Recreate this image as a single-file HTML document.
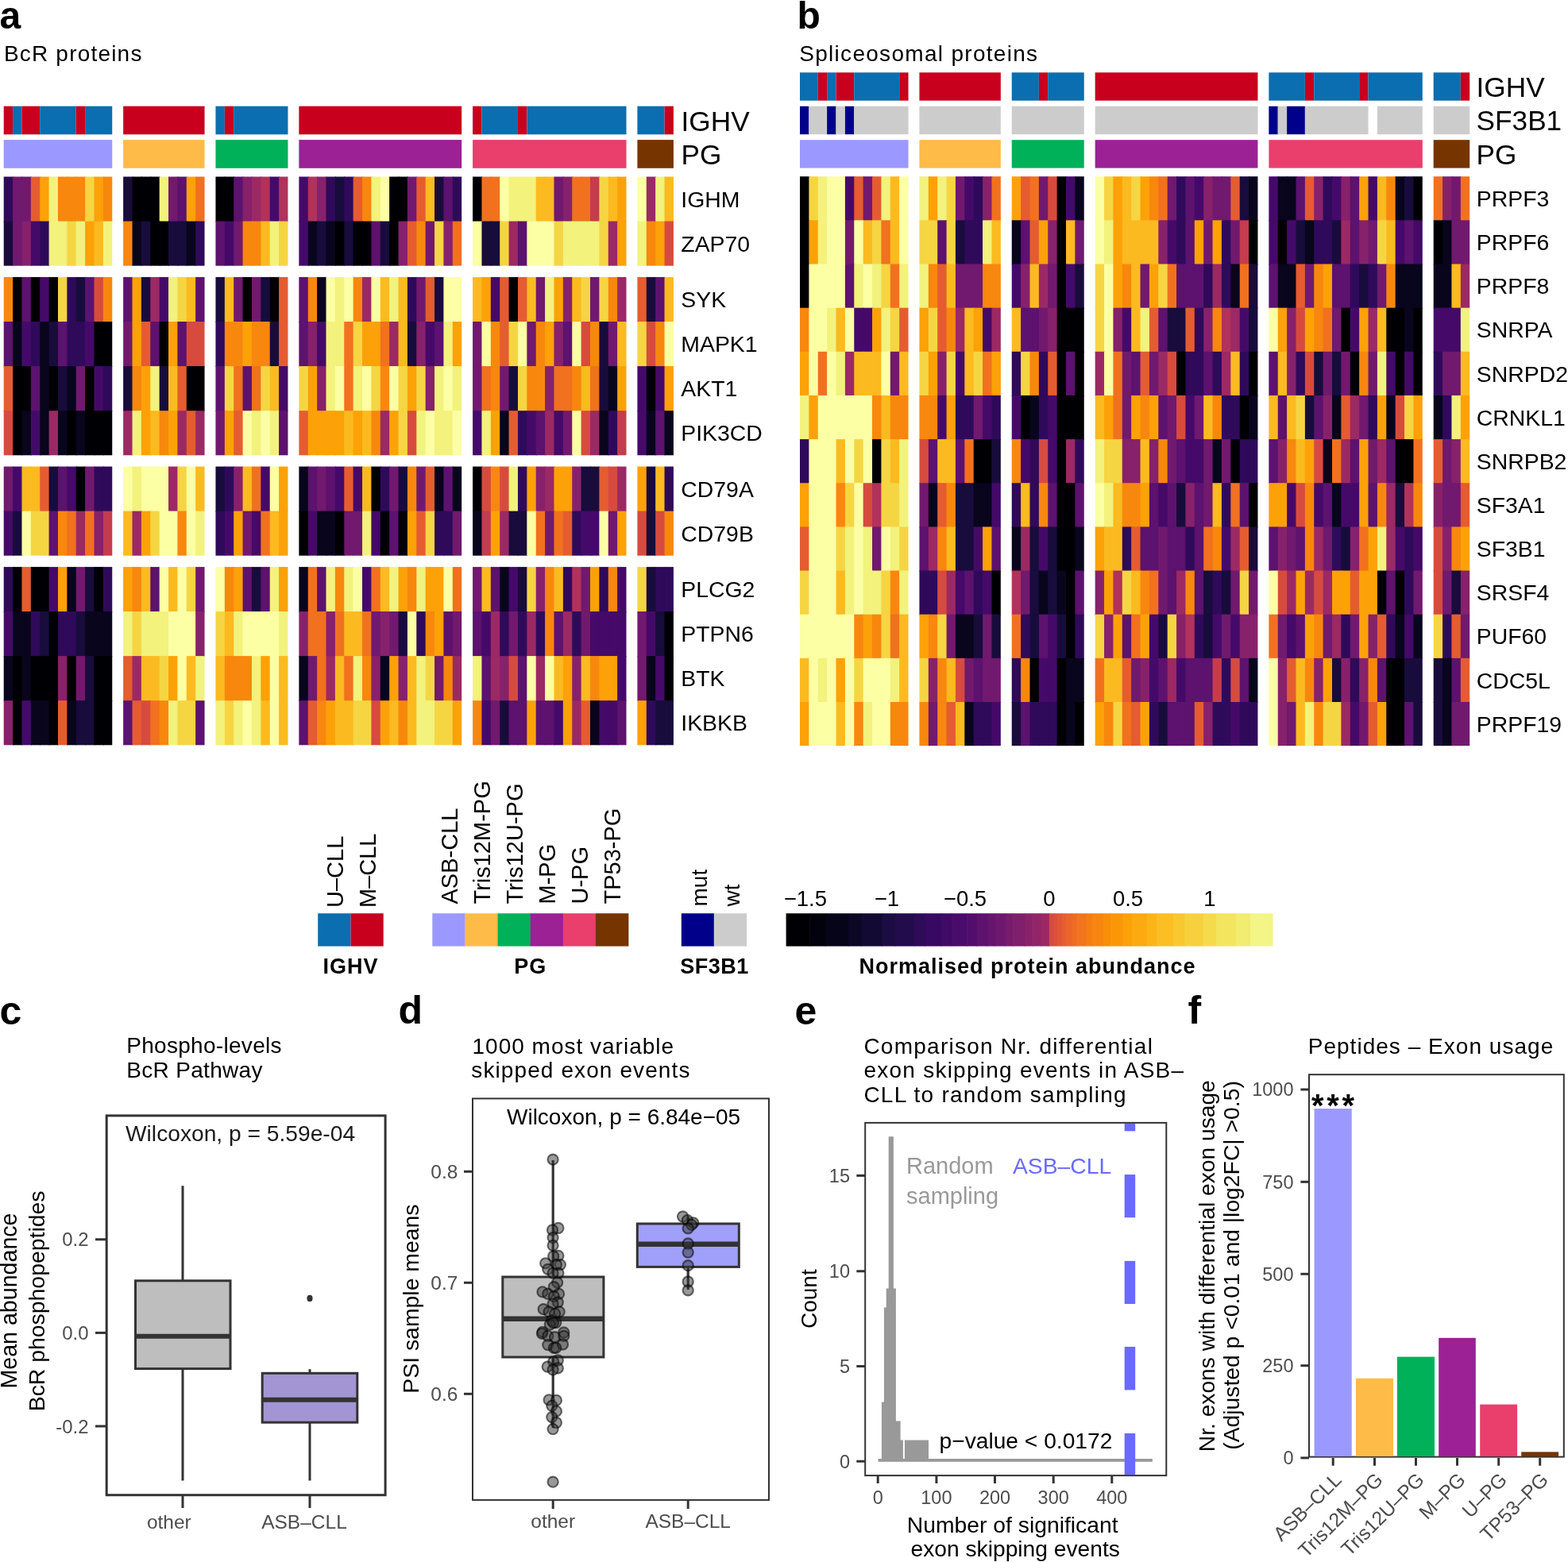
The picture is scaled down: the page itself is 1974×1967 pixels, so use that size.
<!DOCTYPE html>
<html><head><meta charset="utf-8"><title>Figure</title>
<style>
html,body{margin:0;padding:0;background:#fff;}
svg{display:block;}
text{font-family:'Liberation Sans', Arial, Helvetica, sans-serif;}
</style></head>
<body>
<svg width="1974" height="1967" viewBox="0 0 1974 1967">
<rect x="0" y="0" width="1974" height="1967" fill="#fff"/>
<text x="-0.5" y="36.2" font-size="48" font-weight="bold">a</text>
<text x="4.9" y="76.6" font-size="28" letter-spacing="1.2">BcR proteins</text>
<rect x="4.71" y="133.70" width="11.38" height="35.60" fill="#c8001e"/>
<rect x="16.09" y="133.70" width="11.38" height="35.60" fill="#0a6eb0"/>
<rect x="27.47" y="133.70" width="22.76" height="35.60" fill="#c8001e"/>
<rect x="50.22" y="133.70" width="45.51" height="35.60" fill="#0a6eb0"/>
<rect x="95.73" y="133.70" width="11.38" height="35.60" fill="#c8001e"/>
<rect x="107.11" y="133.70" width="34.13" height="35.60" fill="#0a6eb0"/>
<rect x="155.15" y="133.70" width="102.40" height="35.60" fill="#c8001e"/>
<rect x="271.45" y="133.70" width="11.38" height="35.60" fill="#0a6eb0"/>
<rect x="282.83" y="133.70" width="11.38" height="35.60" fill="#c8001e"/>
<rect x="294.20" y="133.70" width="68.27" height="35.60" fill="#0a6eb0"/>
<rect x="376.37" y="133.70" width="204.80" height="35.60" fill="#c8001e"/>
<rect x="595.08" y="133.70" width="11.38" height="35.60" fill="#c8001e"/>
<rect x="606.45" y="133.70" width="45.51" height="35.60" fill="#0a6eb0"/>
<rect x="651.97" y="133.70" width="11.38" height="35.60" fill="#c8001e"/>
<rect x="663.34" y="133.70" width="125.16" height="35.60" fill="#0a6eb0"/>
<rect x="802.40" y="133.70" width="34.13" height="35.60" fill="#0a6eb0"/>
<rect x="836.54" y="133.70" width="11.38" height="35.60" fill="#c8001e"/>
<rect x="4.71" y="176.10" width="136.54" height="35.70" fill="#9b98ff"/>
<rect x="155.15" y="176.10" width="102.40" height="35.70" fill="#ffbb48"/>
<rect x="271.45" y="176.10" width="91.02" height="35.70" fill="#00b159"/>
<rect x="376.37" y="176.10" width="204.80" height="35.70" fill="#9b2194"/>
<rect x="595.08" y="176.10" width="193.43" height="35.70" fill="#ea3e6d"/>
<rect x="802.40" y="176.10" width="45.51" height="35.70" fill="#753400"/>
<rect x="4.71" y="222.50" width="12.38" height="57.10" fill="#2f0a5b"/>
<rect x="16.09" y="222.50" width="12.38" height="57.10" fill="#71196e"/>
<rect x="27.47" y="222.50" width="12.38" height="57.10" fill="#71196e"/>
<rect x="38.84" y="222.50" width="12.38" height="57.10" fill="#e55c30"/>
<rect x="50.22" y="222.50" width="12.38" height="57.10" fill="#fca108"/>
<rect x="61.60" y="222.50" width="12.38" height="57.10" fill="#f2f27d"/>
<rect x="72.98" y="222.50" width="12.38" height="57.10" fill="#f8870e"/>
<rect x="84.36" y="222.50" width="12.38" height="57.10" fill="#f8870e"/>
<rect x="95.73" y="222.50" width="12.38" height="57.10" fill="#f8870e"/>
<rect x="107.11" y="222.50" width="12.38" height="57.10" fill="#f6d543"/>
<rect x="118.49" y="222.50" width="12.38" height="57.10" fill="#fca108"/>
<rect x="129.87" y="222.50" width="11.38" height="57.10" fill="#f8870e"/>
<rect x="4.71" y="278.60" width="12.38" height="56.10" fill="#180c3c"/>
<rect x="16.09" y="278.60" width="12.38" height="56.10" fill="#71196e"/>
<rect x="27.47" y="278.60" width="12.38" height="56.10" fill="#87216b"/>
<rect x="38.84" y="278.60" width="12.38" height="56.10" fill="#450a69"/>
<rect x="50.22" y="278.60" width="12.38" height="56.10" fill="#2f0a5b"/>
<rect x="61.60" y="278.60" width="12.38" height="56.10" fill="#f2f27d"/>
<rect x="72.98" y="278.60" width="12.38" height="56.10" fill="#f2f27d"/>
<rect x="84.36" y="278.60" width="12.38" height="56.10" fill="#f6d543"/>
<rect x="95.73" y="278.60" width="12.38" height="56.10" fill="#f2f27d"/>
<rect x="107.11" y="278.60" width="12.38" height="56.10" fill="#fca108"/>
<rect x="118.49" y="278.60" width="12.38" height="56.10" fill="#fbba1f"/>
<rect x="129.87" y="278.60" width="11.38" height="56.10" fill="#f2f27d"/>
<rect x="4.71" y="348.90" width="12.38" height="57.10" fill="#f8870e"/>
<rect x="16.09" y="348.90" width="12.38" height="57.10" fill="#000004"/>
<rect x="27.47" y="348.90" width="12.38" height="57.10" fill="#5c126e"/>
<rect x="38.84" y="348.90" width="12.38" height="57.10" fill="#000004"/>
<rect x="50.22" y="348.90" width="12.38" height="57.10" fill="#450a69"/>
<rect x="61.60" y="348.90" width="12.38" height="57.10" fill="#000004"/>
<rect x="72.98" y="348.90" width="12.38" height="57.10" fill="#f6d543"/>
<rect x="84.36" y="348.90" width="12.38" height="57.10" fill="#2f0a5b"/>
<rect x="95.73" y="348.90" width="12.38" height="57.10" fill="#180c3c"/>
<rect x="107.11" y="348.90" width="12.38" height="57.10" fill="#5c126e"/>
<rect x="118.49" y="348.90" width="12.38" height="57.10" fill="#d74b3f"/>
<rect x="129.87" y="348.90" width="11.38" height="57.10" fill="#f8870e"/>
<rect x="4.71" y="405.00" width="12.38" height="57.10" fill="#5c126e"/>
<rect x="16.09" y="405.00" width="12.38" height="57.10" fill="#08051d"/>
<rect x="27.47" y="405.00" width="12.38" height="57.10" fill="#450a69"/>
<rect x="38.84" y="405.00" width="12.38" height="57.10" fill="#2f0a5b"/>
<rect x="50.22" y="405.00" width="12.38" height="57.10" fill="#08051d"/>
<rect x="61.60" y="405.00" width="12.38" height="57.10" fill="#180c3c"/>
<rect x="72.98" y="405.00" width="12.38" height="57.10" fill="#5c126e"/>
<rect x="84.36" y="405.00" width="12.38" height="57.10" fill="#2f0a5b"/>
<rect x="95.73" y="405.00" width="12.38" height="57.10" fill="#2f0a5b"/>
<rect x="107.11" y="405.00" width="12.38" height="57.10" fill="#450a69"/>
<rect x="118.49" y="405.00" width="12.38" height="57.10" fill="#000004"/>
<rect x="129.87" y="405.00" width="11.38" height="57.10" fill="#000004"/>
<rect x="4.71" y="461.10" width="12.38" height="57.10" fill="#e55c30"/>
<rect x="16.09" y="461.10" width="12.38" height="57.10" fill="#000004"/>
<rect x="27.47" y="461.10" width="12.38" height="57.10" fill="#000004"/>
<rect x="38.84" y="461.10" width="12.38" height="57.10" fill="#5c126e"/>
<rect x="50.22" y="461.10" width="12.38" height="57.10" fill="#08051d"/>
<rect x="61.60" y="461.10" width="12.38" height="57.10" fill="#000004"/>
<rect x="72.98" y="461.10" width="12.38" height="57.10" fill="#180c3c"/>
<rect x="84.36" y="461.10" width="12.38" height="57.10" fill="#08051d"/>
<rect x="95.73" y="461.10" width="12.38" height="57.10" fill="#71196e"/>
<rect x="107.11" y="461.10" width="12.38" height="57.10" fill="#000004"/>
<rect x="118.49" y="461.10" width="12.38" height="57.10" fill="#450a69"/>
<rect x="129.87" y="461.10" width="11.38" height="57.10" fill="#2f0a5b"/>
<rect x="4.71" y="517.20" width="12.38" height="56.10" fill="#d74b3f"/>
<rect x="16.09" y="517.20" width="12.38" height="56.10" fill="#000004"/>
<rect x="27.47" y="517.20" width="12.38" height="56.10" fill="#08051d"/>
<rect x="38.84" y="517.20" width="12.38" height="56.10" fill="#450a69"/>
<rect x="50.22" y="517.20" width="12.38" height="56.10" fill="#08051d"/>
<rect x="61.60" y="517.20" width="12.38" height="56.10" fill="#9b2964"/>
<rect x="72.98" y="517.20" width="12.38" height="56.10" fill="#08051d"/>
<rect x="84.36" y="517.20" width="12.38" height="56.10" fill="#000004"/>
<rect x="95.73" y="517.20" width="12.38" height="56.10" fill="#08051d"/>
<rect x="107.11" y="517.20" width="12.38" height="56.10" fill="#000004"/>
<rect x="118.49" y="517.20" width="12.38" height="56.10" fill="#000004"/>
<rect x="129.87" y="517.20" width="11.38" height="56.10" fill="#000004"/>
<rect x="4.71" y="587.50" width="12.38" height="57.10" fill="#71196e"/>
<rect x="16.09" y="587.50" width="12.38" height="57.10" fill="#450a69"/>
<rect x="27.47" y="587.50" width="12.38" height="57.10" fill="#fbba1f"/>
<rect x="38.84" y="587.50" width="12.38" height="57.10" fill="#fbba1f"/>
<rect x="50.22" y="587.50" width="12.38" height="57.10" fill="#e55c30"/>
<rect x="61.60" y="587.50" width="12.38" height="57.10" fill="#180c3c"/>
<rect x="72.98" y="587.50" width="12.38" height="57.10" fill="#5c126e"/>
<rect x="84.36" y="587.50" width="12.38" height="57.10" fill="#450a69"/>
<rect x="95.73" y="587.50" width="12.38" height="57.10" fill="#000004"/>
<rect x="107.11" y="587.50" width="12.38" height="57.10" fill="#71196e"/>
<rect x="118.49" y="587.50" width="12.38" height="57.10" fill="#2f0a5b"/>
<rect x="129.87" y="587.50" width="11.38" height="57.10" fill="#2f0a5b"/>
<rect x="4.71" y="643.60" width="12.38" height="56.10" fill="#450a69"/>
<rect x="16.09" y="643.60" width="12.38" height="56.10" fill="#180c3c"/>
<rect x="27.47" y="643.60" width="12.38" height="56.10" fill="#fcffa4"/>
<rect x="38.84" y="643.60" width="12.38" height="56.10" fill="#f6d543"/>
<rect x="50.22" y="643.60" width="12.38" height="56.10" fill="#f6d543"/>
<rect x="61.60" y="643.60" width="12.38" height="56.10" fill="#5c126e"/>
<rect x="72.98" y="643.60" width="12.38" height="56.10" fill="#f8870e"/>
<rect x="84.36" y="643.60" width="12.38" height="56.10" fill="#f1711f"/>
<rect x="95.73" y="643.60" width="12.38" height="56.10" fill="#9b2964"/>
<rect x="107.11" y="643.60" width="12.38" height="56.10" fill="#f1711f"/>
<rect x="118.49" y="643.60" width="12.38" height="56.10" fill="#87216b"/>
<rect x="129.87" y="643.60" width="11.38" height="56.10" fill="#c43c4e"/>
<rect x="4.71" y="713.90" width="12.38" height="57.10" fill="#2f0a5b"/>
<rect x="16.09" y="713.90" width="12.38" height="57.10" fill="#000004"/>
<rect x="27.47" y="713.90" width="12.38" height="57.10" fill="#e55c30"/>
<rect x="38.84" y="713.90" width="12.38" height="57.10" fill="#000004"/>
<rect x="50.22" y="713.90" width="12.38" height="57.10" fill="#000004"/>
<rect x="61.60" y="713.90" width="12.38" height="57.10" fill="#450a69"/>
<rect x="72.98" y="713.90" width="12.38" height="57.10" fill="#fca108"/>
<rect x="84.36" y="713.90" width="12.38" height="57.10" fill="#08051d"/>
<rect x="95.73" y="713.90" width="12.38" height="57.10" fill="#71196e"/>
<rect x="107.11" y="713.90" width="12.38" height="57.10" fill="#180c3c"/>
<rect x="118.49" y="713.90" width="12.38" height="57.10" fill="#000004"/>
<rect x="129.87" y="713.90" width="11.38" height="57.10" fill="#2f0a5b"/>
<rect x="4.71" y="770.00" width="12.38" height="57.10" fill="#450a69"/>
<rect x="16.09" y="770.00" width="12.38" height="57.10" fill="#08051d"/>
<rect x="27.47" y="770.00" width="12.38" height="57.10" fill="#08051d"/>
<rect x="38.84" y="770.00" width="12.38" height="57.10" fill="#2f0a5b"/>
<rect x="50.22" y="770.00" width="12.38" height="57.10" fill="#180c3c"/>
<rect x="61.60" y="770.00" width="12.38" height="57.10" fill="#000004"/>
<rect x="72.98" y="770.00" width="12.38" height="57.10" fill="#2f0a5b"/>
<rect x="84.36" y="770.00" width="12.38" height="57.10" fill="#2f0a5b"/>
<rect x="95.73" y="770.00" width="12.38" height="57.10" fill="#180c3c"/>
<rect x="107.11" y="770.00" width="12.38" height="57.10" fill="#08051d"/>
<rect x="118.49" y="770.00" width="12.38" height="57.10" fill="#08051d"/>
<rect x="129.87" y="770.00" width="11.38" height="57.10" fill="#08051d"/>
<rect x="4.71" y="826.10" width="12.38" height="57.10" fill="#08051d"/>
<rect x="16.09" y="826.10" width="12.38" height="57.10" fill="#000004"/>
<rect x="27.47" y="826.10" width="12.38" height="57.10" fill="#08051d"/>
<rect x="38.84" y="826.10" width="12.38" height="57.10" fill="#000004"/>
<rect x="50.22" y="826.10" width="12.38" height="57.10" fill="#000004"/>
<rect x="61.60" y="826.10" width="12.38" height="57.10" fill="#000004"/>
<rect x="72.98" y="826.10" width="12.38" height="57.10" fill="#87216b"/>
<rect x="84.36" y="826.10" width="12.38" height="57.10" fill="#000004"/>
<rect x="95.73" y="826.10" width="12.38" height="57.10" fill="#71196e"/>
<rect x="107.11" y="826.10" width="12.38" height="57.10" fill="#180c3c"/>
<rect x="118.49" y="826.10" width="12.38" height="57.10" fill="#000004"/>
<rect x="129.87" y="826.10" width="11.38" height="57.10" fill="#000004"/>
<rect x="4.71" y="882.20" width="12.38" height="56.10" fill="#87216b"/>
<rect x="16.09" y="882.20" width="12.38" height="56.10" fill="#000004"/>
<rect x="27.47" y="882.20" width="12.38" height="56.10" fill="#450a69"/>
<rect x="38.84" y="882.20" width="12.38" height="56.10" fill="#08051d"/>
<rect x="50.22" y="882.20" width="12.38" height="56.10" fill="#08051d"/>
<rect x="61.60" y="882.20" width="12.38" height="56.10" fill="#000004"/>
<rect x="72.98" y="882.20" width="12.38" height="56.10" fill="#e55c30"/>
<rect x="84.36" y="882.20" width="12.38" height="56.10" fill="#08051d"/>
<rect x="95.73" y="882.20" width="12.38" height="56.10" fill="#180c3c"/>
<rect x="107.11" y="882.20" width="12.38" height="56.10" fill="#180c3c"/>
<rect x="118.49" y="882.20" width="12.38" height="56.10" fill="#000004"/>
<rect x="129.87" y="882.20" width="11.38" height="56.10" fill="#000004"/>
<rect x="155.15" y="222.50" width="12.38" height="57.10" fill="#180c3c"/>
<rect x="166.52" y="222.50" width="12.38" height="57.10" fill="#000004"/>
<rect x="177.90" y="222.50" width="12.38" height="57.10" fill="#000004"/>
<rect x="189.28" y="222.50" width="12.38" height="57.10" fill="#000004"/>
<rect x="200.66" y="222.50" width="12.38" height="57.10" fill="#f2f27d"/>
<rect x="212.04" y="222.50" width="12.38" height="57.10" fill="#71196e"/>
<rect x="223.41" y="222.50" width="12.38" height="57.10" fill="#5c126e"/>
<rect x="234.79" y="222.50" width="12.38" height="57.10" fill="#fca108"/>
<rect x="246.17" y="222.50" width="11.38" height="57.10" fill="#f1711f"/>
<rect x="155.15" y="278.60" width="12.38" height="56.10" fill="#f8870e"/>
<rect x="166.52" y="278.60" width="12.38" height="56.10" fill="#08051d"/>
<rect x="177.90" y="278.60" width="12.38" height="56.10" fill="#180c3c"/>
<rect x="189.28" y="278.60" width="12.38" height="56.10" fill="#000004"/>
<rect x="200.66" y="278.60" width="12.38" height="56.10" fill="#000004"/>
<rect x="212.04" y="278.60" width="12.38" height="56.10" fill="#180c3c"/>
<rect x="223.41" y="278.60" width="12.38" height="56.10" fill="#180c3c"/>
<rect x="234.79" y="278.60" width="12.38" height="56.10" fill="#08051d"/>
<rect x="246.17" y="278.60" width="11.38" height="56.10" fill="#2f0a5b"/>
<rect x="155.15" y="348.90" width="12.38" height="57.10" fill="#5c126e"/>
<rect x="166.52" y="348.90" width="12.38" height="57.10" fill="#fca108"/>
<rect x="177.90" y="348.90" width="12.38" height="57.10" fill="#180c3c"/>
<rect x="189.28" y="348.90" width="12.38" height="57.10" fill="#9b2964"/>
<rect x="200.66" y="348.90" width="12.38" height="57.10" fill="#450a69"/>
<rect x="212.04" y="348.90" width="12.38" height="57.10" fill="#f2f27d"/>
<rect x="223.41" y="348.90" width="12.38" height="57.10" fill="#f6d543"/>
<rect x="234.79" y="348.90" width="12.38" height="57.10" fill="#fbba1f"/>
<rect x="246.17" y="348.90" width="11.38" height="57.10" fill="#5c126e"/>
<rect x="155.15" y="405.00" width="12.38" height="57.10" fill="#71196e"/>
<rect x="166.52" y="405.00" width="12.38" height="57.10" fill="#fca108"/>
<rect x="177.90" y="405.00" width="12.38" height="57.10" fill="#e55c30"/>
<rect x="189.28" y="405.00" width="12.38" height="57.10" fill="#5c126e"/>
<rect x="200.66" y="405.00" width="12.38" height="57.10" fill="#000004"/>
<rect x="212.04" y="405.00" width="12.38" height="57.10" fill="#fca108"/>
<rect x="223.41" y="405.00" width="12.38" height="57.10" fill="#5c126e"/>
<rect x="234.79" y="405.00" width="12.38" height="57.10" fill="#d74b3f"/>
<rect x="246.17" y="405.00" width="11.38" height="57.10" fill="#d74b3f"/>
<rect x="155.15" y="461.10" width="12.38" height="57.10" fill="#180c3c"/>
<rect x="166.52" y="461.10" width="12.38" height="57.10" fill="#f8870e"/>
<rect x="177.90" y="461.10" width="12.38" height="57.10" fill="#fca108"/>
<rect x="189.28" y="461.10" width="12.38" height="57.10" fill="#f2f27d"/>
<rect x="200.66" y="461.10" width="12.38" height="57.10" fill="#180c3c"/>
<rect x="212.04" y="461.10" width="12.38" height="57.10" fill="#fbba1f"/>
<rect x="223.41" y="461.10" width="12.38" height="57.10" fill="#e55c30"/>
<rect x="234.79" y="461.10" width="12.38" height="57.10" fill="#000004"/>
<rect x="246.17" y="461.10" width="11.38" height="57.10" fill="#000004"/>
<rect x="155.15" y="517.20" width="12.38" height="56.10" fill="#9b2964"/>
<rect x="166.52" y="517.20" width="12.38" height="56.10" fill="#f2f27d"/>
<rect x="177.90" y="517.20" width="12.38" height="56.10" fill="#fca108"/>
<rect x="189.28" y="517.20" width="12.38" height="56.10" fill="#fbba1f"/>
<rect x="200.66" y="517.20" width="12.38" height="56.10" fill="#f8870e"/>
<rect x="212.04" y="517.20" width="12.38" height="56.10" fill="#fca108"/>
<rect x="223.41" y="517.20" width="12.38" height="56.10" fill="#9b2964"/>
<rect x="234.79" y="517.20" width="12.38" height="56.10" fill="#e55c30"/>
<rect x="246.17" y="517.20" width="11.38" height="56.10" fill="#9b2964"/>
<rect x="155.15" y="587.50" width="12.38" height="57.10" fill="#fcffa4"/>
<rect x="166.52" y="587.50" width="12.38" height="57.10" fill="#f2f27d"/>
<rect x="177.90" y="587.50" width="12.38" height="57.10" fill="#fcffa4"/>
<rect x="189.28" y="587.50" width="12.38" height="57.10" fill="#fcffa4"/>
<rect x="200.66" y="587.50" width="12.38" height="57.10" fill="#fcffa4"/>
<rect x="212.04" y="587.50" width="12.38" height="57.10" fill="#9b2964"/>
<rect x="223.41" y="587.50" width="12.38" height="57.10" fill="#f6d543"/>
<rect x="234.79" y="587.50" width="12.38" height="57.10" fill="#fcffa4"/>
<rect x="246.17" y="587.50" width="11.38" height="57.10" fill="#fbba1f"/>
<rect x="155.15" y="643.60" width="12.38" height="56.10" fill="#fbba1f"/>
<rect x="166.52" y="643.60" width="12.38" height="56.10" fill="#9b2964"/>
<rect x="177.90" y="643.60" width="12.38" height="56.10" fill="#fca108"/>
<rect x="189.28" y="643.60" width="12.38" height="56.10" fill="#f6d543"/>
<rect x="200.66" y="643.60" width="12.38" height="56.10" fill="#fcffa4"/>
<rect x="212.04" y="643.60" width="12.38" height="56.10" fill="#fcffa4"/>
<rect x="223.41" y="643.60" width="12.38" height="56.10" fill="#f8870e"/>
<rect x="234.79" y="643.60" width="12.38" height="56.10" fill="#fcffa4"/>
<rect x="246.17" y="643.60" width="11.38" height="56.10" fill="#f2f27d"/>
<rect x="155.15" y="713.90" width="12.38" height="57.10" fill="#fca108"/>
<rect x="166.52" y="713.90" width="12.38" height="57.10" fill="#f8870e"/>
<rect x="177.90" y="713.90" width="12.38" height="57.10" fill="#fbba1f"/>
<rect x="189.28" y="713.90" width="12.38" height="57.10" fill="#5c126e"/>
<rect x="200.66" y="713.90" width="12.38" height="57.10" fill="#fcffa4"/>
<rect x="212.04" y="713.90" width="12.38" height="57.10" fill="#fbba1f"/>
<rect x="223.41" y="713.90" width="12.38" height="57.10" fill="#fcffa4"/>
<rect x="234.79" y="713.90" width="12.38" height="57.10" fill="#f6d543"/>
<rect x="246.17" y="713.90" width="11.38" height="57.10" fill="#71196e"/>
<rect x="155.15" y="770.00" width="12.38" height="57.10" fill="#f2f27d"/>
<rect x="166.52" y="770.00" width="12.38" height="57.10" fill="#f6d543"/>
<rect x="177.90" y="770.00" width="12.38" height="57.10" fill="#f2f27d"/>
<rect x="189.28" y="770.00" width="12.38" height="57.10" fill="#f2f27d"/>
<rect x="200.66" y="770.00" width="12.38" height="57.10" fill="#f2f27d"/>
<rect x="212.04" y="770.00" width="12.38" height="57.10" fill="#fcffa4"/>
<rect x="223.41" y="770.00" width="12.38" height="57.10" fill="#fcffa4"/>
<rect x="234.79" y="770.00" width="12.38" height="57.10" fill="#fcffa4"/>
<rect x="246.17" y="770.00" width="11.38" height="57.10" fill="#87216b"/>
<rect x="155.15" y="826.10" width="12.38" height="57.10" fill="#e55c30"/>
<rect x="166.52" y="826.10" width="12.38" height="57.10" fill="#9b2964"/>
<rect x="177.90" y="826.10" width="12.38" height="57.10" fill="#fbba1f"/>
<rect x="189.28" y="826.10" width="12.38" height="57.10" fill="#fbba1f"/>
<rect x="200.66" y="826.10" width="12.38" height="57.10" fill="#f6d543"/>
<rect x="212.04" y="826.10" width="12.38" height="57.10" fill="#fca108"/>
<rect x="223.41" y="826.10" width="12.38" height="57.10" fill="#fcffa4"/>
<rect x="234.79" y="826.10" width="12.38" height="57.10" fill="#fbba1f"/>
<rect x="246.17" y="826.10" width="11.38" height="57.10" fill="#f2f27d"/>
<rect x="155.15" y="882.20" width="12.38" height="56.10" fill="#5c126e"/>
<rect x="166.52" y="882.20" width="12.38" height="56.10" fill="#e55c30"/>
<rect x="177.90" y="882.20" width="12.38" height="56.10" fill="#d74b3f"/>
<rect x="189.28" y="882.20" width="12.38" height="56.10" fill="#f1711f"/>
<rect x="200.66" y="882.20" width="12.38" height="56.10" fill="#f8870e"/>
<rect x="212.04" y="882.20" width="12.38" height="56.10" fill="#f2f27d"/>
<rect x="223.41" y="882.20" width="12.38" height="56.10" fill="#f6d543"/>
<rect x="234.79" y="882.20" width="12.38" height="56.10" fill="#f6d543"/>
<rect x="246.17" y="882.20" width="11.38" height="56.10" fill="#5c126e"/>
<rect x="271.45" y="222.50" width="12.38" height="57.10" fill="#000004"/>
<rect x="282.83" y="222.50" width="12.38" height="57.10" fill="#000004"/>
<rect x="294.20" y="222.50" width="12.38" height="57.10" fill="#5c126e"/>
<rect x="305.58" y="222.50" width="12.38" height="57.10" fill="#87216b"/>
<rect x="316.96" y="222.50" width="12.38" height="57.10" fill="#9b2964"/>
<rect x="328.34" y="222.50" width="12.38" height="57.10" fill="#b1325a"/>
<rect x="339.72" y="222.50" width="12.38" height="57.10" fill="#450a69"/>
<rect x="351.09" y="222.50" width="11.38" height="57.10" fill="#b1325a"/>
<rect x="271.45" y="278.60" width="12.38" height="56.10" fill="#5c126e"/>
<rect x="282.83" y="278.60" width="12.38" height="56.10" fill="#450a69"/>
<rect x="294.20" y="278.60" width="12.38" height="56.10" fill="#71196e"/>
<rect x="305.58" y="278.60" width="12.38" height="56.10" fill="#f8870e"/>
<rect x="316.96" y="278.60" width="12.38" height="56.10" fill="#f8870e"/>
<rect x="328.34" y="278.60" width="12.38" height="56.10" fill="#fbba1f"/>
<rect x="339.72" y="278.60" width="12.38" height="56.10" fill="#f2f27d"/>
<rect x="351.09" y="278.60" width="11.38" height="56.10" fill="#f6d543"/>
<rect x="271.45" y="348.90" width="12.38" height="57.10" fill="#180c3c"/>
<rect x="282.83" y="348.90" width="12.38" height="57.10" fill="#fbba1f"/>
<rect x="294.20" y="348.90" width="12.38" height="57.10" fill="#71196e"/>
<rect x="305.58" y="348.90" width="12.38" height="57.10" fill="#000004"/>
<rect x="316.96" y="348.90" width="12.38" height="57.10" fill="#71196e"/>
<rect x="328.34" y="348.90" width="12.38" height="57.10" fill="#180c3c"/>
<rect x="339.72" y="348.90" width="12.38" height="57.10" fill="#000004"/>
<rect x="351.09" y="348.90" width="11.38" height="57.10" fill="#e55c30"/>
<rect x="271.45" y="405.00" width="12.38" height="57.10" fill="#2f0a5b"/>
<rect x="282.83" y="405.00" width="12.38" height="57.10" fill="#f8870e"/>
<rect x="294.20" y="405.00" width="12.38" height="57.10" fill="#f8870e"/>
<rect x="305.58" y="405.00" width="12.38" height="57.10" fill="#fca108"/>
<rect x="316.96" y="405.00" width="12.38" height="57.10" fill="#f8870e"/>
<rect x="328.34" y="405.00" width="12.38" height="57.10" fill="#f8870e"/>
<rect x="339.72" y="405.00" width="12.38" height="57.10" fill="#180c3c"/>
<rect x="351.09" y="405.00" width="11.38" height="57.10" fill="#e55c30"/>
<rect x="271.45" y="461.10" width="12.38" height="57.10" fill="#5c126e"/>
<rect x="282.83" y="461.10" width="12.38" height="57.10" fill="#f6d543"/>
<rect x="294.20" y="461.10" width="12.38" height="57.10" fill="#f1711f"/>
<rect x="305.58" y="461.10" width="12.38" height="57.10" fill="#5c126e"/>
<rect x="316.96" y="461.10" width="12.38" height="57.10" fill="#f1711f"/>
<rect x="328.34" y="461.10" width="12.38" height="57.10" fill="#f6d543"/>
<rect x="339.72" y="461.10" width="12.38" height="57.10" fill="#fbba1f"/>
<rect x="351.09" y="461.10" width="11.38" height="57.10" fill="#450a69"/>
<rect x="271.45" y="517.20" width="12.38" height="56.10" fill="#71196e"/>
<rect x="282.83" y="517.20" width="12.38" height="56.10" fill="#fca108"/>
<rect x="294.20" y="517.20" width="12.38" height="56.10" fill="#e55c30"/>
<rect x="305.58" y="517.20" width="12.38" height="56.10" fill="#fcffa4"/>
<rect x="316.96" y="517.20" width="12.38" height="56.10" fill="#f2f27d"/>
<rect x="328.34" y="517.20" width="12.38" height="56.10" fill="#fcffa4"/>
<rect x="339.72" y="517.20" width="12.38" height="56.10" fill="#f2f27d"/>
<rect x="351.09" y="517.20" width="11.38" height="56.10" fill="#5c126e"/>
<rect x="271.45" y="587.50" width="12.38" height="57.10" fill="#180c3c"/>
<rect x="282.83" y="587.50" width="12.38" height="57.10" fill="#2f0a5b"/>
<rect x="294.20" y="587.50" width="12.38" height="57.10" fill="#87216b"/>
<rect x="305.58" y="587.50" width="12.38" height="57.10" fill="#fbba1f"/>
<rect x="316.96" y="587.50" width="12.38" height="57.10" fill="#f1711f"/>
<rect x="328.34" y="587.50" width="12.38" height="57.10" fill="#450a69"/>
<rect x="339.72" y="587.50" width="12.38" height="57.10" fill="#fcffa4"/>
<rect x="351.09" y="587.50" width="11.38" height="57.10" fill="#fca108"/>
<rect x="271.45" y="643.60" width="12.38" height="56.10" fill="#2f0a5b"/>
<rect x="282.83" y="643.60" width="12.38" height="56.10" fill="#450a69"/>
<rect x="294.20" y="643.60" width="12.38" height="56.10" fill="#fca108"/>
<rect x="305.58" y="643.60" width="12.38" height="56.10" fill="#71196e"/>
<rect x="316.96" y="643.60" width="12.38" height="56.10" fill="#450a69"/>
<rect x="328.34" y="643.60" width="12.38" height="56.10" fill="#f1711f"/>
<rect x="339.72" y="643.60" width="12.38" height="56.10" fill="#fbba1f"/>
<rect x="351.09" y="643.60" width="11.38" height="56.10" fill="#fca108"/>
<rect x="271.45" y="713.90" width="12.38" height="57.10" fill="#fcffa4"/>
<rect x="282.83" y="713.90" width="12.38" height="57.10" fill="#f8870e"/>
<rect x="294.20" y="713.90" width="12.38" height="57.10" fill="#fca108"/>
<rect x="305.58" y="713.90" width="12.38" height="57.10" fill="#5c126e"/>
<rect x="316.96" y="713.90" width="12.38" height="57.10" fill="#180c3c"/>
<rect x="328.34" y="713.90" width="12.38" height="57.10" fill="#5c126e"/>
<rect x="339.72" y="713.90" width="12.38" height="57.10" fill="#f2f27d"/>
<rect x="351.09" y="713.90" width="11.38" height="57.10" fill="#fca108"/>
<rect x="271.45" y="770.00" width="12.38" height="57.10" fill="#f6d543"/>
<rect x="282.83" y="770.00" width="12.38" height="57.10" fill="#fbba1f"/>
<rect x="294.20" y="770.00" width="12.38" height="57.10" fill="#f2f27d"/>
<rect x="305.58" y="770.00" width="12.38" height="57.10" fill="#fcffa4"/>
<rect x="316.96" y="770.00" width="12.38" height="57.10" fill="#fcffa4"/>
<rect x="328.34" y="770.00" width="12.38" height="57.10" fill="#fcffa4"/>
<rect x="339.72" y="770.00" width="12.38" height="57.10" fill="#fcffa4"/>
<rect x="351.09" y="770.00" width="11.38" height="57.10" fill="#f2f27d"/>
<rect x="271.45" y="826.10" width="12.38" height="57.10" fill="#fbba1f"/>
<rect x="282.83" y="826.10" width="12.38" height="57.10" fill="#f8870e"/>
<rect x="294.20" y="826.10" width="12.38" height="57.10" fill="#f8870e"/>
<rect x="305.58" y="826.10" width="12.38" height="57.10" fill="#f8870e"/>
<rect x="316.96" y="826.10" width="12.38" height="57.10" fill="#f2f27d"/>
<rect x="328.34" y="826.10" width="12.38" height="57.10" fill="#fca108"/>
<rect x="339.72" y="826.10" width="12.38" height="57.10" fill="#fcffa4"/>
<rect x="351.09" y="826.10" width="11.38" height="57.10" fill="#fbba1f"/>
<rect x="271.45" y="882.20" width="12.38" height="56.10" fill="#f2f27d"/>
<rect x="282.83" y="882.20" width="12.38" height="56.10" fill="#f6d543"/>
<rect x="294.20" y="882.20" width="12.38" height="56.10" fill="#f2f27d"/>
<rect x="305.58" y="882.20" width="12.38" height="56.10" fill="#fcffa4"/>
<rect x="316.96" y="882.20" width="12.38" height="56.10" fill="#f2f27d"/>
<rect x="328.34" y="882.20" width="12.38" height="56.10" fill="#fbba1f"/>
<rect x="339.72" y="882.20" width="12.38" height="56.10" fill="#fcffa4"/>
<rect x="351.09" y="882.20" width="11.38" height="56.10" fill="#fbba1f"/>
<rect x="376.37" y="222.50" width="12.38" height="57.10" fill="#450a69"/>
<rect x="387.75" y="222.50" width="12.38" height="57.10" fill="#b1325a"/>
<rect x="399.13" y="222.50" width="12.38" height="57.10" fill="#87216b"/>
<rect x="410.51" y="222.50" width="12.38" height="57.10" fill="#2f0a5b"/>
<rect x="421.88" y="222.50" width="12.38" height="57.10" fill="#180c3c"/>
<rect x="433.26" y="222.50" width="12.38" height="57.10" fill="#2f0a5b"/>
<rect x="444.64" y="222.50" width="12.38" height="57.10" fill="#e55c30"/>
<rect x="456.02" y="222.50" width="12.38" height="57.10" fill="#f8870e"/>
<rect x="467.40" y="222.50" width="12.38" height="57.10" fill="#f2f27d"/>
<rect x="478.77" y="222.50" width="12.38" height="57.10" fill="#fcffa4"/>
<rect x="490.15" y="222.50" width="12.38" height="57.10" fill="#000004"/>
<rect x="501.53" y="222.50" width="12.38" height="57.10" fill="#000004"/>
<rect x="512.91" y="222.50" width="12.38" height="57.10" fill="#71196e"/>
<rect x="524.29" y="222.50" width="12.38" height="57.10" fill="#e55c30"/>
<rect x="535.66" y="222.50" width="12.38" height="57.10" fill="#fbba1f"/>
<rect x="547.04" y="222.50" width="12.38" height="57.10" fill="#180c3c"/>
<rect x="558.42" y="222.50" width="12.38" height="57.10" fill="#5c126e"/>
<rect x="569.80" y="222.50" width="11.38" height="57.10" fill="#2f0a5b"/>
<rect x="376.37" y="278.60" width="12.38" height="56.10" fill="#450a69"/>
<rect x="387.75" y="278.60" width="12.38" height="56.10" fill="#08051d"/>
<rect x="399.13" y="278.60" width="12.38" height="56.10" fill="#180c3c"/>
<rect x="410.51" y="278.60" width="12.38" height="56.10" fill="#08051d"/>
<rect x="421.88" y="278.60" width="12.38" height="56.10" fill="#000004"/>
<rect x="433.26" y="278.60" width="12.38" height="56.10" fill="#180c3c"/>
<rect x="444.64" y="278.60" width="12.38" height="56.10" fill="#000004"/>
<rect x="456.02" y="278.60" width="12.38" height="56.10" fill="#000004"/>
<rect x="467.40" y="278.60" width="12.38" height="56.10" fill="#5c126e"/>
<rect x="478.77" y="278.60" width="12.38" height="56.10" fill="#180c3c"/>
<rect x="490.15" y="278.60" width="12.38" height="56.10" fill="#000004"/>
<rect x="501.53" y="278.60" width="12.38" height="56.10" fill="#87216b"/>
<rect x="512.91" y="278.60" width="12.38" height="56.10" fill="#e55c30"/>
<rect x="524.29" y="278.60" width="12.38" height="56.10" fill="#f8870e"/>
<rect x="535.66" y="278.60" width="12.38" height="56.10" fill="#71196e"/>
<rect x="547.04" y="278.60" width="12.38" height="56.10" fill="#f6d543"/>
<rect x="558.42" y="278.60" width="12.38" height="56.10" fill="#87216b"/>
<rect x="569.80" y="278.60" width="11.38" height="56.10" fill="#f1711f"/>
<rect x="376.37" y="348.90" width="12.38" height="57.10" fill="#5c126e"/>
<rect x="387.75" y="348.90" width="12.38" height="57.10" fill="#f8870e"/>
<rect x="399.13" y="348.90" width="12.38" height="57.10" fill="#08051d"/>
<rect x="410.51" y="348.90" width="12.38" height="57.10" fill="#fcffa4"/>
<rect x="421.88" y="348.90" width="12.38" height="57.10" fill="#f2f27d"/>
<rect x="433.26" y="348.90" width="12.38" height="57.10" fill="#fcffa4"/>
<rect x="444.64" y="348.90" width="12.38" height="57.10" fill="#f8870e"/>
<rect x="456.02" y="348.90" width="12.38" height="57.10" fill="#9b2964"/>
<rect x="467.40" y="348.90" width="12.38" height="57.10" fill="#fcffa4"/>
<rect x="478.77" y="348.90" width="12.38" height="57.10" fill="#fbba1f"/>
<rect x="490.15" y="348.90" width="12.38" height="57.10" fill="#f2f27d"/>
<rect x="501.53" y="348.90" width="12.38" height="57.10" fill="#fbba1f"/>
<rect x="512.91" y="348.90" width="12.38" height="57.10" fill="#2f0a5b"/>
<rect x="524.29" y="348.90" width="12.38" height="57.10" fill="#71196e"/>
<rect x="535.66" y="348.90" width="12.38" height="57.10" fill="#e55c30"/>
<rect x="547.04" y="348.90" width="12.38" height="57.10" fill="#180c3c"/>
<rect x="558.42" y="348.90" width="12.38" height="57.10" fill="#fcffa4"/>
<rect x="569.80" y="348.90" width="11.38" height="57.10" fill="#fcffa4"/>
<rect x="376.37" y="405.00" width="12.38" height="57.10" fill="#5c126e"/>
<rect x="387.75" y="405.00" width="12.38" height="57.10" fill="#87216b"/>
<rect x="399.13" y="405.00" width="12.38" height="57.10" fill="#450a69"/>
<rect x="410.51" y="405.00" width="12.38" height="57.10" fill="#f2f27d"/>
<rect x="421.88" y="405.00" width="12.38" height="57.10" fill="#f2f27d"/>
<rect x="433.26" y="405.00" width="12.38" height="57.10" fill="#f1711f"/>
<rect x="444.64" y="405.00" width="12.38" height="57.10" fill="#f6d543"/>
<rect x="456.02" y="405.00" width="12.38" height="57.10" fill="#fca108"/>
<rect x="467.40" y="405.00" width="12.38" height="57.10" fill="#fca108"/>
<rect x="478.77" y="405.00" width="12.38" height="57.10" fill="#f1711f"/>
<rect x="490.15" y="405.00" width="12.38" height="57.10" fill="#9b2964"/>
<rect x="501.53" y="405.00" width="12.38" height="57.10" fill="#fbba1f"/>
<rect x="512.91" y="405.00" width="12.38" height="57.10" fill="#180c3c"/>
<rect x="524.29" y="405.00" width="12.38" height="57.10" fill="#87216b"/>
<rect x="535.66" y="405.00" width="12.38" height="57.10" fill="#450a69"/>
<rect x="547.04" y="405.00" width="12.38" height="57.10" fill="#5c126e"/>
<rect x="558.42" y="405.00" width="12.38" height="57.10" fill="#f2f27d"/>
<rect x="569.80" y="405.00" width="11.38" height="57.10" fill="#fca108"/>
<rect x="376.37" y="461.10" width="12.38" height="57.10" fill="#f6d543"/>
<rect x="387.75" y="461.10" width="12.38" height="57.10" fill="#fca108"/>
<rect x="399.13" y="461.10" width="12.38" height="57.10" fill="#87216b"/>
<rect x="410.51" y="461.10" width="12.38" height="57.10" fill="#f2f27d"/>
<rect x="421.88" y="461.10" width="12.38" height="57.10" fill="#fcffa4"/>
<rect x="433.26" y="461.10" width="12.38" height="57.10" fill="#f1711f"/>
<rect x="444.64" y="461.10" width="12.38" height="57.10" fill="#f2f27d"/>
<rect x="456.02" y="461.10" width="12.38" height="57.10" fill="#fcffa4"/>
<rect x="467.40" y="461.10" width="12.38" height="57.10" fill="#f6d543"/>
<rect x="478.77" y="461.10" width="12.38" height="57.10" fill="#f8870e"/>
<rect x="490.15" y="461.10" width="12.38" height="57.10" fill="#fcffa4"/>
<rect x="501.53" y="461.10" width="12.38" height="57.10" fill="#f6d543"/>
<rect x="512.91" y="461.10" width="12.38" height="57.10" fill="#fca108"/>
<rect x="524.29" y="461.10" width="12.38" height="57.10" fill="#f6d543"/>
<rect x="535.66" y="461.10" width="12.38" height="57.10" fill="#87216b"/>
<rect x="547.04" y="461.10" width="12.38" height="57.10" fill="#f2f27d"/>
<rect x="558.42" y="461.10" width="12.38" height="57.10" fill="#fcffa4"/>
<rect x="569.80" y="461.10" width="11.38" height="57.10" fill="#f2f27d"/>
<rect x="376.37" y="517.20" width="12.38" height="56.10" fill="#e55c30"/>
<rect x="387.75" y="517.20" width="12.38" height="56.10" fill="#fca108"/>
<rect x="399.13" y="517.20" width="12.38" height="56.10" fill="#fca108"/>
<rect x="410.51" y="517.20" width="12.38" height="56.10" fill="#fca108"/>
<rect x="421.88" y="517.20" width="12.38" height="56.10" fill="#fca108"/>
<rect x="433.26" y="517.20" width="12.38" height="56.10" fill="#fbba1f"/>
<rect x="444.64" y="517.20" width="12.38" height="56.10" fill="#fca108"/>
<rect x="456.02" y="517.20" width="12.38" height="56.10" fill="#fbba1f"/>
<rect x="467.40" y="517.20" width="12.38" height="56.10" fill="#f8870e"/>
<rect x="478.77" y="517.20" width="12.38" height="56.10" fill="#9b2964"/>
<rect x="490.15" y="517.20" width="12.38" height="56.10" fill="#fca108"/>
<rect x="501.53" y="517.20" width="12.38" height="56.10" fill="#f6d543"/>
<rect x="512.91" y="517.20" width="12.38" height="56.10" fill="#d74b3f"/>
<rect x="524.29" y="517.20" width="12.38" height="56.10" fill="#f2f27d"/>
<rect x="535.66" y="517.20" width="12.38" height="56.10" fill="#fcffa4"/>
<rect x="547.04" y="517.20" width="12.38" height="56.10" fill="#f2f27d"/>
<rect x="558.42" y="517.20" width="12.38" height="56.10" fill="#f2f27d"/>
<rect x="569.80" y="517.20" width="11.38" height="56.10" fill="#fcffa4"/>
<rect x="376.37" y="587.50" width="12.38" height="57.10" fill="#08051d"/>
<rect x="387.75" y="587.50" width="12.38" height="57.10" fill="#5c126e"/>
<rect x="399.13" y="587.50" width="12.38" height="57.10" fill="#71196e"/>
<rect x="410.51" y="587.50" width="12.38" height="57.10" fill="#5c126e"/>
<rect x="421.88" y="587.50" width="12.38" height="57.10" fill="#450a69"/>
<rect x="433.26" y="587.50" width="12.38" height="57.10" fill="#e55c30"/>
<rect x="444.64" y="587.50" width="12.38" height="57.10" fill="#450a69"/>
<rect x="456.02" y="587.50" width="12.38" height="57.10" fill="#fbba1f"/>
<rect x="467.40" y="587.50" width="12.38" height="57.10" fill="#000004"/>
<rect x="478.77" y="587.50" width="12.38" height="57.10" fill="#2f0a5b"/>
<rect x="490.15" y="587.50" width="12.38" height="57.10" fill="#71196e"/>
<rect x="501.53" y="587.50" width="12.38" height="57.10" fill="#180c3c"/>
<rect x="512.91" y="587.50" width="12.38" height="57.10" fill="#f8870e"/>
<rect x="524.29" y="587.50" width="12.38" height="57.10" fill="#71196e"/>
<rect x="535.66" y="587.50" width="12.38" height="57.10" fill="#e55c30"/>
<rect x="547.04" y="587.50" width="12.38" height="57.10" fill="#08051d"/>
<rect x="558.42" y="587.50" width="12.38" height="57.10" fill="#5c126e"/>
<rect x="569.80" y="587.50" width="11.38" height="57.10" fill="#08051d"/>
<rect x="376.37" y="643.60" width="12.38" height="56.10" fill="#000004"/>
<rect x="387.75" y="643.60" width="12.38" height="56.10" fill="#450a69"/>
<rect x="399.13" y="643.60" width="12.38" height="56.10" fill="#08051d"/>
<rect x="410.51" y="643.60" width="12.38" height="56.10" fill="#08051d"/>
<rect x="421.88" y="643.60" width="12.38" height="56.10" fill="#000004"/>
<rect x="433.26" y="643.60" width="12.38" height="56.10" fill="#71196e"/>
<rect x="444.64" y="643.60" width="12.38" height="56.10" fill="#71196e"/>
<rect x="456.02" y="643.60" width="12.38" height="56.10" fill="#f2f27d"/>
<rect x="467.40" y="643.60" width="12.38" height="56.10" fill="#450a69"/>
<rect x="478.77" y="643.60" width="12.38" height="56.10" fill="#000004"/>
<rect x="490.15" y="643.60" width="12.38" height="56.10" fill="#5c126e"/>
<rect x="501.53" y="643.60" width="12.38" height="56.10" fill="#000004"/>
<rect x="512.91" y="643.60" width="12.38" height="56.10" fill="#fca108"/>
<rect x="524.29" y="643.60" width="12.38" height="56.10" fill="#e55c30"/>
<rect x="535.66" y="643.60" width="12.38" height="56.10" fill="#f6d543"/>
<rect x="547.04" y="643.60" width="12.38" height="56.10" fill="#2f0a5b"/>
<rect x="558.42" y="643.60" width="12.38" height="56.10" fill="#2f0a5b"/>
<rect x="569.80" y="643.60" width="11.38" height="56.10" fill="#71196e"/>
<rect x="376.37" y="713.90" width="12.38" height="57.10" fill="#08051d"/>
<rect x="387.75" y="713.90" width="12.38" height="57.10" fill="#f1711f"/>
<rect x="399.13" y="713.90" width="12.38" height="57.10" fill="#5c126e"/>
<rect x="410.51" y="713.90" width="12.38" height="57.10" fill="#f2f27d"/>
<rect x="421.88" y="713.90" width="12.38" height="57.10" fill="#f8870e"/>
<rect x="433.26" y="713.90" width="12.38" height="57.10" fill="#f2f27d"/>
<rect x="444.64" y="713.90" width="12.38" height="57.10" fill="#fcffa4"/>
<rect x="456.02" y="713.90" width="12.38" height="57.10" fill="#450a69"/>
<rect x="467.40" y="713.90" width="12.38" height="57.10" fill="#f1711f"/>
<rect x="478.77" y="713.90" width="12.38" height="57.10" fill="#fbba1f"/>
<rect x="490.15" y="713.90" width="12.38" height="57.10" fill="#f2f27d"/>
<rect x="501.53" y="713.90" width="12.38" height="57.10" fill="#fca108"/>
<rect x="512.91" y="713.90" width="12.38" height="57.10" fill="#f8870e"/>
<rect x="524.29" y="713.90" width="12.38" height="57.10" fill="#f2f27d"/>
<rect x="535.66" y="713.90" width="12.38" height="57.10" fill="#fca108"/>
<rect x="547.04" y="713.90" width="12.38" height="57.10" fill="#fca108"/>
<rect x="558.42" y="713.90" width="12.38" height="57.10" fill="#fcffa4"/>
<rect x="569.80" y="713.90" width="11.38" height="57.10" fill="#f1711f"/>
<rect x="376.37" y="770.00" width="12.38" height="57.10" fill="#87216b"/>
<rect x="387.75" y="770.00" width="12.38" height="57.10" fill="#f1711f"/>
<rect x="399.13" y="770.00" width="12.38" height="57.10" fill="#f1711f"/>
<rect x="410.51" y="770.00" width="12.38" height="57.10" fill="#87216b"/>
<rect x="421.88" y="770.00" width="12.38" height="57.10" fill="#f1711f"/>
<rect x="433.26" y="770.00" width="12.38" height="57.10" fill="#fbba1f"/>
<rect x="444.64" y="770.00" width="12.38" height="57.10" fill="#fbba1f"/>
<rect x="456.02" y="770.00" width="12.38" height="57.10" fill="#f1711f"/>
<rect x="467.40" y="770.00" width="12.38" height="57.10" fill="#71196e"/>
<rect x="478.77" y="770.00" width="12.38" height="57.10" fill="#87216b"/>
<rect x="490.15" y="770.00" width="12.38" height="57.10" fill="#71196e"/>
<rect x="501.53" y="770.00" width="12.38" height="57.10" fill="#180c3c"/>
<rect x="512.91" y="770.00" width="12.38" height="57.10" fill="#fcffa4"/>
<rect x="524.29" y="770.00" width="12.38" height="57.10" fill="#2f0a5b"/>
<rect x="535.66" y="770.00" width="12.38" height="57.10" fill="#f8870e"/>
<rect x="547.04" y="770.00" width="12.38" height="57.10" fill="#fca108"/>
<rect x="558.42" y="770.00" width="12.38" height="57.10" fill="#5c126e"/>
<rect x="569.80" y="770.00" width="11.38" height="57.10" fill="#71196e"/>
<rect x="376.37" y="826.10" width="12.38" height="57.10" fill="#08051d"/>
<rect x="387.75" y="826.10" width="12.38" height="57.10" fill="#71196e"/>
<rect x="399.13" y="826.10" width="12.38" height="57.10" fill="#f1711f"/>
<rect x="410.51" y="826.10" width="12.38" height="57.10" fill="#9b2964"/>
<rect x="421.88" y="826.10" width="12.38" height="57.10" fill="#fbba1f"/>
<rect x="433.26" y="826.10" width="12.38" height="57.10" fill="#f1711f"/>
<rect x="444.64" y="826.10" width="12.38" height="57.10" fill="#f2f27d"/>
<rect x="456.02" y="826.10" width="12.38" height="57.10" fill="#f8870e"/>
<rect x="467.40" y="826.10" width="12.38" height="57.10" fill="#87216b"/>
<rect x="478.77" y="826.10" width="12.38" height="57.10" fill="#08051d"/>
<rect x="490.15" y="826.10" width="12.38" height="57.10" fill="#fca108"/>
<rect x="501.53" y="826.10" width="12.38" height="57.10" fill="#87216b"/>
<rect x="512.91" y="826.10" width="12.38" height="57.10" fill="#fbba1f"/>
<rect x="524.29" y="826.10" width="12.38" height="57.10" fill="#f2f27d"/>
<rect x="535.66" y="826.10" width="12.38" height="57.10" fill="#f6d543"/>
<rect x="547.04" y="826.10" width="12.38" height="57.10" fill="#71196e"/>
<rect x="558.42" y="826.10" width="12.38" height="57.10" fill="#f8870e"/>
<rect x="569.80" y="826.10" width="11.38" height="57.10" fill="#9b2964"/>
<rect x="376.37" y="882.20" width="12.38" height="56.10" fill="#5c126e"/>
<rect x="387.75" y="882.20" width="12.38" height="56.10" fill="#e55c30"/>
<rect x="399.13" y="882.20" width="12.38" height="56.10" fill="#f8870e"/>
<rect x="410.51" y="882.20" width="12.38" height="56.10" fill="#fca108"/>
<rect x="421.88" y="882.20" width="12.38" height="56.10" fill="#fbba1f"/>
<rect x="433.26" y="882.20" width="12.38" height="56.10" fill="#fbba1f"/>
<rect x="444.64" y="882.20" width="12.38" height="56.10" fill="#f6d543"/>
<rect x="456.02" y="882.20" width="12.38" height="56.10" fill="#f6d543"/>
<rect x="467.40" y="882.20" width="12.38" height="56.10" fill="#d74b3f"/>
<rect x="478.77" y="882.20" width="12.38" height="56.10" fill="#fca108"/>
<rect x="490.15" y="882.20" width="12.38" height="56.10" fill="#fbba1f"/>
<rect x="501.53" y="882.20" width="12.38" height="56.10" fill="#f8870e"/>
<rect x="512.91" y="882.20" width="12.38" height="56.10" fill="#fbba1f"/>
<rect x="524.29" y="882.20" width="12.38" height="56.10" fill="#f2f27d"/>
<rect x="535.66" y="882.20" width="12.38" height="56.10" fill="#f2f27d"/>
<rect x="547.04" y="882.20" width="12.38" height="56.10" fill="#f6d543"/>
<rect x="558.42" y="882.20" width="12.38" height="56.10" fill="#f6d543"/>
<rect x="569.80" y="882.20" width="11.38" height="56.10" fill="#fca108"/>
<rect x="595.08" y="222.50" width="12.38" height="57.10" fill="#000004"/>
<rect x="606.45" y="222.50" width="12.38" height="57.10" fill="#f1711f"/>
<rect x="617.83" y="222.50" width="12.38" height="57.10" fill="#f1711f"/>
<rect x="629.21" y="222.50" width="12.38" height="57.10" fill="#fcffa4"/>
<rect x="640.59" y="222.50" width="12.38" height="57.10" fill="#f2f27d"/>
<rect x="651.97" y="222.50" width="12.38" height="57.10" fill="#f2f27d"/>
<rect x="663.34" y="222.50" width="12.38" height="57.10" fill="#f2f27d"/>
<rect x="674.72" y="222.50" width="12.38" height="57.10" fill="#fbba1f"/>
<rect x="686.10" y="222.50" width="12.38" height="57.10" fill="#fbba1f"/>
<rect x="697.48" y="222.50" width="12.38" height="57.10" fill="#71196e"/>
<rect x="708.86" y="222.50" width="12.38" height="57.10" fill="#87216b"/>
<rect x="720.23" y="222.50" width="12.38" height="57.10" fill="#f1711f"/>
<rect x="731.61" y="222.50" width="12.38" height="57.10" fill="#f1711f"/>
<rect x="742.99" y="222.50" width="12.38" height="57.10" fill="#c43c4e"/>
<rect x="754.37" y="222.50" width="12.38" height="57.10" fill="#f6d543"/>
<rect x="765.75" y="222.50" width="12.38" height="57.10" fill="#fbba1f"/>
<rect x="777.12" y="222.50" width="11.38" height="57.10" fill="#fca108"/>
<rect x="595.08" y="278.60" width="12.38" height="56.10" fill="#fcffa4"/>
<rect x="606.45" y="278.60" width="12.38" height="56.10" fill="#180c3c"/>
<rect x="617.83" y="278.60" width="12.38" height="56.10" fill="#180c3c"/>
<rect x="629.21" y="278.60" width="12.38" height="56.10" fill="#f6d543"/>
<rect x="640.59" y="278.60" width="12.38" height="56.10" fill="#9b2964"/>
<rect x="651.97" y="278.60" width="12.38" height="56.10" fill="#5c126e"/>
<rect x="663.34" y="278.60" width="12.38" height="56.10" fill="#fcffa4"/>
<rect x="674.72" y="278.60" width="12.38" height="56.10" fill="#fcffa4"/>
<rect x="686.10" y="278.60" width="12.38" height="56.10" fill="#fcffa4"/>
<rect x="697.48" y="278.60" width="12.38" height="56.10" fill="#f6d543"/>
<rect x="708.86" y="278.60" width="12.38" height="56.10" fill="#f2f27d"/>
<rect x="720.23" y="278.60" width="12.38" height="56.10" fill="#f2f27d"/>
<rect x="731.61" y="278.60" width="12.38" height="56.10" fill="#f2f27d"/>
<rect x="742.99" y="278.60" width="12.38" height="56.10" fill="#f2f27d"/>
<rect x="754.37" y="278.60" width="12.38" height="56.10" fill="#f6d543"/>
<rect x="765.75" y="278.60" width="12.38" height="56.10" fill="#9b2964"/>
<rect x="777.12" y="278.60" width="11.38" height="56.10" fill="#fca108"/>
<rect x="595.08" y="348.90" width="12.38" height="57.10" fill="#fbba1f"/>
<rect x="606.45" y="348.90" width="12.38" height="57.10" fill="#fca108"/>
<rect x="617.83" y="348.90" width="12.38" height="57.10" fill="#450a69"/>
<rect x="629.21" y="348.90" width="12.38" height="57.10" fill="#e55c30"/>
<rect x="640.59" y="348.90" width="12.38" height="57.10" fill="#000004"/>
<rect x="651.97" y="348.90" width="12.38" height="57.10" fill="#e55c30"/>
<rect x="663.34" y="348.90" width="12.38" height="57.10" fill="#fbba1f"/>
<rect x="674.72" y="348.90" width="12.38" height="57.10" fill="#71196e"/>
<rect x="686.10" y="348.90" width="12.38" height="57.10" fill="#f2f27d"/>
<rect x="697.48" y="348.90" width="12.38" height="57.10" fill="#fca108"/>
<rect x="708.86" y="348.90" width="12.38" height="57.10" fill="#87216b"/>
<rect x="720.23" y="348.90" width="12.38" height="57.10" fill="#fbba1f"/>
<rect x="731.61" y="348.90" width="12.38" height="57.10" fill="#f6d543"/>
<rect x="742.99" y="348.90" width="12.38" height="57.10" fill="#71196e"/>
<rect x="754.37" y="348.90" width="12.38" height="57.10" fill="#f6d543"/>
<rect x="765.75" y="348.90" width="12.38" height="57.10" fill="#f8870e"/>
<rect x="777.12" y="348.90" width="11.38" height="57.10" fill="#9b2964"/>
<rect x="595.08" y="405.00" width="12.38" height="57.10" fill="#71196e"/>
<rect x="606.45" y="405.00" width="12.38" height="57.10" fill="#fcffa4"/>
<rect x="617.83" y="405.00" width="12.38" height="57.10" fill="#f8870e"/>
<rect x="629.21" y="405.00" width="12.38" height="57.10" fill="#e55c30"/>
<rect x="640.59" y="405.00" width="12.38" height="57.10" fill="#f6d543"/>
<rect x="651.97" y="405.00" width="12.38" height="57.10" fill="#fcffa4"/>
<rect x="663.34" y="405.00" width="12.38" height="57.10" fill="#71196e"/>
<rect x="674.72" y="405.00" width="12.38" height="57.10" fill="#f8870e"/>
<rect x="686.10" y="405.00" width="12.38" height="57.10" fill="#fca108"/>
<rect x="697.48" y="405.00" width="12.38" height="57.10" fill="#87216b"/>
<rect x="708.86" y="405.00" width="12.38" height="57.10" fill="#5c126e"/>
<rect x="720.23" y="405.00" width="12.38" height="57.10" fill="#fcffa4"/>
<rect x="731.61" y="405.00" width="12.38" height="57.10" fill="#d74b3f"/>
<rect x="742.99" y="405.00" width="12.38" height="57.10" fill="#f8870e"/>
<rect x="754.37" y="405.00" width="12.38" height="57.10" fill="#180c3c"/>
<rect x="765.75" y="405.00" width="12.38" height="57.10" fill="#71196e"/>
<rect x="777.12" y="405.00" width="11.38" height="57.10" fill="#fbba1f"/>
<rect x="595.08" y="461.10" width="12.38" height="57.10" fill="#71196e"/>
<rect x="606.45" y="461.10" width="12.38" height="57.10" fill="#f1711f"/>
<rect x="617.83" y="461.10" width="12.38" height="57.10" fill="#f8870e"/>
<rect x="629.21" y="461.10" width="12.38" height="57.10" fill="#71196e"/>
<rect x="640.59" y="461.10" width="12.38" height="57.10" fill="#180c3c"/>
<rect x="651.97" y="461.10" width="12.38" height="57.10" fill="#f6d543"/>
<rect x="663.34" y="461.10" width="12.38" height="57.10" fill="#f8870e"/>
<rect x="674.72" y="461.10" width="12.38" height="57.10" fill="#f8870e"/>
<rect x="686.10" y="461.10" width="12.38" height="57.10" fill="#87216b"/>
<rect x="697.48" y="461.10" width="12.38" height="57.10" fill="#f1711f"/>
<rect x="708.86" y="461.10" width="12.38" height="57.10" fill="#f1711f"/>
<rect x="720.23" y="461.10" width="12.38" height="57.10" fill="#f8870e"/>
<rect x="731.61" y="461.10" width="12.38" height="57.10" fill="#fbba1f"/>
<rect x="742.99" y="461.10" width="12.38" height="57.10" fill="#f1711f"/>
<rect x="754.37" y="461.10" width="12.38" height="57.10" fill="#180c3c"/>
<rect x="765.75" y="461.10" width="12.38" height="57.10" fill="#08051d"/>
<rect x="777.12" y="461.10" width="11.38" height="57.10" fill="#fca108"/>
<rect x="595.08" y="517.20" width="12.38" height="56.10" fill="#450a69"/>
<rect x="606.45" y="517.20" width="12.38" height="56.10" fill="#f2f27d"/>
<rect x="617.83" y="517.20" width="12.38" height="56.10" fill="#fca108"/>
<rect x="629.21" y="517.20" width="12.38" height="56.10" fill="#08051d"/>
<rect x="640.59" y="517.20" width="12.38" height="56.10" fill="#e55c30"/>
<rect x="651.97" y="517.20" width="12.38" height="56.10" fill="#2f0a5b"/>
<rect x="663.34" y="517.20" width="12.38" height="56.10" fill="#450a69"/>
<rect x="674.72" y="517.20" width="12.38" height="56.10" fill="#5c126e"/>
<rect x="686.10" y="517.20" width="12.38" height="56.10" fill="#9b2964"/>
<rect x="697.48" y="517.20" width="12.38" height="56.10" fill="#450a69"/>
<rect x="708.86" y="517.20" width="12.38" height="56.10" fill="#71196e"/>
<rect x="720.23" y="517.20" width="12.38" height="56.10" fill="#fcffa4"/>
<rect x="731.61" y="517.20" width="12.38" height="56.10" fill="#d74b3f"/>
<rect x="742.99" y="517.20" width="12.38" height="56.10" fill="#9b2964"/>
<rect x="754.37" y="517.20" width="12.38" height="56.10" fill="#08051d"/>
<rect x="765.75" y="517.20" width="12.38" height="56.10" fill="#2f0a5b"/>
<rect x="777.12" y="517.20" width="11.38" height="56.10" fill="#c43c4e"/>
<rect x="595.08" y="587.50" width="12.38" height="57.10" fill="#000004"/>
<rect x="606.45" y="587.50" width="12.38" height="57.10" fill="#d74b3f"/>
<rect x="617.83" y="587.50" width="12.38" height="57.10" fill="#f8870e"/>
<rect x="629.21" y="587.50" width="12.38" height="57.10" fill="#d74b3f"/>
<rect x="640.59" y="587.50" width="12.38" height="57.10" fill="#f2f27d"/>
<rect x="651.97" y="587.50" width="12.38" height="57.10" fill="#2f0a5b"/>
<rect x="663.34" y="587.50" width="12.38" height="57.10" fill="#fca108"/>
<rect x="674.72" y="587.50" width="12.38" height="57.10" fill="#87216b"/>
<rect x="686.10" y="587.50" width="12.38" height="57.10" fill="#9b2964"/>
<rect x="697.48" y="587.50" width="12.38" height="57.10" fill="#fca108"/>
<rect x="708.86" y="587.50" width="12.38" height="57.10" fill="#fca108"/>
<rect x="720.23" y="587.50" width="12.38" height="57.10" fill="#87216b"/>
<rect x="731.61" y="587.50" width="12.38" height="57.10" fill="#180c3c"/>
<rect x="742.99" y="587.50" width="12.38" height="57.10" fill="#180c3c"/>
<rect x="754.37" y="587.50" width="12.38" height="57.10" fill="#e55c30"/>
<rect x="765.75" y="587.50" width="12.38" height="57.10" fill="#d74b3f"/>
<rect x="777.12" y="587.50" width="11.38" height="57.10" fill="#9b2964"/>
<rect x="595.08" y="643.60" width="12.38" height="56.10" fill="#08051d"/>
<rect x="606.45" y="643.60" width="12.38" height="56.10" fill="#c43c4e"/>
<rect x="617.83" y="643.60" width="12.38" height="56.10" fill="#fca108"/>
<rect x="629.21" y="643.60" width="12.38" height="56.10" fill="#9b2964"/>
<rect x="640.59" y="643.60" width="12.38" height="56.10" fill="#180c3c"/>
<rect x="651.97" y="643.60" width="12.38" height="56.10" fill="#180c3c"/>
<rect x="663.34" y="643.60" width="12.38" height="56.10" fill="#fcffa4"/>
<rect x="674.72" y="643.60" width="12.38" height="56.10" fill="#f1711f"/>
<rect x="686.10" y="643.60" width="12.38" height="56.10" fill="#71196e"/>
<rect x="697.48" y="643.60" width="12.38" height="56.10" fill="#f1711f"/>
<rect x="708.86" y="643.60" width="12.38" height="56.10" fill="#e55c30"/>
<rect x="720.23" y="643.60" width="12.38" height="56.10" fill="#2f0a5b"/>
<rect x="731.61" y="643.60" width="12.38" height="56.10" fill="#450a69"/>
<rect x="742.99" y="643.60" width="12.38" height="56.10" fill="#450a69"/>
<rect x="754.37" y="643.60" width="12.38" height="56.10" fill="#fcffa4"/>
<rect x="765.75" y="643.60" width="12.38" height="56.10" fill="#71196e"/>
<rect x="777.12" y="643.60" width="11.38" height="56.10" fill="#fca108"/>
<rect x="595.08" y="713.90" width="12.38" height="57.10" fill="#71196e"/>
<rect x="606.45" y="713.90" width="12.38" height="57.10" fill="#fbba1f"/>
<rect x="617.83" y="713.90" width="12.38" height="57.10" fill="#5c126e"/>
<rect x="629.21" y="713.90" width="12.38" height="57.10" fill="#08051d"/>
<rect x="640.59" y="713.90" width="12.38" height="57.10" fill="#450a69"/>
<rect x="651.97" y="713.90" width="12.38" height="57.10" fill="#180c3c"/>
<rect x="663.34" y="713.90" width="12.38" height="57.10" fill="#f6d543"/>
<rect x="674.72" y="713.90" width="12.38" height="57.10" fill="#87216b"/>
<rect x="686.10" y="713.90" width="12.38" height="57.10" fill="#f8870e"/>
<rect x="697.48" y="713.90" width="12.38" height="57.10" fill="#fbba1f"/>
<rect x="708.86" y="713.90" width="12.38" height="57.10" fill="#2f0a5b"/>
<rect x="720.23" y="713.90" width="12.38" height="57.10" fill="#b1325a"/>
<rect x="731.61" y="713.90" width="12.38" height="57.10" fill="#71196e"/>
<rect x="742.99" y="713.90" width="12.38" height="57.10" fill="#fca108"/>
<rect x="754.37" y="713.90" width="12.38" height="57.10" fill="#2f0a5b"/>
<rect x="765.75" y="713.90" width="12.38" height="57.10" fill="#f8870e"/>
<rect x="777.12" y="713.90" width="11.38" height="57.10" fill="#450a69"/>
<rect x="595.08" y="770.00" width="12.38" height="57.10" fill="#5c126e"/>
<rect x="606.45" y="770.00" width="12.38" height="57.10" fill="#450a69"/>
<rect x="617.83" y="770.00" width="12.38" height="57.10" fill="#9b2964"/>
<rect x="629.21" y="770.00" width="12.38" height="57.10" fill="#2f0a5b"/>
<rect x="640.59" y="770.00" width="12.38" height="57.10" fill="#71196e"/>
<rect x="651.97" y="770.00" width="12.38" height="57.10" fill="#2f0a5b"/>
<rect x="663.34" y="770.00" width="12.38" height="57.10" fill="#9b2964"/>
<rect x="674.72" y="770.00" width="12.38" height="57.10" fill="#2f0a5b"/>
<rect x="686.10" y="770.00" width="12.38" height="57.10" fill="#f8870e"/>
<rect x="697.48" y="770.00" width="12.38" height="57.10" fill="#5c126e"/>
<rect x="708.86" y="770.00" width="12.38" height="57.10" fill="#9b2964"/>
<rect x="720.23" y="770.00" width="12.38" height="57.10" fill="#2f0a5b"/>
<rect x="731.61" y="770.00" width="12.38" height="57.10" fill="#71196e"/>
<rect x="742.99" y="770.00" width="12.38" height="57.10" fill="#450a69"/>
<rect x="754.37" y="770.00" width="12.38" height="57.10" fill="#450a69"/>
<rect x="765.75" y="770.00" width="12.38" height="57.10" fill="#450a69"/>
<rect x="777.12" y="770.00" width="11.38" height="57.10" fill="#450a69"/>
<rect x="595.08" y="826.10" width="12.38" height="57.10" fill="#f2f27d"/>
<rect x="606.45" y="826.10" width="12.38" height="57.10" fill="#5c126e"/>
<rect x="617.83" y="826.10" width="12.38" height="57.10" fill="#9b2964"/>
<rect x="629.21" y="826.10" width="12.38" height="57.10" fill="#87216b"/>
<rect x="640.59" y="826.10" width="12.38" height="57.10" fill="#d74b3f"/>
<rect x="651.97" y="826.10" width="12.38" height="57.10" fill="#5c126e"/>
<rect x="663.34" y="826.10" width="12.38" height="57.10" fill="#fcffa4"/>
<rect x="674.72" y="826.10" width="12.38" height="57.10" fill="#9b2964"/>
<rect x="686.10" y="826.10" width="12.38" height="57.10" fill="#fcffa4"/>
<rect x="697.48" y="826.10" width="12.38" height="57.10" fill="#fbba1f"/>
<rect x="708.86" y="826.10" width="12.38" height="57.10" fill="#fca108"/>
<rect x="720.23" y="826.10" width="12.38" height="57.10" fill="#87216b"/>
<rect x="731.61" y="826.10" width="12.38" height="57.10" fill="#fbba1f"/>
<rect x="742.99" y="826.10" width="12.38" height="57.10" fill="#f8870e"/>
<rect x="754.37" y="826.10" width="12.38" height="57.10" fill="#fca108"/>
<rect x="765.75" y="826.10" width="12.38" height="57.10" fill="#fca108"/>
<rect x="777.12" y="826.10" width="11.38" height="57.10" fill="#450a69"/>
<rect x="595.08" y="882.20" width="12.38" height="56.10" fill="#f8870e"/>
<rect x="606.45" y="882.20" width="12.38" height="56.10" fill="#450a69"/>
<rect x="617.83" y="882.20" width="12.38" height="56.10" fill="#71196e"/>
<rect x="629.21" y="882.20" width="12.38" height="56.10" fill="#180c3c"/>
<rect x="640.59" y="882.20" width="12.38" height="56.10" fill="#5c126e"/>
<rect x="651.97" y="882.20" width="12.38" height="56.10" fill="#5c126e"/>
<rect x="663.34" y="882.20" width="12.38" height="56.10" fill="#fca108"/>
<rect x="674.72" y="882.20" width="12.38" height="56.10" fill="#5c126e"/>
<rect x="686.10" y="882.20" width="12.38" height="56.10" fill="#5c126e"/>
<rect x="697.48" y="882.20" width="12.38" height="56.10" fill="#450a69"/>
<rect x="708.86" y="882.20" width="12.38" height="56.10" fill="#fca108"/>
<rect x="720.23" y="882.20" width="12.38" height="56.10" fill="#9b2964"/>
<rect x="731.61" y="882.20" width="12.38" height="56.10" fill="#e55c30"/>
<rect x="742.99" y="882.20" width="12.38" height="56.10" fill="#08051d"/>
<rect x="754.37" y="882.20" width="12.38" height="56.10" fill="#450a69"/>
<rect x="765.75" y="882.20" width="12.38" height="56.10" fill="#450a69"/>
<rect x="777.12" y="882.20" width="11.38" height="56.10" fill="#5c126e"/>
<rect x="802.40" y="222.50" width="12.38" height="57.10" fill="#fcffa4"/>
<rect x="813.78" y="222.50" width="12.38" height="57.10" fill="#9b2964"/>
<rect x="825.16" y="222.50" width="12.38" height="57.10" fill="#f2f27d"/>
<rect x="836.54" y="222.50" width="11.38" height="57.10" fill="#fbba1f"/>
<rect x="802.40" y="278.60" width="12.38" height="56.10" fill="#f2f27d"/>
<rect x="813.78" y="278.60" width="12.38" height="56.10" fill="#f8870e"/>
<rect x="825.16" y="278.60" width="12.38" height="56.10" fill="#fca108"/>
<rect x="836.54" y="278.60" width="11.38" height="56.10" fill="#d74b3f"/>
<rect x="802.40" y="348.90" width="12.38" height="57.10" fill="#e55c30"/>
<rect x="813.78" y="348.90" width="12.38" height="57.10" fill="#180c3c"/>
<rect x="825.16" y="348.90" width="12.38" height="57.10" fill="#5c126e"/>
<rect x="836.54" y="348.90" width="11.38" height="57.10" fill="#fbba1f"/>
<rect x="802.40" y="405.00" width="12.38" height="57.10" fill="#f6d543"/>
<rect x="813.78" y="405.00" width="12.38" height="57.10" fill="#d74b3f"/>
<rect x="825.16" y="405.00" width="12.38" height="57.10" fill="#f8870e"/>
<rect x="836.54" y="405.00" width="11.38" height="57.10" fill="#fcffa4"/>
<rect x="802.40" y="461.10" width="12.38" height="57.10" fill="#450a69"/>
<rect x="813.78" y="461.10" width="12.38" height="57.10" fill="#000004"/>
<rect x="825.16" y="461.10" width="12.38" height="57.10" fill="#450a69"/>
<rect x="836.54" y="461.10" width="11.38" height="57.10" fill="#fca108"/>
<rect x="802.40" y="517.20" width="12.38" height="56.10" fill="#450a69"/>
<rect x="813.78" y="517.20" width="12.38" height="56.10" fill="#08051d"/>
<rect x="825.16" y="517.20" width="12.38" height="56.10" fill="#5c126e"/>
<rect x="836.54" y="517.20" width="11.38" height="56.10" fill="#08051d"/>
<rect x="802.40" y="587.50" width="12.38" height="57.10" fill="#fca108"/>
<rect x="813.78" y="587.50" width="12.38" height="57.10" fill="#180c3c"/>
<rect x="825.16" y="587.50" width="12.38" height="57.10" fill="#fbba1f"/>
<rect x="836.54" y="587.50" width="11.38" height="57.10" fill="#2f0a5b"/>
<rect x="802.40" y="643.60" width="12.38" height="56.10" fill="#d74b3f"/>
<rect x="813.78" y="643.60" width="12.38" height="56.10" fill="#180c3c"/>
<rect x="825.16" y="643.60" width="12.38" height="56.10" fill="#d74b3f"/>
<rect x="836.54" y="643.60" width="11.38" height="56.10" fill="#f8870e"/>
<rect x="802.40" y="713.90" width="12.38" height="57.10" fill="#f6d543"/>
<rect x="813.78" y="713.90" width="12.38" height="57.10" fill="#180c3c"/>
<rect x="825.16" y="713.90" width="12.38" height="57.10" fill="#2f0a5b"/>
<rect x="836.54" y="713.90" width="11.38" height="57.10" fill="#2f0a5b"/>
<rect x="802.40" y="770.00" width="12.38" height="57.10" fill="#71196e"/>
<rect x="813.78" y="770.00" width="12.38" height="57.10" fill="#450a69"/>
<rect x="825.16" y="770.00" width="12.38" height="57.10" fill="#180c3c"/>
<rect x="836.54" y="770.00" width="11.38" height="57.10" fill="#000004"/>
<rect x="802.40" y="826.10" width="12.38" height="57.10" fill="#71196e"/>
<rect x="813.78" y="826.10" width="12.38" height="57.10" fill="#08051d"/>
<rect x="825.16" y="826.10" width="12.38" height="57.10" fill="#450a69"/>
<rect x="836.54" y="826.10" width="11.38" height="57.10" fill="#000004"/>
<rect x="802.40" y="882.20" width="12.38" height="56.10" fill="#fca108"/>
<rect x="813.78" y="882.20" width="12.38" height="56.10" fill="#2f0a5b"/>
<rect x="825.16" y="882.20" width="12.38" height="56.10" fill="#180c3c"/>
<rect x="836.54" y="882.20" width="11.38" height="56.10" fill="#180c3c"/>
<text x="857.6" y="165.2" font-size="35.2">IGHV</text>
<text x="857.6" y="207.3" font-size="35.2">PG</text>
<text x="857.3" y="260.7" font-size="28.4">IGHM</text>
<text x="857.3" y="316.8" font-size="28.4">ZAP70</text>
<text x="857.3" y="387.1" font-size="28.4">SYK</text>
<text x="857.3" y="443.2" font-size="28.4">MAPK1</text>
<text x="857.3" y="499.3" font-size="28.4">AKT1</text>
<text x="857.3" y="555.4" font-size="28.4">PIK3CD</text>
<text x="857.3" y="625.7" font-size="28.4">CD79A</text>
<text x="857.3" y="681.8" font-size="28.4">CD79B</text>
<text x="857.3" y="752.1" font-size="28.4">PLCG2</text>
<text x="857.3" y="808.2" font-size="28.4">PTPN6</text>
<text x="857.3" y="864.3" font-size="28.4">BTK</text>
<text x="857.3" y="920.4" font-size="28.4">IKBKB</text>
<text x="1003.5" y="36.2" font-size="48" font-weight="bold">b</text>
<text x="1006.2" y="77.3" font-size="28" letter-spacing="1.3">Spliceosomal proteins</text>
<rect x="1007.00" y="91.30" width="22.76" height="35.40" fill="#0a6eb0"/>
<rect x="1029.76" y="91.30" width="11.38" height="35.40" fill="#c8001e"/>
<rect x="1041.13" y="91.30" width="11.38" height="35.40" fill="#0a6eb0"/>
<rect x="1052.51" y="91.30" width="22.76" height="35.40" fill="#c8001e"/>
<rect x="1075.27" y="91.30" width="56.89" height="35.40" fill="#0a6eb0"/>
<rect x="1132.16" y="91.30" width="11.38" height="35.40" fill="#c8001e"/>
<rect x="1157.44" y="91.30" width="102.40" height="35.40" fill="#c8001e"/>
<rect x="1273.74" y="91.30" width="34.13" height="35.40" fill="#0a6eb0"/>
<rect x="1307.87" y="91.30" width="11.38" height="35.40" fill="#c8001e"/>
<rect x="1319.25" y="91.30" width="45.51" height="35.40" fill="#0a6eb0"/>
<rect x="1378.66" y="91.30" width="204.80" height="35.40" fill="#c8001e"/>
<rect x="1597.37" y="91.30" width="45.51" height="35.40" fill="#0a6eb0"/>
<rect x="1642.88" y="91.30" width="11.38" height="35.40" fill="#c8001e"/>
<rect x="1654.26" y="91.30" width="56.89" height="35.40" fill="#0a6eb0"/>
<rect x="1711.15" y="91.30" width="11.38" height="35.40" fill="#c8001e"/>
<rect x="1722.52" y="91.30" width="68.27" height="35.40" fill="#0a6eb0"/>
<rect x="1804.69" y="91.30" width="34.13" height="35.40" fill="#0a6eb0"/>
<rect x="1838.83" y="91.30" width="11.38" height="35.40" fill="#c8001e"/>
<rect x="1007.00" y="133.80" width="11.38" height="35.40" fill="#00008b"/>
<rect x="1018.38" y="133.80" width="22.76" height="35.40" fill="#cccccc"/>
<rect x="1041.13" y="133.80" width="11.38" height="35.40" fill="#00008b"/>
<rect x="1052.51" y="133.80" width="11.38" height="35.40" fill="#cccccc"/>
<rect x="1063.89" y="133.80" width="11.38" height="35.40" fill="#00008b"/>
<rect x="1075.27" y="133.80" width="68.27" height="35.40" fill="#cccccc"/>
<rect x="1157.44" y="133.80" width="102.40" height="35.40" fill="#cccccc"/>
<rect x="1273.74" y="133.80" width="91.02" height="35.40" fill="#cccccc"/>
<rect x="1378.66" y="133.80" width="204.80" height="35.40" fill="#cccccc"/>
<rect x="1597.37" y="133.80" width="11.38" height="35.40" fill="#00008b"/>
<rect x="1608.74" y="133.80" width="11.38" height="35.40" fill="#cccccc"/>
<rect x="1620.12" y="133.80" width="22.76" height="35.40" fill="#00008b"/>
<rect x="1642.88" y="133.80" width="79.65" height="35.40" fill="#cccccc"/>
<rect x="1733.90" y="133.80" width="56.89" height="35.40" fill="#cccccc"/>
<rect x="1804.69" y="133.80" width="45.51" height="35.40" fill="#cccccc"/>
<rect x="1007.00" y="176.20" width="136.54" height="35.40" fill="#9b98ff"/>
<rect x="1157.44" y="176.20" width="102.40" height="35.40" fill="#ffbb48"/>
<rect x="1273.74" y="176.20" width="91.02" height="35.40" fill="#00b159"/>
<rect x="1378.66" y="176.20" width="204.80" height="35.40" fill="#9b2194"/>
<rect x="1597.37" y="176.20" width="193.43" height="35.40" fill="#ea3e6d"/>
<rect x="1804.69" y="176.20" width="45.51" height="35.40" fill="#753400"/>
<rect x="1007.00" y="222.20" width="12.38" height="56.15" fill="#000004"/>
<rect x="1018.38" y="222.20" width="12.38" height="56.15" fill="#f6d543"/>
<rect x="1029.76" y="222.20" width="12.38" height="56.15" fill="#f2f27d"/>
<rect x="1041.13" y="222.20" width="12.38" height="56.15" fill="#fcffa4"/>
<rect x="1052.51" y="222.20" width="12.38" height="56.15" fill="#fcffa4"/>
<rect x="1063.89" y="222.20" width="12.38" height="56.15" fill="#450a69"/>
<rect x="1075.27" y="222.20" width="12.38" height="56.15" fill="#e55c30"/>
<rect x="1086.65" y="222.20" width="12.38" height="56.15" fill="#71196e"/>
<rect x="1098.02" y="222.20" width="12.38" height="56.15" fill="#e55c30"/>
<rect x="1109.40" y="222.20" width="12.38" height="56.15" fill="#f2f27d"/>
<rect x="1120.78" y="222.20" width="12.38" height="56.15" fill="#fbba1f"/>
<rect x="1132.16" y="222.20" width="11.38" height="56.15" fill="#fcffa4"/>
<rect x="1007.00" y="277.35" width="12.38" height="56.15" fill="#000004"/>
<rect x="1018.38" y="277.35" width="12.38" height="56.15" fill="#fca108"/>
<rect x="1029.76" y="277.35" width="12.38" height="56.15" fill="#f2f27d"/>
<rect x="1041.13" y="277.35" width="12.38" height="56.15" fill="#fcffa4"/>
<rect x="1052.51" y="277.35" width="12.38" height="56.15" fill="#fcffa4"/>
<rect x="1063.89" y="277.35" width="12.38" height="56.15" fill="#71196e"/>
<rect x="1075.27" y="277.35" width="12.38" height="56.15" fill="#fcffa4"/>
<rect x="1086.65" y="277.35" width="12.38" height="56.15" fill="#fbba1f"/>
<rect x="1098.02" y="277.35" width="12.38" height="56.15" fill="#f6d543"/>
<rect x="1109.40" y="277.35" width="12.38" height="56.15" fill="#f1711f"/>
<rect x="1120.78" y="277.35" width="12.38" height="56.15" fill="#fbba1f"/>
<rect x="1132.16" y="277.35" width="11.38" height="56.15" fill="#fcffa4"/>
<rect x="1007.00" y="332.50" width="12.38" height="56.15" fill="#000004"/>
<rect x="1018.38" y="332.50" width="12.38" height="56.15" fill="#fcffa4"/>
<rect x="1029.76" y="332.50" width="12.38" height="56.15" fill="#fcffa4"/>
<rect x="1041.13" y="332.50" width="12.38" height="56.15" fill="#fcffa4"/>
<rect x="1052.51" y="332.50" width="12.38" height="56.15" fill="#fcffa4"/>
<rect x="1063.89" y="332.50" width="12.38" height="56.15" fill="#5c126e"/>
<rect x="1075.27" y="332.50" width="12.38" height="56.15" fill="#f2f27d"/>
<rect x="1086.65" y="332.50" width="12.38" height="56.15" fill="#fcffa4"/>
<rect x="1098.02" y="332.50" width="12.38" height="56.15" fill="#f2f27d"/>
<rect x="1109.40" y="332.50" width="12.38" height="56.15" fill="#f6d543"/>
<rect x="1120.78" y="332.50" width="12.38" height="56.15" fill="#f1711f"/>
<rect x="1132.16" y="332.50" width="11.38" height="56.15" fill="#f2f27d"/>
<rect x="1007.00" y="387.65" width="12.38" height="56.15" fill="#f8870e"/>
<rect x="1018.38" y="387.65" width="12.38" height="56.15" fill="#fcffa4"/>
<rect x="1029.76" y="387.65" width="12.38" height="56.15" fill="#fcffa4"/>
<rect x="1041.13" y="387.65" width="12.38" height="56.15" fill="#f2f27d"/>
<rect x="1052.51" y="387.65" width="12.38" height="56.15" fill="#fbba1f"/>
<rect x="1063.89" y="387.65" width="12.38" height="56.15" fill="#fcffa4"/>
<rect x="1075.27" y="387.65" width="12.38" height="56.15" fill="#450a69"/>
<rect x="1086.65" y="387.65" width="12.38" height="56.15" fill="#450a69"/>
<rect x="1098.02" y="387.65" width="12.38" height="56.15" fill="#fca108"/>
<rect x="1109.40" y="387.65" width="12.38" height="56.15" fill="#f2f27d"/>
<rect x="1120.78" y="387.65" width="12.38" height="56.15" fill="#f6d543"/>
<rect x="1132.16" y="387.65" width="11.38" height="56.15" fill="#e55c30"/>
<rect x="1007.00" y="442.80" width="12.38" height="56.15" fill="#fca108"/>
<rect x="1018.38" y="442.80" width="12.38" height="56.15" fill="#fcffa4"/>
<rect x="1029.76" y="442.80" width="12.38" height="56.15" fill="#f1711f"/>
<rect x="1041.13" y="442.80" width="12.38" height="56.15" fill="#fcffa4"/>
<rect x="1052.51" y="442.80" width="12.38" height="56.15" fill="#f2f27d"/>
<rect x="1063.89" y="442.80" width="12.38" height="56.15" fill="#9b2964"/>
<rect x="1075.27" y="442.80" width="12.38" height="56.15" fill="#fbba1f"/>
<rect x="1086.65" y="442.80" width="12.38" height="56.15" fill="#fbba1f"/>
<rect x="1098.02" y="442.80" width="12.38" height="56.15" fill="#fbba1f"/>
<rect x="1109.40" y="442.80" width="12.38" height="56.15" fill="#fcffa4"/>
<rect x="1120.78" y="442.80" width="12.38" height="56.15" fill="#71196e"/>
<rect x="1132.16" y="442.80" width="11.38" height="56.15" fill="#fbba1f"/>
<rect x="1007.00" y="497.95" width="12.38" height="56.15" fill="#f2f27d"/>
<rect x="1018.38" y="497.95" width="12.38" height="56.15" fill="#fca108"/>
<rect x="1029.76" y="497.95" width="12.38" height="56.15" fill="#fcffa4"/>
<rect x="1041.13" y="497.95" width="12.38" height="56.15" fill="#fcffa4"/>
<rect x="1052.51" y="497.95" width="12.38" height="56.15" fill="#fcffa4"/>
<rect x="1063.89" y="497.95" width="12.38" height="56.15" fill="#fcffa4"/>
<rect x="1075.27" y="497.95" width="12.38" height="56.15" fill="#fcffa4"/>
<rect x="1086.65" y="497.95" width="12.38" height="56.15" fill="#fcffa4"/>
<rect x="1098.02" y="497.95" width="12.38" height="56.15" fill="#f8870e"/>
<rect x="1109.40" y="497.95" width="12.38" height="56.15" fill="#fbba1f"/>
<rect x="1120.78" y="497.95" width="12.38" height="56.15" fill="#f8870e"/>
<rect x="1132.16" y="497.95" width="11.38" height="56.15" fill="#f8870e"/>
<rect x="1007.00" y="553.10" width="12.38" height="56.15" fill="#2f0a5b"/>
<rect x="1018.38" y="553.10" width="12.38" height="56.15" fill="#fcffa4"/>
<rect x="1029.76" y="553.10" width="12.38" height="56.15" fill="#fcffa4"/>
<rect x="1041.13" y="553.10" width="12.38" height="56.15" fill="#fcffa4"/>
<rect x="1052.51" y="553.10" width="12.38" height="56.15" fill="#fbba1f"/>
<rect x="1063.89" y="553.10" width="12.38" height="56.15" fill="#fcffa4"/>
<rect x="1075.27" y="553.10" width="12.38" height="56.15" fill="#f6d543"/>
<rect x="1086.65" y="553.10" width="12.38" height="56.15" fill="#fcffa4"/>
<rect x="1098.02" y="553.10" width="12.38" height="56.15" fill="#000004"/>
<rect x="1109.40" y="553.10" width="12.38" height="56.15" fill="#f6d543"/>
<rect x="1120.78" y="553.10" width="12.38" height="56.15" fill="#fbba1f"/>
<rect x="1132.16" y="553.10" width="11.38" height="56.15" fill="#f2f27d"/>
<rect x="1007.00" y="608.25" width="12.38" height="56.15" fill="#fca108"/>
<rect x="1018.38" y="608.25" width="12.38" height="56.15" fill="#fcffa4"/>
<rect x="1029.76" y="608.25" width="12.38" height="56.15" fill="#fcffa4"/>
<rect x="1041.13" y="608.25" width="12.38" height="56.15" fill="#fcffa4"/>
<rect x="1052.51" y="608.25" width="12.38" height="56.15" fill="#f8870e"/>
<rect x="1063.89" y="608.25" width="12.38" height="56.15" fill="#f6d543"/>
<rect x="1075.27" y="608.25" width="12.38" height="56.15" fill="#fcffa4"/>
<rect x="1086.65" y="608.25" width="12.38" height="56.15" fill="#d74b3f"/>
<rect x="1098.02" y="608.25" width="12.38" height="56.15" fill="#b1325a"/>
<rect x="1109.40" y="608.25" width="12.38" height="56.15" fill="#f6d543"/>
<rect x="1120.78" y="608.25" width="12.38" height="56.15" fill="#f6d543"/>
<rect x="1132.16" y="608.25" width="11.38" height="56.15" fill="#f2f27d"/>
<rect x="1007.00" y="663.40" width="12.38" height="56.15" fill="#e55c30"/>
<rect x="1018.38" y="663.40" width="12.38" height="56.15" fill="#fcffa4"/>
<rect x="1029.76" y="663.40" width="12.38" height="56.15" fill="#fcffa4"/>
<rect x="1041.13" y="663.40" width="12.38" height="56.15" fill="#fcffa4"/>
<rect x="1052.51" y="663.40" width="12.38" height="56.15" fill="#f6d543"/>
<rect x="1063.89" y="663.40" width="12.38" height="56.15" fill="#f2f27d"/>
<rect x="1075.27" y="663.40" width="12.38" height="56.15" fill="#fcffa4"/>
<rect x="1086.65" y="663.40" width="12.38" height="56.15" fill="#f2f27d"/>
<rect x="1098.02" y="663.40" width="12.38" height="56.15" fill="#71196e"/>
<rect x="1109.40" y="663.40" width="12.38" height="56.15" fill="#fcffa4"/>
<rect x="1120.78" y="663.40" width="12.38" height="56.15" fill="#f2f27d"/>
<rect x="1132.16" y="663.40" width="11.38" height="56.15" fill="#f6d543"/>
<rect x="1007.00" y="718.55" width="12.38" height="56.15" fill="#f6d543"/>
<rect x="1018.38" y="718.55" width="12.38" height="56.15" fill="#fcffa4"/>
<rect x="1029.76" y="718.55" width="12.38" height="56.15" fill="#fcffa4"/>
<rect x="1041.13" y="718.55" width="12.38" height="56.15" fill="#fcffa4"/>
<rect x="1052.51" y="718.55" width="12.38" height="56.15" fill="#fbba1f"/>
<rect x="1063.89" y="718.55" width="12.38" height="56.15" fill="#f2f27d"/>
<rect x="1075.27" y="718.55" width="12.38" height="56.15" fill="#fcffa4"/>
<rect x="1086.65" y="718.55" width="12.38" height="56.15" fill="#f2f27d"/>
<rect x="1098.02" y="718.55" width="12.38" height="56.15" fill="#f2f27d"/>
<rect x="1109.40" y="718.55" width="12.38" height="56.15" fill="#f6d543"/>
<rect x="1120.78" y="718.55" width="12.38" height="56.15" fill="#f8870e"/>
<rect x="1132.16" y="718.55" width="11.38" height="56.15" fill="#f2f27d"/>
<rect x="1007.00" y="773.70" width="12.38" height="56.15" fill="#fcffa4"/>
<rect x="1018.38" y="773.70" width="12.38" height="56.15" fill="#fcffa4"/>
<rect x="1029.76" y="773.70" width="12.38" height="56.15" fill="#fcffa4"/>
<rect x="1041.13" y="773.70" width="12.38" height="56.15" fill="#fcffa4"/>
<rect x="1052.51" y="773.70" width="12.38" height="56.15" fill="#fcffa4"/>
<rect x="1063.89" y="773.70" width="12.38" height="56.15" fill="#fcffa4"/>
<rect x="1075.27" y="773.70" width="12.38" height="56.15" fill="#f8870e"/>
<rect x="1086.65" y="773.70" width="12.38" height="56.15" fill="#fca108"/>
<rect x="1098.02" y="773.70" width="12.38" height="56.15" fill="#f8870e"/>
<rect x="1109.40" y="773.70" width="12.38" height="56.15" fill="#f6d543"/>
<rect x="1120.78" y="773.70" width="12.38" height="56.15" fill="#f1711f"/>
<rect x="1132.16" y="773.70" width="11.38" height="56.15" fill="#fbba1f"/>
<rect x="1007.00" y="828.85" width="12.38" height="56.15" fill="#fbba1f"/>
<rect x="1018.38" y="828.85" width="12.38" height="56.15" fill="#fcffa4"/>
<rect x="1029.76" y="828.85" width="12.38" height="56.15" fill="#f2f27d"/>
<rect x="1041.13" y="828.85" width="12.38" height="56.15" fill="#fcffa4"/>
<rect x="1052.51" y="828.85" width="12.38" height="56.15" fill="#fca108"/>
<rect x="1063.89" y="828.85" width="12.38" height="56.15" fill="#fcffa4"/>
<rect x="1075.27" y="828.85" width="12.38" height="56.15" fill="#f6d543"/>
<rect x="1086.65" y="828.85" width="12.38" height="56.15" fill="#fcffa4"/>
<rect x="1098.02" y="828.85" width="12.38" height="56.15" fill="#fcffa4"/>
<rect x="1109.40" y="828.85" width="12.38" height="56.15" fill="#fcffa4"/>
<rect x="1120.78" y="828.85" width="12.38" height="56.15" fill="#f2f27d"/>
<rect x="1132.16" y="828.85" width="11.38" height="56.15" fill="#fbba1f"/>
<rect x="1007.00" y="884.00" width="12.38" height="55.15" fill="#fca108"/>
<rect x="1018.38" y="884.00" width="12.38" height="55.15" fill="#fcffa4"/>
<rect x="1029.76" y="884.00" width="12.38" height="55.15" fill="#fcffa4"/>
<rect x="1041.13" y="884.00" width="12.38" height="55.15" fill="#fcffa4"/>
<rect x="1052.51" y="884.00" width="12.38" height="55.15" fill="#fbba1f"/>
<rect x="1063.89" y="884.00" width="12.38" height="55.15" fill="#fcffa4"/>
<rect x="1075.27" y="884.00" width="12.38" height="55.15" fill="#f8870e"/>
<rect x="1086.65" y="884.00" width="12.38" height="55.15" fill="#f2f27d"/>
<rect x="1098.02" y="884.00" width="12.38" height="55.15" fill="#fcffa4"/>
<rect x="1109.40" y="884.00" width="12.38" height="55.15" fill="#fcffa4"/>
<rect x="1120.78" y="884.00" width="12.38" height="55.15" fill="#f8870e"/>
<rect x="1132.16" y="884.00" width="11.38" height="55.15" fill="#f8870e"/>
<rect x="1157.44" y="222.20" width="12.38" height="56.15" fill="#f2f27d"/>
<rect x="1168.81" y="222.20" width="12.38" height="56.15" fill="#fca108"/>
<rect x="1180.19" y="222.20" width="12.38" height="56.15" fill="#f2f27d"/>
<rect x="1191.57" y="222.20" width="12.38" height="56.15" fill="#f6d543"/>
<rect x="1202.95" y="222.20" width="12.38" height="56.15" fill="#71196e"/>
<rect x="1214.33" y="222.20" width="12.38" height="56.15" fill="#450a69"/>
<rect x="1225.70" y="222.20" width="12.38" height="56.15" fill="#2f0a5b"/>
<rect x="1237.08" y="222.20" width="12.38" height="56.15" fill="#87216b"/>
<rect x="1248.46" y="222.20" width="11.38" height="56.15" fill="#f1711f"/>
<rect x="1157.44" y="277.35" width="12.38" height="56.15" fill="#f6d543"/>
<rect x="1168.81" y="277.35" width="12.38" height="56.15" fill="#f6d543"/>
<rect x="1180.19" y="277.35" width="12.38" height="56.15" fill="#5c126e"/>
<rect x="1191.57" y="277.35" width="12.38" height="56.15" fill="#f6d543"/>
<rect x="1202.95" y="277.35" width="12.38" height="56.15" fill="#180c3c"/>
<rect x="1214.33" y="277.35" width="12.38" height="56.15" fill="#2f0a5b"/>
<rect x="1225.70" y="277.35" width="12.38" height="56.15" fill="#2f0a5b"/>
<rect x="1237.08" y="277.35" width="12.38" height="56.15" fill="#f2f27d"/>
<rect x="1248.46" y="277.35" width="11.38" height="56.15" fill="#fbba1f"/>
<rect x="1157.44" y="332.50" width="12.38" height="56.15" fill="#f2f27d"/>
<rect x="1168.81" y="332.50" width="12.38" height="56.15" fill="#f8870e"/>
<rect x="1180.19" y="332.50" width="12.38" height="56.15" fill="#e55c30"/>
<rect x="1191.57" y="332.50" width="12.38" height="56.15" fill="#fbba1f"/>
<rect x="1202.95" y="332.50" width="12.38" height="56.15" fill="#71196e"/>
<rect x="1214.33" y="332.50" width="12.38" height="56.15" fill="#71196e"/>
<rect x="1225.70" y="332.50" width="12.38" height="56.15" fill="#71196e"/>
<rect x="1237.08" y="332.50" width="12.38" height="56.15" fill="#f8870e"/>
<rect x="1248.46" y="332.50" width="11.38" height="56.15" fill="#f8870e"/>
<rect x="1157.44" y="387.65" width="12.38" height="56.15" fill="#fca108"/>
<rect x="1168.81" y="387.65" width="12.38" height="56.15" fill="#f6d543"/>
<rect x="1180.19" y="387.65" width="12.38" height="56.15" fill="#e55c30"/>
<rect x="1191.57" y="387.65" width="12.38" height="56.15" fill="#f8870e"/>
<rect x="1202.95" y="387.65" width="12.38" height="56.15" fill="#9b2964"/>
<rect x="1214.33" y="387.65" width="12.38" height="56.15" fill="#fbba1f"/>
<rect x="1225.70" y="387.65" width="12.38" height="56.15" fill="#fca108"/>
<rect x="1237.08" y="387.65" width="12.38" height="56.15" fill="#450a69"/>
<rect x="1248.46" y="387.65" width="11.38" height="56.15" fill="#9b2964"/>
<rect x="1157.44" y="442.80" width="12.38" height="56.15" fill="#f6d543"/>
<rect x="1168.81" y="442.80" width="12.38" height="56.15" fill="#fca108"/>
<rect x="1180.19" y="442.80" width="12.38" height="56.15" fill="#87216b"/>
<rect x="1191.57" y="442.80" width="12.38" height="56.15" fill="#f6d543"/>
<rect x="1202.95" y="442.80" width="12.38" height="56.15" fill="#450a69"/>
<rect x="1214.33" y="442.80" width="12.38" height="56.15" fill="#fbba1f"/>
<rect x="1225.70" y="442.80" width="12.38" height="56.15" fill="#f6d543"/>
<rect x="1237.08" y="442.80" width="12.38" height="56.15" fill="#f1711f"/>
<rect x="1248.46" y="442.80" width="11.38" height="56.15" fill="#fca108"/>
<rect x="1157.44" y="497.95" width="12.38" height="56.15" fill="#f8870e"/>
<rect x="1168.81" y="497.95" width="12.38" height="56.15" fill="#f8870e"/>
<rect x="1180.19" y="497.95" width="12.38" height="56.15" fill="#450a69"/>
<rect x="1191.57" y="497.95" width="12.38" height="56.15" fill="#fca108"/>
<rect x="1202.95" y="497.95" width="12.38" height="56.15" fill="#2f0a5b"/>
<rect x="1214.33" y="497.95" width="12.38" height="56.15" fill="#2f0a5b"/>
<rect x="1225.70" y="497.95" width="12.38" height="56.15" fill="#71196e"/>
<rect x="1237.08" y="497.95" width="12.38" height="56.15" fill="#450a69"/>
<rect x="1248.46" y="497.95" width="11.38" height="56.15" fill="#2f0a5b"/>
<rect x="1157.44" y="553.10" width="12.38" height="56.15" fill="#d74b3f"/>
<rect x="1168.81" y="553.10" width="12.38" height="56.15" fill="#5c126e"/>
<rect x="1180.19" y="553.10" width="12.38" height="56.15" fill="#fbba1f"/>
<rect x="1191.57" y="553.10" width="12.38" height="56.15" fill="#fbba1f"/>
<rect x="1202.95" y="553.10" width="12.38" height="56.15" fill="#5c126e"/>
<rect x="1214.33" y="553.10" width="12.38" height="56.15" fill="#f1711f"/>
<rect x="1225.70" y="553.10" width="12.38" height="56.15" fill="#000004"/>
<rect x="1237.08" y="553.10" width="12.38" height="56.15" fill="#000004"/>
<rect x="1248.46" y="553.10" width="11.38" height="56.15" fill="#180c3c"/>
<rect x="1157.44" y="608.25" width="12.38" height="56.15" fill="#71196e"/>
<rect x="1168.81" y="608.25" width="12.38" height="56.15" fill="#08051d"/>
<rect x="1180.19" y="608.25" width="12.38" height="56.15" fill="#e55c30"/>
<rect x="1191.57" y="608.25" width="12.38" height="56.15" fill="#f8870e"/>
<rect x="1202.95" y="608.25" width="12.38" height="56.15" fill="#180c3c"/>
<rect x="1214.33" y="608.25" width="12.38" height="56.15" fill="#180c3c"/>
<rect x="1225.70" y="608.25" width="12.38" height="56.15" fill="#08051d"/>
<rect x="1237.08" y="608.25" width="12.38" height="56.15" fill="#08051d"/>
<rect x="1248.46" y="608.25" width="11.38" height="56.15" fill="#450a69"/>
<rect x="1157.44" y="663.40" width="12.38" height="56.15" fill="#5c126e"/>
<rect x="1168.81" y="663.40" width="12.38" height="56.15" fill="#9b2964"/>
<rect x="1180.19" y="663.40" width="12.38" height="56.15" fill="#f8870e"/>
<rect x="1191.57" y="663.40" width="12.38" height="56.15" fill="#fbba1f"/>
<rect x="1202.95" y="663.40" width="12.38" height="56.15" fill="#180c3c"/>
<rect x="1214.33" y="663.40" width="12.38" height="56.15" fill="#180c3c"/>
<rect x="1225.70" y="663.40" width="12.38" height="56.15" fill="#450a69"/>
<rect x="1237.08" y="663.40" width="12.38" height="56.15" fill="#fca108"/>
<rect x="1248.46" y="663.40" width="11.38" height="56.15" fill="#5c126e"/>
<rect x="1157.44" y="718.55" width="12.38" height="56.15" fill="#2f0a5b"/>
<rect x="1168.81" y="718.55" width="12.38" height="56.15" fill="#2f0a5b"/>
<rect x="1180.19" y="718.55" width="12.38" height="56.15" fill="#d74b3f"/>
<rect x="1191.57" y="718.55" width="12.38" height="56.15" fill="#9b2964"/>
<rect x="1202.95" y="718.55" width="12.38" height="56.15" fill="#450a69"/>
<rect x="1214.33" y="718.55" width="12.38" height="56.15" fill="#5c126e"/>
<rect x="1225.70" y="718.55" width="12.38" height="56.15" fill="#2f0a5b"/>
<rect x="1237.08" y="718.55" width="12.38" height="56.15" fill="#450a69"/>
<rect x="1248.46" y="718.55" width="11.38" height="56.15" fill="#000004"/>
<rect x="1157.44" y="773.70" width="12.38" height="56.15" fill="#fca108"/>
<rect x="1168.81" y="773.70" width="12.38" height="56.15" fill="#f8870e"/>
<rect x="1180.19" y="773.70" width="12.38" height="56.15" fill="#f6d543"/>
<rect x="1191.57" y="773.70" width="12.38" height="56.15" fill="#71196e"/>
<rect x="1202.95" y="773.70" width="12.38" height="56.15" fill="#08051d"/>
<rect x="1214.33" y="773.70" width="12.38" height="56.15" fill="#08051d"/>
<rect x="1225.70" y="773.70" width="12.38" height="56.15" fill="#180c3c"/>
<rect x="1237.08" y="773.70" width="12.38" height="56.15" fill="#71196e"/>
<rect x="1248.46" y="773.70" width="11.38" height="56.15" fill="#180c3c"/>
<rect x="1157.44" y="828.85" width="12.38" height="56.15" fill="#f6d543"/>
<rect x="1168.81" y="828.85" width="12.38" height="56.15" fill="#87216b"/>
<rect x="1180.19" y="828.85" width="12.38" height="56.15" fill="#f8870e"/>
<rect x="1191.57" y="828.85" width="12.38" height="56.15" fill="#fbba1f"/>
<rect x="1202.95" y="828.85" width="12.38" height="56.15" fill="#d74b3f"/>
<rect x="1214.33" y="828.85" width="12.38" height="56.15" fill="#71196e"/>
<rect x="1225.70" y="828.85" width="12.38" height="56.15" fill="#5c126e"/>
<rect x="1237.08" y="828.85" width="12.38" height="56.15" fill="#71196e"/>
<rect x="1248.46" y="828.85" width="11.38" height="56.15" fill="#71196e"/>
<rect x="1157.44" y="884.00" width="12.38" height="55.15" fill="#f8870e"/>
<rect x="1168.81" y="884.00" width="12.38" height="55.15" fill="#71196e"/>
<rect x="1180.19" y="884.00" width="12.38" height="55.15" fill="#f8870e"/>
<rect x="1191.57" y="884.00" width="12.38" height="55.15" fill="#e55c30"/>
<rect x="1202.95" y="884.00" width="12.38" height="55.15" fill="#fbba1f"/>
<rect x="1214.33" y="884.00" width="12.38" height="55.15" fill="#08051d"/>
<rect x="1225.70" y="884.00" width="12.38" height="55.15" fill="#2f0a5b"/>
<rect x="1237.08" y="884.00" width="12.38" height="55.15" fill="#2f0a5b"/>
<rect x="1248.46" y="884.00" width="11.38" height="55.15" fill="#450a69"/>
<rect x="1273.74" y="222.20" width="12.38" height="56.15" fill="#fca108"/>
<rect x="1285.12" y="222.20" width="12.38" height="56.15" fill="#e55c30"/>
<rect x="1296.49" y="222.20" width="12.38" height="56.15" fill="#f1711f"/>
<rect x="1307.87" y="222.20" width="12.38" height="56.15" fill="#71196e"/>
<rect x="1319.25" y="222.20" width="12.38" height="56.15" fill="#d74b3f"/>
<rect x="1330.63" y="222.20" width="12.38" height="56.15" fill="#000004"/>
<rect x="1342.01" y="222.20" width="12.38" height="56.15" fill="#450a69"/>
<rect x="1353.38" y="222.20" width="11.38" height="56.15" fill="#08051d"/>
<rect x="1273.74" y="277.35" width="12.38" height="56.15" fill="#08051d"/>
<rect x="1285.12" y="277.35" width="12.38" height="56.15" fill="#5c126e"/>
<rect x="1296.49" y="277.35" width="12.38" height="56.15" fill="#e55c30"/>
<rect x="1307.87" y="277.35" width="12.38" height="56.15" fill="#fca108"/>
<rect x="1319.25" y="277.35" width="12.38" height="56.15" fill="#87216b"/>
<rect x="1330.63" y="277.35" width="12.38" height="56.15" fill="#000004"/>
<rect x="1342.01" y="277.35" width="12.38" height="56.15" fill="#fbba1f"/>
<rect x="1353.38" y="277.35" width="11.38" height="56.15" fill="#71196e"/>
<rect x="1273.74" y="332.50" width="12.38" height="56.15" fill="#450a69"/>
<rect x="1285.12" y="332.50" width="12.38" height="56.15" fill="#87216b"/>
<rect x="1296.49" y="332.50" width="12.38" height="56.15" fill="#fbba1f"/>
<rect x="1307.87" y="332.50" width="12.38" height="56.15" fill="#9b2964"/>
<rect x="1319.25" y="332.50" width="12.38" height="56.15" fill="#71196e"/>
<rect x="1330.63" y="332.50" width="12.38" height="56.15" fill="#000004"/>
<rect x="1342.01" y="332.50" width="12.38" height="56.15" fill="#450a69"/>
<rect x="1353.38" y="332.50" width="11.38" height="56.15" fill="#180c3c"/>
<rect x="1273.74" y="387.65" width="12.38" height="56.15" fill="#fbba1f"/>
<rect x="1285.12" y="387.65" width="12.38" height="56.15" fill="#5c126e"/>
<rect x="1296.49" y="387.65" width="12.38" height="56.15" fill="#5c126e"/>
<rect x="1307.87" y="387.65" width="12.38" height="56.15" fill="#71196e"/>
<rect x="1319.25" y="387.65" width="12.38" height="56.15" fill="#87216b"/>
<rect x="1330.63" y="387.65" width="12.38" height="56.15" fill="#000004"/>
<rect x="1342.01" y="387.65" width="12.38" height="56.15" fill="#000004"/>
<rect x="1353.38" y="387.65" width="11.38" height="56.15" fill="#000004"/>
<rect x="1273.74" y="442.80" width="12.38" height="56.15" fill="#2f0a5b"/>
<rect x="1285.12" y="442.80" width="12.38" height="56.15" fill="#f6d543"/>
<rect x="1296.49" y="442.80" width="12.38" height="56.15" fill="#f8870e"/>
<rect x="1307.87" y="442.80" width="12.38" height="56.15" fill="#2f0a5b"/>
<rect x="1319.25" y="442.80" width="12.38" height="56.15" fill="#e55c30"/>
<rect x="1330.63" y="442.80" width="12.38" height="56.15" fill="#000004"/>
<rect x="1342.01" y="442.80" width="12.38" height="56.15" fill="#5c126e"/>
<rect x="1353.38" y="442.80" width="11.38" height="56.15" fill="#000004"/>
<rect x="1273.74" y="497.95" width="12.38" height="56.15" fill="#450a69"/>
<rect x="1285.12" y="497.95" width="12.38" height="56.15" fill="#000004"/>
<rect x="1296.49" y="497.95" width="12.38" height="56.15" fill="#08051d"/>
<rect x="1307.87" y="497.95" width="12.38" height="56.15" fill="#2f0a5b"/>
<rect x="1319.25" y="497.95" width="12.38" height="56.15" fill="#450a69"/>
<rect x="1330.63" y="497.95" width="12.38" height="56.15" fill="#000004"/>
<rect x="1342.01" y="497.95" width="12.38" height="56.15" fill="#000004"/>
<rect x="1353.38" y="497.95" width="11.38" height="56.15" fill="#000004"/>
<rect x="1273.74" y="553.10" width="12.38" height="56.15" fill="#f8870e"/>
<rect x="1285.12" y="553.10" width="12.38" height="56.15" fill="#450a69"/>
<rect x="1296.49" y="553.10" width="12.38" height="56.15" fill="#2f0a5b"/>
<rect x="1307.87" y="553.10" width="12.38" height="56.15" fill="#d74b3f"/>
<rect x="1319.25" y="553.10" width="12.38" height="56.15" fill="#450a69"/>
<rect x="1330.63" y="553.10" width="12.38" height="56.15" fill="#000004"/>
<rect x="1342.01" y="553.10" width="12.38" height="56.15" fill="#9b2964"/>
<rect x="1353.38" y="553.10" width="11.38" height="56.15" fill="#2f0a5b"/>
<rect x="1273.74" y="608.25" width="12.38" height="56.15" fill="#2f0a5b"/>
<rect x="1285.12" y="608.25" width="12.38" height="56.15" fill="#fbba1f"/>
<rect x="1296.49" y="608.25" width="12.38" height="56.15" fill="#2f0a5b"/>
<rect x="1307.87" y="608.25" width="12.38" height="56.15" fill="#f8870e"/>
<rect x="1319.25" y="608.25" width="12.38" height="56.15" fill="#5c126e"/>
<rect x="1330.63" y="608.25" width="12.38" height="56.15" fill="#000004"/>
<rect x="1342.01" y="608.25" width="12.38" height="56.15" fill="#000004"/>
<rect x="1353.38" y="608.25" width="11.38" height="56.15" fill="#5c126e"/>
<rect x="1273.74" y="663.40" width="12.38" height="56.15" fill="#08051d"/>
<rect x="1285.12" y="663.40" width="12.38" height="56.15" fill="#9b2964"/>
<rect x="1296.49" y="663.40" width="12.38" height="56.15" fill="#180c3c"/>
<rect x="1307.87" y="663.40" width="12.38" height="56.15" fill="#450a69"/>
<rect x="1319.25" y="663.40" width="12.38" height="56.15" fill="#180c3c"/>
<rect x="1330.63" y="663.40" width="12.38" height="56.15" fill="#000004"/>
<rect x="1342.01" y="663.40" width="12.38" height="56.15" fill="#000004"/>
<rect x="1353.38" y="663.40" width="11.38" height="56.15" fill="#08051d"/>
<rect x="1273.74" y="718.55" width="12.38" height="56.15" fill="#b1325a"/>
<rect x="1285.12" y="718.55" width="12.38" height="56.15" fill="#71196e"/>
<rect x="1296.49" y="718.55" width="12.38" height="56.15" fill="#180c3c"/>
<rect x="1307.87" y="718.55" width="12.38" height="56.15" fill="#08051d"/>
<rect x="1319.25" y="718.55" width="12.38" height="56.15" fill="#180c3c"/>
<rect x="1330.63" y="718.55" width="12.38" height="56.15" fill="#08051d"/>
<rect x="1342.01" y="718.55" width="12.38" height="56.15" fill="#000004"/>
<rect x="1353.38" y="718.55" width="11.38" height="56.15" fill="#5c126e"/>
<rect x="1273.74" y="773.70" width="12.38" height="56.15" fill="#f1711f"/>
<rect x="1285.12" y="773.70" width="12.38" height="56.15" fill="#2f0a5b"/>
<rect x="1296.49" y="773.70" width="12.38" height="56.15" fill="#180c3c"/>
<rect x="1307.87" y="773.70" width="12.38" height="56.15" fill="#5c126e"/>
<rect x="1319.25" y="773.70" width="12.38" height="56.15" fill="#450a69"/>
<rect x="1330.63" y="773.70" width="12.38" height="56.15" fill="#180c3c"/>
<rect x="1342.01" y="773.70" width="12.38" height="56.15" fill="#000004"/>
<rect x="1353.38" y="773.70" width="11.38" height="56.15" fill="#2f0a5b"/>
<rect x="1273.74" y="828.85" width="12.38" height="56.15" fill="#2f0a5b"/>
<rect x="1285.12" y="828.85" width="12.38" height="56.15" fill="#f8870e"/>
<rect x="1296.49" y="828.85" width="12.38" height="56.15" fill="#000004"/>
<rect x="1307.87" y="828.85" width="12.38" height="56.15" fill="#450a69"/>
<rect x="1319.25" y="828.85" width="12.38" height="56.15" fill="#450a69"/>
<rect x="1330.63" y="828.85" width="12.38" height="56.15" fill="#000004"/>
<rect x="1342.01" y="828.85" width="12.38" height="56.15" fill="#08051d"/>
<rect x="1353.38" y="828.85" width="11.38" height="56.15" fill="#08051d"/>
<rect x="1273.74" y="884.00" width="12.38" height="55.15" fill="#180c3c"/>
<rect x="1285.12" y="884.00" width="12.38" height="55.15" fill="#5c126e"/>
<rect x="1296.49" y="884.00" width="12.38" height="55.15" fill="#2f0a5b"/>
<rect x="1307.87" y="884.00" width="12.38" height="55.15" fill="#2f0a5b"/>
<rect x="1319.25" y="884.00" width="12.38" height="55.15" fill="#2f0a5b"/>
<rect x="1330.63" y="884.00" width="12.38" height="55.15" fill="#000004"/>
<rect x="1342.01" y="884.00" width="12.38" height="55.15" fill="#08051d"/>
<rect x="1353.38" y="884.00" width="11.38" height="55.15" fill="#000004"/>
<rect x="1378.66" y="222.20" width="12.38" height="56.15" fill="#fcffa4"/>
<rect x="1390.04" y="222.20" width="12.38" height="56.15" fill="#f6d543"/>
<rect x="1401.42" y="222.20" width="12.38" height="56.15" fill="#fca108"/>
<rect x="1412.80" y="222.20" width="12.38" height="56.15" fill="#fbba1f"/>
<rect x="1424.17" y="222.20" width="12.38" height="56.15" fill="#f6d543"/>
<rect x="1435.55" y="222.20" width="12.38" height="56.15" fill="#fca108"/>
<rect x="1446.93" y="222.20" width="12.38" height="56.15" fill="#f8870e"/>
<rect x="1458.31" y="222.20" width="12.38" height="56.15" fill="#f1711f"/>
<rect x="1469.69" y="222.20" width="12.38" height="56.15" fill="#71196e"/>
<rect x="1481.06" y="222.20" width="12.38" height="56.15" fill="#2f0a5b"/>
<rect x="1492.44" y="222.20" width="12.38" height="56.15" fill="#5c126e"/>
<rect x="1503.82" y="222.20" width="12.38" height="56.15" fill="#450a69"/>
<rect x="1515.20" y="222.20" width="12.38" height="56.15" fill="#87216b"/>
<rect x="1526.58" y="222.20" width="12.38" height="56.15" fill="#71196e"/>
<rect x="1537.95" y="222.20" width="12.38" height="56.15" fill="#71196e"/>
<rect x="1549.33" y="222.20" width="12.38" height="56.15" fill="#e55c30"/>
<rect x="1560.71" y="222.20" width="12.38" height="56.15" fill="#180c3c"/>
<rect x="1572.09" y="222.20" width="11.38" height="56.15" fill="#08051d"/>
<rect x="1378.66" y="277.35" width="12.38" height="56.15" fill="#fcffa4"/>
<rect x="1390.04" y="277.35" width="12.38" height="56.15" fill="#f2f27d"/>
<rect x="1401.42" y="277.35" width="12.38" height="56.15" fill="#fca108"/>
<rect x="1412.80" y="277.35" width="12.38" height="56.15" fill="#fbba1f"/>
<rect x="1424.17" y="277.35" width="12.38" height="56.15" fill="#fbba1f"/>
<rect x="1435.55" y="277.35" width="12.38" height="56.15" fill="#fbba1f"/>
<rect x="1446.93" y="277.35" width="12.38" height="56.15" fill="#fbba1f"/>
<rect x="1458.31" y="277.35" width="12.38" height="56.15" fill="#87216b"/>
<rect x="1469.69" y="277.35" width="12.38" height="56.15" fill="#450a69"/>
<rect x="1481.06" y="277.35" width="12.38" height="56.15" fill="#2f0a5b"/>
<rect x="1492.44" y="277.35" width="12.38" height="56.15" fill="#5c126e"/>
<rect x="1503.82" y="277.35" width="12.38" height="56.15" fill="#fca108"/>
<rect x="1515.20" y="277.35" width="12.38" height="56.15" fill="#71196e"/>
<rect x="1526.58" y="277.35" width="12.38" height="56.15" fill="#fca108"/>
<rect x="1537.95" y="277.35" width="12.38" height="56.15" fill="#2f0a5b"/>
<rect x="1549.33" y="277.35" width="12.38" height="56.15" fill="#71196e"/>
<rect x="1560.71" y="277.35" width="12.38" height="56.15" fill="#c43c4e"/>
<rect x="1572.09" y="277.35" width="11.38" height="56.15" fill="#000004"/>
<rect x="1378.66" y="332.50" width="12.38" height="56.15" fill="#f6d543"/>
<rect x="1390.04" y="332.50" width="12.38" height="56.15" fill="#fcffa4"/>
<rect x="1401.42" y="332.50" width="12.38" height="56.15" fill="#fca108"/>
<rect x="1412.80" y="332.50" width="12.38" height="56.15" fill="#f8870e"/>
<rect x="1424.17" y="332.50" width="12.38" height="56.15" fill="#fbba1f"/>
<rect x="1435.55" y="332.50" width="12.38" height="56.15" fill="#71196e"/>
<rect x="1446.93" y="332.50" width="12.38" height="56.15" fill="#fca108"/>
<rect x="1458.31" y="332.50" width="12.38" height="56.15" fill="#f6d543"/>
<rect x="1469.69" y="332.50" width="12.38" height="56.15" fill="#f1711f"/>
<rect x="1481.06" y="332.50" width="12.38" height="56.15" fill="#5c126e"/>
<rect x="1492.44" y="332.50" width="12.38" height="56.15" fill="#5c126e"/>
<rect x="1503.82" y="332.50" width="12.38" height="56.15" fill="#5c126e"/>
<rect x="1515.20" y="332.50" width="12.38" height="56.15" fill="#2f0a5b"/>
<rect x="1526.58" y="332.50" width="12.38" height="56.15" fill="#9b2964"/>
<rect x="1537.95" y="332.50" width="12.38" height="56.15" fill="#2f0a5b"/>
<rect x="1549.33" y="332.50" width="12.38" height="56.15" fill="#08051d"/>
<rect x="1560.71" y="332.50" width="12.38" height="56.15" fill="#f1711f"/>
<rect x="1572.09" y="332.50" width="11.38" height="56.15" fill="#180c3c"/>
<rect x="1378.66" y="387.65" width="12.38" height="56.15" fill="#f6d543"/>
<rect x="1390.04" y="387.65" width="12.38" height="56.15" fill="#fcffa4"/>
<rect x="1401.42" y="387.65" width="12.38" height="56.15" fill="#87216b"/>
<rect x="1412.80" y="387.65" width="12.38" height="56.15" fill="#450a69"/>
<rect x="1424.17" y="387.65" width="12.38" height="56.15" fill="#fbba1f"/>
<rect x="1435.55" y="387.65" width="12.38" height="56.15" fill="#f2f27d"/>
<rect x="1446.93" y="387.65" width="12.38" height="56.15" fill="#e55c30"/>
<rect x="1458.31" y="387.65" width="12.38" height="56.15" fill="#5c126e"/>
<rect x="1469.69" y="387.65" width="12.38" height="56.15" fill="#180c3c"/>
<rect x="1481.06" y="387.65" width="12.38" height="56.15" fill="#180c3c"/>
<rect x="1492.44" y="387.65" width="12.38" height="56.15" fill="#e55c30"/>
<rect x="1503.82" y="387.65" width="12.38" height="56.15" fill="#2f0a5b"/>
<rect x="1515.20" y="387.65" width="12.38" height="56.15" fill="#87216b"/>
<rect x="1526.58" y="387.65" width="12.38" height="56.15" fill="#f8870e"/>
<rect x="1537.95" y="387.65" width="12.38" height="56.15" fill="#b1325a"/>
<rect x="1549.33" y="387.65" width="12.38" height="56.15" fill="#9b2964"/>
<rect x="1560.71" y="387.65" width="12.38" height="56.15" fill="#450a69"/>
<rect x="1572.09" y="387.65" width="11.38" height="56.15" fill="#180c3c"/>
<rect x="1378.66" y="442.80" width="12.38" height="56.15" fill="#9b2964"/>
<rect x="1390.04" y="442.80" width="12.38" height="56.15" fill="#fcffa4"/>
<rect x="1401.42" y="442.80" width="12.38" height="56.15" fill="#f1711f"/>
<rect x="1412.80" y="442.80" width="12.38" height="56.15" fill="#71196e"/>
<rect x="1424.17" y="442.80" width="12.38" height="56.15" fill="#5c126e"/>
<rect x="1435.55" y="442.80" width="12.38" height="56.15" fill="#e55c30"/>
<rect x="1446.93" y="442.80" width="12.38" height="56.15" fill="#71196e"/>
<rect x="1458.31" y="442.80" width="12.38" height="56.15" fill="#9b2964"/>
<rect x="1469.69" y="442.80" width="12.38" height="56.15" fill="#d74b3f"/>
<rect x="1481.06" y="442.80" width="12.38" height="56.15" fill="#000004"/>
<rect x="1492.44" y="442.80" width="12.38" height="56.15" fill="#2f0a5b"/>
<rect x="1503.82" y="442.80" width="12.38" height="56.15" fill="#2f0a5b"/>
<rect x="1515.20" y="442.80" width="12.38" height="56.15" fill="#5c126e"/>
<rect x="1526.58" y="442.80" width="12.38" height="56.15" fill="#2f0a5b"/>
<rect x="1537.95" y="442.80" width="12.38" height="56.15" fill="#9b2964"/>
<rect x="1549.33" y="442.80" width="12.38" height="56.15" fill="#fbba1f"/>
<rect x="1560.71" y="442.80" width="12.38" height="56.15" fill="#2f0a5b"/>
<rect x="1572.09" y="442.80" width="11.38" height="56.15" fill="#000004"/>
<rect x="1378.66" y="497.95" width="12.38" height="56.15" fill="#fbba1f"/>
<rect x="1390.04" y="497.95" width="12.38" height="56.15" fill="#fca108"/>
<rect x="1401.42" y="497.95" width="12.38" height="56.15" fill="#f1711f"/>
<rect x="1412.80" y="497.95" width="12.38" height="56.15" fill="#71196e"/>
<rect x="1424.17" y="497.95" width="12.38" height="56.15" fill="#fca108"/>
<rect x="1435.55" y="497.95" width="12.38" height="56.15" fill="#f8870e"/>
<rect x="1446.93" y="497.95" width="12.38" height="56.15" fill="#fca108"/>
<rect x="1458.31" y="497.95" width="12.38" height="56.15" fill="#5c126e"/>
<rect x="1469.69" y="497.95" width="12.38" height="56.15" fill="#71196e"/>
<rect x="1481.06" y="497.95" width="12.38" height="56.15" fill="#d74b3f"/>
<rect x="1492.44" y="497.95" width="12.38" height="56.15" fill="#450a69"/>
<rect x="1503.82" y="497.95" width="12.38" height="56.15" fill="#71196e"/>
<rect x="1515.20" y="497.95" width="12.38" height="56.15" fill="#fbba1f"/>
<rect x="1526.58" y="497.95" width="12.38" height="56.15" fill="#f8870e"/>
<rect x="1537.95" y="497.95" width="12.38" height="56.15" fill="#2f0a5b"/>
<rect x="1549.33" y="497.95" width="12.38" height="56.15" fill="#2f0a5b"/>
<rect x="1560.71" y="497.95" width="12.38" height="56.15" fill="#000004"/>
<rect x="1572.09" y="497.95" width="11.38" height="56.15" fill="#08051d"/>
<rect x="1378.66" y="553.10" width="12.38" height="56.15" fill="#f2f27d"/>
<rect x="1390.04" y="553.10" width="12.38" height="56.15" fill="#f6d543"/>
<rect x="1401.42" y="553.10" width="12.38" height="56.15" fill="#f6d543"/>
<rect x="1412.80" y="553.10" width="12.38" height="56.15" fill="#87216b"/>
<rect x="1424.17" y="553.10" width="12.38" height="56.15" fill="#87216b"/>
<rect x="1435.55" y="553.10" width="12.38" height="56.15" fill="#fbba1f"/>
<rect x="1446.93" y="553.10" width="12.38" height="56.15" fill="#87216b"/>
<rect x="1458.31" y="553.10" width="12.38" height="56.15" fill="#f8870e"/>
<rect x="1469.69" y="553.10" width="12.38" height="56.15" fill="#71196e"/>
<rect x="1481.06" y="553.10" width="12.38" height="56.15" fill="#5c126e"/>
<rect x="1492.44" y="553.10" width="12.38" height="56.15" fill="#450a69"/>
<rect x="1503.82" y="553.10" width="12.38" height="56.15" fill="#450a69"/>
<rect x="1515.20" y="553.10" width="12.38" height="56.15" fill="#71196e"/>
<rect x="1526.58" y="553.10" width="12.38" height="56.15" fill="#08051d"/>
<rect x="1537.95" y="553.10" width="12.38" height="56.15" fill="#71196e"/>
<rect x="1549.33" y="553.10" width="12.38" height="56.15" fill="#000004"/>
<rect x="1560.71" y="553.10" width="12.38" height="56.15" fill="#2f0a5b"/>
<rect x="1572.09" y="553.10" width="11.38" height="56.15" fill="#2f0a5b"/>
<rect x="1378.66" y="608.25" width="12.38" height="56.15" fill="#fcffa4"/>
<rect x="1390.04" y="608.25" width="12.38" height="56.15" fill="#f2f27d"/>
<rect x="1401.42" y="608.25" width="12.38" height="56.15" fill="#fbba1f"/>
<rect x="1412.80" y="608.25" width="12.38" height="56.15" fill="#f8870e"/>
<rect x="1424.17" y="608.25" width="12.38" height="56.15" fill="#f8870e"/>
<rect x="1435.55" y="608.25" width="12.38" height="56.15" fill="#fca108"/>
<rect x="1446.93" y="608.25" width="12.38" height="56.15" fill="#5c126e"/>
<rect x="1458.31" y="608.25" width="12.38" height="56.15" fill="#450a69"/>
<rect x="1469.69" y="608.25" width="12.38" height="56.15" fill="#5c126e"/>
<rect x="1481.06" y="608.25" width="12.38" height="56.15" fill="#180c3c"/>
<rect x="1492.44" y="608.25" width="12.38" height="56.15" fill="#87216b"/>
<rect x="1503.82" y="608.25" width="12.38" height="56.15" fill="#5c126e"/>
<rect x="1515.20" y="608.25" width="12.38" height="56.15" fill="#71196e"/>
<rect x="1526.58" y="608.25" width="12.38" height="56.15" fill="#fbba1f"/>
<rect x="1537.95" y="608.25" width="12.38" height="56.15" fill="#2f0a5b"/>
<rect x="1549.33" y="608.25" width="12.38" height="56.15" fill="#f1711f"/>
<rect x="1560.71" y="608.25" width="12.38" height="56.15" fill="#5c126e"/>
<rect x="1572.09" y="608.25" width="11.38" height="56.15" fill="#000004"/>
<rect x="1378.66" y="663.40" width="12.38" height="56.15" fill="#fca108"/>
<rect x="1390.04" y="663.40" width="12.38" height="56.15" fill="#fbba1f"/>
<rect x="1401.42" y="663.40" width="12.38" height="56.15" fill="#fbba1f"/>
<rect x="1412.80" y="663.40" width="12.38" height="56.15" fill="#2f0a5b"/>
<rect x="1424.17" y="663.40" width="12.38" height="56.15" fill="#e55c30"/>
<rect x="1435.55" y="663.40" width="12.38" height="56.15" fill="#5c126e"/>
<rect x="1446.93" y="663.40" width="12.38" height="56.15" fill="#5c126e"/>
<rect x="1458.31" y="663.40" width="12.38" height="56.15" fill="#71196e"/>
<rect x="1469.69" y="663.40" width="12.38" height="56.15" fill="#5c126e"/>
<rect x="1481.06" y="663.40" width="12.38" height="56.15" fill="#5c126e"/>
<rect x="1492.44" y="663.40" width="12.38" height="56.15" fill="#2f0a5b"/>
<rect x="1503.82" y="663.40" width="12.38" height="56.15" fill="#5c126e"/>
<rect x="1515.20" y="663.40" width="12.38" height="56.15" fill="#f1711f"/>
<rect x="1526.58" y="663.40" width="12.38" height="56.15" fill="#f8870e"/>
<rect x="1537.95" y="663.40" width="12.38" height="56.15" fill="#450a69"/>
<rect x="1549.33" y="663.40" width="12.38" height="56.15" fill="#9b2964"/>
<rect x="1560.71" y="663.40" width="12.38" height="56.15" fill="#e55c30"/>
<rect x="1572.09" y="663.40" width="11.38" height="56.15" fill="#180c3c"/>
<rect x="1378.66" y="718.55" width="12.38" height="56.15" fill="#87216b"/>
<rect x="1390.04" y="718.55" width="12.38" height="56.15" fill="#fca108"/>
<rect x="1401.42" y="718.55" width="12.38" height="56.15" fill="#b1325a"/>
<rect x="1412.80" y="718.55" width="12.38" height="56.15" fill="#f6d543"/>
<rect x="1424.17" y="718.55" width="12.38" height="56.15" fill="#fbba1f"/>
<rect x="1435.55" y="718.55" width="12.38" height="56.15" fill="#f8870e"/>
<rect x="1446.93" y="718.55" width="12.38" height="56.15" fill="#f1711f"/>
<rect x="1458.31" y="718.55" width="12.38" height="56.15" fill="#71196e"/>
<rect x="1469.69" y="718.55" width="12.38" height="56.15" fill="#5c126e"/>
<rect x="1481.06" y="718.55" width="12.38" height="56.15" fill="#9b2964"/>
<rect x="1492.44" y="718.55" width="12.38" height="56.15" fill="#f8870e"/>
<rect x="1503.82" y="718.55" width="12.38" height="56.15" fill="#5c126e"/>
<rect x="1515.20" y="718.55" width="12.38" height="56.15" fill="#180c3c"/>
<rect x="1526.58" y="718.55" width="12.38" height="56.15" fill="#2f0a5b"/>
<rect x="1537.95" y="718.55" width="12.38" height="56.15" fill="#180c3c"/>
<rect x="1549.33" y="718.55" width="12.38" height="56.15" fill="#71196e"/>
<rect x="1560.71" y="718.55" width="12.38" height="56.15" fill="#f6d543"/>
<rect x="1572.09" y="718.55" width="11.38" height="56.15" fill="#71196e"/>
<rect x="1378.66" y="773.70" width="12.38" height="56.15" fill="#f6d543"/>
<rect x="1390.04" y="773.70" width="12.38" height="56.15" fill="#87216b"/>
<rect x="1401.42" y="773.70" width="12.38" height="56.15" fill="#fca108"/>
<rect x="1412.80" y="773.70" width="12.38" height="56.15" fill="#5c126e"/>
<rect x="1424.17" y="773.70" width="12.38" height="56.15" fill="#f1711f"/>
<rect x="1435.55" y="773.70" width="12.38" height="56.15" fill="#fca108"/>
<rect x="1446.93" y="773.70" width="12.38" height="56.15" fill="#450a69"/>
<rect x="1458.31" y="773.70" width="12.38" height="56.15" fill="#180c3c"/>
<rect x="1469.69" y="773.70" width="12.38" height="56.15" fill="#f6d543"/>
<rect x="1481.06" y="773.70" width="12.38" height="56.15" fill="#87216b"/>
<rect x="1492.44" y="773.70" width="12.38" height="56.15" fill="#b1325a"/>
<rect x="1503.82" y="773.70" width="12.38" height="56.15" fill="#2f0a5b"/>
<rect x="1515.20" y="773.70" width="12.38" height="56.15" fill="#180c3c"/>
<rect x="1526.58" y="773.70" width="12.38" height="56.15" fill="#450a69"/>
<rect x="1537.95" y="773.70" width="12.38" height="56.15" fill="#71196e"/>
<rect x="1549.33" y="773.70" width="12.38" height="56.15" fill="#450a69"/>
<rect x="1560.71" y="773.70" width="12.38" height="56.15" fill="#87216b"/>
<rect x="1572.09" y="773.70" width="11.38" height="56.15" fill="#87216b"/>
<rect x="1378.66" y="828.85" width="12.38" height="56.15" fill="#f1711f"/>
<rect x="1390.04" y="828.85" width="12.38" height="56.15" fill="#fbba1f"/>
<rect x="1401.42" y="828.85" width="12.38" height="56.15" fill="#fbba1f"/>
<rect x="1412.80" y="828.85" width="12.38" height="56.15" fill="#e55c30"/>
<rect x="1424.17" y="828.85" width="12.38" height="56.15" fill="#71196e"/>
<rect x="1435.55" y="828.85" width="12.38" height="56.15" fill="#87216b"/>
<rect x="1446.93" y="828.85" width="12.38" height="56.15" fill="#450a69"/>
<rect x="1458.31" y="828.85" width="12.38" height="56.15" fill="#5c126e"/>
<rect x="1469.69" y="828.85" width="12.38" height="56.15" fill="#9b2964"/>
<rect x="1481.06" y="828.85" width="12.38" height="56.15" fill="#450a69"/>
<rect x="1492.44" y="828.85" width="12.38" height="56.15" fill="#5c126e"/>
<rect x="1503.82" y="828.85" width="12.38" height="56.15" fill="#5c126e"/>
<rect x="1515.20" y="828.85" width="12.38" height="56.15" fill="#5c126e"/>
<rect x="1526.58" y="828.85" width="12.38" height="56.15" fill="#c43c4e"/>
<rect x="1537.95" y="828.85" width="12.38" height="56.15" fill="#2f0a5b"/>
<rect x="1549.33" y="828.85" width="12.38" height="56.15" fill="#d74b3f"/>
<rect x="1560.71" y="828.85" width="12.38" height="56.15" fill="#5c126e"/>
<rect x="1572.09" y="828.85" width="11.38" height="56.15" fill="#08051d"/>
<rect x="1378.66" y="884.00" width="12.38" height="55.15" fill="#fca108"/>
<rect x="1390.04" y="884.00" width="12.38" height="55.15" fill="#f8870e"/>
<rect x="1401.42" y="884.00" width="12.38" height="55.15" fill="#f6d543"/>
<rect x="1412.80" y="884.00" width="12.38" height="55.15" fill="#f1711f"/>
<rect x="1424.17" y="884.00" width="12.38" height="55.15" fill="#e55c30"/>
<rect x="1435.55" y="884.00" width="12.38" height="55.15" fill="#fca108"/>
<rect x="1446.93" y="884.00" width="12.38" height="55.15" fill="#2f0a5b"/>
<rect x="1458.31" y="884.00" width="12.38" height="55.15" fill="#180c3c"/>
<rect x="1469.69" y="884.00" width="12.38" height="55.15" fill="#5c126e"/>
<rect x="1481.06" y="884.00" width="12.38" height="55.15" fill="#5c126e"/>
<rect x="1492.44" y="884.00" width="12.38" height="55.15" fill="#5c126e"/>
<rect x="1503.82" y="884.00" width="12.38" height="55.15" fill="#e55c30"/>
<rect x="1515.20" y="884.00" width="12.38" height="55.15" fill="#87216b"/>
<rect x="1526.58" y="884.00" width="12.38" height="55.15" fill="#2f0a5b"/>
<rect x="1537.95" y="884.00" width="12.38" height="55.15" fill="#2f0a5b"/>
<rect x="1549.33" y="884.00" width="12.38" height="55.15" fill="#450a69"/>
<rect x="1560.71" y="884.00" width="12.38" height="55.15" fill="#2f0a5b"/>
<rect x="1572.09" y="884.00" width="11.38" height="55.15" fill="#2f0a5b"/>
<rect x="1597.37" y="222.20" width="12.38" height="56.15" fill="#450a69"/>
<rect x="1608.74" y="222.20" width="12.38" height="56.15" fill="#08051d"/>
<rect x="1620.12" y="222.20" width="12.38" height="56.15" fill="#08051d"/>
<rect x="1631.50" y="222.20" width="12.38" height="56.15" fill="#5c126e"/>
<rect x="1642.88" y="222.20" width="12.38" height="56.15" fill="#e55c30"/>
<rect x="1654.26" y="222.20" width="12.38" height="56.15" fill="#87216b"/>
<rect x="1665.63" y="222.20" width="12.38" height="56.15" fill="#2f0a5b"/>
<rect x="1677.01" y="222.20" width="12.38" height="56.15" fill="#450a69"/>
<rect x="1688.39" y="222.20" width="12.38" height="56.15" fill="#87216b"/>
<rect x="1699.77" y="222.20" width="12.38" height="56.15" fill="#5c126e"/>
<rect x="1711.15" y="222.20" width="12.38" height="56.15" fill="#fca108"/>
<rect x="1722.52" y="222.20" width="12.38" height="56.15" fill="#450a69"/>
<rect x="1733.90" y="222.20" width="12.38" height="56.15" fill="#fbba1f"/>
<rect x="1745.28" y="222.20" width="12.38" height="56.15" fill="#f8870e"/>
<rect x="1756.66" y="222.20" width="12.38" height="56.15" fill="#08051d"/>
<rect x="1768.04" y="222.20" width="12.38" height="56.15" fill="#180c3c"/>
<rect x="1779.41" y="222.20" width="11.38" height="56.15" fill="#000004"/>
<rect x="1597.37" y="277.35" width="12.38" height="56.15" fill="#450a69"/>
<rect x="1608.74" y="277.35" width="12.38" height="56.15" fill="#000004"/>
<rect x="1620.12" y="277.35" width="12.38" height="56.15" fill="#450a69"/>
<rect x="1631.50" y="277.35" width="12.38" height="56.15" fill="#180c3c"/>
<rect x="1642.88" y="277.35" width="12.38" height="56.15" fill="#08051d"/>
<rect x="1654.26" y="277.35" width="12.38" height="56.15" fill="#2f0a5b"/>
<rect x="1665.63" y="277.35" width="12.38" height="56.15" fill="#2f0a5b"/>
<rect x="1677.01" y="277.35" width="12.38" height="56.15" fill="#180c3c"/>
<rect x="1688.39" y="277.35" width="12.38" height="56.15" fill="#9b2964"/>
<rect x="1699.77" y="277.35" width="12.38" height="56.15" fill="#5c126e"/>
<rect x="1711.15" y="277.35" width="12.38" height="56.15" fill="#87216b"/>
<rect x="1722.52" y="277.35" width="12.38" height="56.15" fill="#71196e"/>
<rect x="1733.90" y="277.35" width="12.38" height="56.15" fill="#f6d543"/>
<rect x="1745.28" y="277.35" width="12.38" height="56.15" fill="#fbba1f"/>
<rect x="1756.66" y="277.35" width="12.38" height="56.15" fill="#450a69"/>
<rect x="1768.04" y="277.35" width="12.38" height="56.15" fill="#5c126e"/>
<rect x="1779.41" y="277.35" width="11.38" height="56.15" fill="#450a69"/>
<rect x="1597.37" y="332.50" width="12.38" height="56.15" fill="#5c126e"/>
<rect x="1608.74" y="332.50" width="12.38" height="56.15" fill="#08051d"/>
<rect x="1620.12" y="332.50" width="12.38" height="56.15" fill="#08051d"/>
<rect x="1631.50" y="332.50" width="12.38" height="56.15" fill="#e55c30"/>
<rect x="1642.88" y="332.50" width="12.38" height="56.15" fill="#71196e"/>
<rect x="1654.26" y="332.50" width="12.38" height="56.15" fill="#f8870e"/>
<rect x="1665.63" y="332.50" width="12.38" height="56.15" fill="#fca108"/>
<rect x="1677.01" y="332.50" width="12.38" height="56.15" fill="#5c126e"/>
<rect x="1688.39" y="332.50" width="12.38" height="56.15" fill="#5c126e"/>
<rect x="1699.77" y="332.50" width="12.38" height="56.15" fill="#2f0a5b"/>
<rect x="1711.15" y="332.50" width="12.38" height="56.15" fill="#180c3c"/>
<rect x="1722.52" y="332.50" width="12.38" height="56.15" fill="#2f0a5b"/>
<rect x="1733.90" y="332.50" width="12.38" height="56.15" fill="#71196e"/>
<rect x="1745.28" y="332.50" width="12.38" height="56.15" fill="#f8870e"/>
<rect x="1756.66" y="332.50" width="12.38" height="56.15" fill="#08051d"/>
<rect x="1768.04" y="332.50" width="12.38" height="56.15" fill="#08051d"/>
<rect x="1779.41" y="332.50" width="11.38" height="56.15" fill="#08051d"/>
<rect x="1597.37" y="387.65" width="12.38" height="56.15" fill="#fcffa4"/>
<rect x="1608.74" y="387.65" width="12.38" height="56.15" fill="#fca108"/>
<rect x="1620.12" y="387.65" width="12.38" height="56.15" fill="#87216b"/>
<rect x="1631.50" y="387.65" width="12.38" height="56.15" fill="#d74b3f"/>
<rect x="1642.88" y="387.65" width="12.38" height="56.15" fill="#fca108"/>
<rect x="1654.26" y="387.65" width="12.38" height="56.15" fill="#f8870e"/>
<rect x="1665.63" y="387.65" width="12.38" height="56.15" fill="#f1711f"/>
<rect x="1677.01" y="387.65" width="12.38" height="56.15" fill="#71196e"/>
<rect x="1688.39" y="387.65" width="12.38" height="56.15" fill="#000004"/>
<rect x="1699.77" y="387.65" width="12.38" height="56.15" fill="#450a69"/>
<rect x="1711.15" y="387.65" width="12.38" height="56.15" fill="#fca108"/>
<rect x="1722.52" y="387.65" width="12.38" height="56.15" fill="#9b2964"/>
<rect x="1733.90" y="387.65" width="12.38" height="56.15" fill="#fbba1f"/>
<rect x="1745.28" y="387.65" width="12.38" height="56.15" fill="#000004"/>
<rect x="1756.66" y="387.65" width="12.38" height="56.15" fill="#000004"/>
<rect x="1768.04" y="387.65" width="12.38" height="56.15" fill="#08051d"/>
<rect x="1779.41" y="387.65" width="11.38" height="56.15" fill="#000004"/>
<rect x="1597.37" y="442.80" width="12.38" height="56.15" fill="#5c126e"/>
<rect x="1608.74" y="442.80" width="12.38" height="56.15" fill="#fbba1f"/>
<rect x="1620.12" y="442.80" width="12.38" height="56.15" fill="#87216b"/>
<rect x="1631.50" y="442.80" width="12.38" height="56.15" fill="#2f0a5b"/>
<rect x="1642.88" y="442.80" width="12.38" height="56.15" fill="#d74b3f"/>
<rect x="1654.26" y="442.80" width="12.38" height="56.15" fill="#180c3c"/>
<rect x="1665.63" y="442.80" width="12.38" height="56.15" fill="#71196e"/>
<rect x="1677.01" y="442.80" width="12.38" height="56.15" fill="#180c3c"/>
<rect x="1688.39" y="442.80" width="12.38" height="56.15" fill="#71196e"/>
<rect x="1699.77" y="442.80" width="12.38" height="56.15" fill="#000004"/>
<rect x="1711.15" y="442.80" width="12.38" height="56.15" fill="#f8870e"/>
<rect x="1722.52" y="442.80" width="12.38" height="56.15" fill="#71196e"/>
<rect x="1733.90" y="442.80" width="12.38" height="56.15" fill="#f2f27d"/>
<rect x="1745.28" y="442.80" width="12.38" height="56.15" fill="#450a69"/>
<rect x="1756.66" y="442.80" width="12.38" height="56.15" fill="#000004"/>
<rect x="1768.04" y="442.80" width="12.38" height="56.15" fill="#450a69"/>
<rect x="1779.41" y="442.80" width="11.38" height="56.15" fill="#000004"/>
<rect x="1597.37" y="497.95" width="12.38" height="56.15" fill="#fbba1f"/>
<rect x="1608.74" y="497.95" width="12.38" height="56.15" fill="#5c126e"/>
<rect x="1620.12" y="497.95" width="12.38" height="56.15" fill="#fbba1f"/>
<rect x="1631.50" y="497.95" width="12.38" height="56.15" fill="#f6d543"/>
<rect x="1642.88" y="497.95" width="12.38" height="56.15" fill="#180c3c"/>
<rect x="1654.26" y="497.95" width="12.38" height="56.15" fill="#5c126e"/>
<rect x="1665.63" y="497.95" width="12.38" height="56.15" fill="#87216b"/>
<rect x="1677.01" y="497.95" width="12.38" height="56.15" fill="#08051d"/>
<rect x="1688.39" y="497.95" width="12.38" height="56.15" fill="#e55c30"/>
<rect x="1699.77" y="497.95" width="12.38" height="56.15" fill="#9b2964"/>
<rect x="1711.15" y="497.95" width="12.38" height="56.15" fill="#71196e"/>
<rect x="1722.52" y="497.95" width="12.38" height="56.15" fill="#2f0a5b"/>
<rect x="1733.90" y="497.95" width="12.38" height="56.15" fill="#fca108"/>
<rect x="1745.28" y="497.95" width="12.38" height="56.15" fill="#08051d"/>
<rect x="1756.66" y="497.95" width="12.38" height="56.15" fill="#d74b3f"/>
<rect x="1768.04" y="497.95" width="12.38" height="56.15" fill="#f6d543"/>
<rect x="1779.41" y="497.95" width="11.38" height="56.15" fill="#fca108"/>
<rect x="1597.37" y="553.10" width="12.38" height="56.15" fill="#5c126e"/>
<rect x="1608.74" y="553.10" width="12.38" height="56.15" fill="#87216b"/>
<rect x="1620.12" y="553.10" width="12.38" height="56.15" fill="#f8870e"/>
<rect x="1631.50" y="553.10" width="12.38" height="56.15" fill="#fbba1f"/>
<rect x="1642.88" y="553.10" width="12.38" height="56.15" fill="#fca108"/>
<rect x="1654.26" y="553.10" width="12.38" height="56.15" fill="#d74b3f"/>
<rect x="1665.63" y="553.10" width="12.38" height="56.15" fill="#08051d"/>
<rect x="1677.01" y="553.10" width="12.38" height="56.15" fill="#f1711f"/>
<rect x="1688.39" y="553.10" width="12.38" height="56.15" fill="#9b2964"/>
<rect x="1699.77" y="553.10" width="12.38" height="56.15" fill="#5c126e"/>
<rect x="1711.15" y="553.10" width="12.38" height="56.15" fill="#fca108"/>
<rect x="1722.52" y="553.10" width="12.38" height="56.15" fill="#71196e"/>
<rect x="1733.90" y="553.10" width="12.38" height="56.15" fill="#9b2964"/>
<rect x="1745.28" y="553.10" width="12.38" height="56.15" fill="#5c126e"/>
<rect x="1756.66" y="553.10" width="12.38" height="56.15" fill="#000004"/>
<rect x="1768.04" y="553.10" width="12.38" height="56.15" fill="#000004"/>
<rect x="1779.41" y="553.10" width="11.38" height="56.15" fill="#f1711f"/>
<rect x="1597.37" y="608.25" width="12.38" height="56.15" fill="#fca108"/>
<rect x="1608.74" y="608.25" width="12.38" height="56.15" fill="#fca108"/>
<rect x="1620.12" y="608.25" width="12.38" height="56.15" fill="#450a69"/>
<rect x="1631.50" y="608.25" width="12.38" height="56.15" fill="#d74b3f"/>
<rect x="1642.88" y="608.25" width="12.38" height="56.15" fill="#f8870e"/>
<rect x="1654.26" y="608.25" width="12.38" height="56.15" fill="#450a69"/>
<rect x="1665.63" y="608.25" width="12.38" height="56.15" fill="#5c126e"/>
<rect x="1677.01" y="608.25" width="12.38" height="56.15" fill="#08051d"/>
<rect x="1688.39" y="608.25" width="12.38" height="56.15" fill="#450a69"/>
<rect x="1699.77" y="608.25" width="12.38" height="56.15" fill="#450a69"/>
<rect x="1711.15" y="608.25" width="12.38" height="56.15" fill="#fca108"/>
<rect x="1722.52" y="608.25" width="12.38" height="56.15" fill="#5c126e"/>
<rect x="1733.90" y="608.25" width="12.38" height="56.15" fill="#f8870e"/>
<rect x="1745.28" y="608.25" width="12.38" height="56.15" fill="#9b2964"/>
<rect x="1756.66" y="608.25" width="12.38" height="56.15" fill="#180c3c"/>
<rect x="1768.04" y="608.25" width="12.38" height="56.15" fill="#b1325a"/>
<rect x="1779.41" y="608.25" width="11.38" height="56.15" fill="#f8870e"/>
<rect x="1597.37" y="663.40" width="12.38" height="56.15" fill="#5c126e"/>
<rect x="1608.74" y="663.40" width="12.38" height="56.15" fill="#87216b"/>
<rect x="1620.12" y="663.40" width="12.38" height="56.15" fill="#71196e"/>
<rect x="1631.50" y="663.40" width="12.38" height="56.15" fill="#5c126e"/>
<rect x="1642.88" y="663.40" width="12.38" height="56.15" fill="#f8870e"/>
<rect x="1654.26" y="663.40" width="12.38" height="56.15" fill="#9b2964"/>
<rect x="1665.63" y="663.40" width="12.38" height="56.15" fill="#71196e"/>
<rect x="1677.01" y="663.40" width="12.38" height="56.15" fill="#2f0a5b"/>
<rect x="1688.39" y="663.40" width="12.38" height="56.15" fill="#180c3c"/>
<rect x="1699.77" y="663.40" width="12.38" height="56.15" fill="#87216b"/>
<rect x="1711.15" y="663.40" width="12.38" height="56.15" fill="#f1711f"/>
<rect x="1722.52" y="663.40" width="12.38" height="56.15" fill="#fca108"/>
<rect x="1733.90" y="663.40" width="12.38" height="56.15" fill="#f2f27d"/>
<rect x="1745.28" y="663.40" width="12.38" height="56.15" fill="#9b2964"/>
<rect x="1756.66" y="663.40" width="12.38" height="56.15" fill="#450a69"/>
<rect x="1768.04" y="663.40" width="12.38" height="56.15" fill="#2f0a5b"/>
<rect x="1779.41" y="663.40" width="11.38" height="56.15" fill="#450a69"/>
<rect x="1597.37" y="718.55" width="12.38" height="56.15" fill="#fcffa4"/>
<rect x="1608.74" y="718.55" width="12.38" height="56.15" fill="#d74b3f"/>
<rect x="1620.12" y="718.55" width="12.38" height="56.15" fill="#9b2964"/>
<rect x="1631.50" y="718.55" width="12.38" height="56.15" fill="#fca108"/>
<rect x="1642.88" y="718.55" width="12.38" height="56.15" fill="#9b2964"/>
<rect x="1654.26" y="718.55" width="12.38" height="56.15" fill="#d74b3f"/>
<rect x="1665.63" y="718.55" width="12.38" height="56.15" fill="#9b2964"/>
<rect x="1677.01" y="718.55" width="12.38" height="56.15" fill="#fca108"/>
<rect x="1688.39" y="718.55" width="12.38" height="56.15" fill="#fca108"/>
<rect x="1699.77" y="718.55" width="12.38" height="56.15" fill="#e55c30"/>
<rect x="1711.15" y="718.55" width="12.38" height="56.15" fill="#fca108"/>
<rect x="1722.52" y="718.55" width="12.38" height="56.15" fill="#fca108"/>
<rect x="1733.90" y="718.55" width="12.38" height="56.15" fill="#000004"/>
<rect x="1745.28" y="718.55" width="12.38" height="56.15" fill="#5c126e"/>
<rect x="1756.66" y="718.55" width="12.38" height="56.15" fill="#000004"/>
<rect x="1768.04" y="718.55" width="12.38" height="56.15" fill="#2f0a5b"/>
<rect x="1779.41" y="718.55" width="11.38" height="56.15" fill="#71196e"/>
<rect x="1597.37" y="773.70" width="12.38" height="56.15" fill="#f1711f"/>
<rect x="1608.74" y="773.70" width="12.38" height="56.15" fill="#71196e"/>
<rect x="1620.12" y="773.70" width="12.38" height="56.15" fill="#450a69"/>
<rect x="1631.50" y="773.70" width="12.38" height="56.15" fill="#5c126e"/>
<rect x="1642.88" y="773.70" width="12.38" height="56.15" fill="#fca108"/>
<rect x="1654.26" y="773.70" width="12.38" height="56.15" fill="#f8870e"/>
<rect x="1665.63" y="773.70" width="12.38" height="56.15" fill="#71196e"/>
<rect x="1677.01" y="773.70" width="12.38" height="56.15" fill="#9b2964"/>
<rect x="1688.39" y="773.70" width="12.38" height="56.15" fill="#2f0a5b"/>
<rect x="1699.77" y="773.70" width="12.38" height="56.15" fill="#71196e"/>
<rect x="1711.15" y="773.70" width="12.38" height="56.15" fill="#fca108"/>
<rect x="1722.52" y="773.70" width="12.38" height="56.15" fill="#87216b"/>
<rect x="1733.90" y="773.70" width="12.38" height="56.15" fill="#e55c30"/>
<rect x="1745.28" y="773.70" width="12.38" height="56.15" fill="#2f0a5b"/>
<rect x="1756.66" y="773.70" width="12.38" height="56.15" fill="#08051d"/>
<rect x="1768.04" y="773.70" width="12.38" height="56.15" fill="#450a69"/>
<rect x="1779.41" y="773.70" width="11.38" height="56.15" fill="#08051d"/>
<rect x="1597.37" y="828.85" width="12.38" height="56.15" fill="#fcffa4"/>
<rect x="1608.74" y="828.85" width="12.38" height="56.15" fill="#87216b"/>
<rect x="1620.12" y="828.85" width="12.38" height="56.15" fill="#e55c30"/>
<rect x="1631.50" y="828.85" width="12.38" height="56.15" fill="#fbba1f"/>
<rect x="1642.88" y="828.85" width="12.38" height="56.15" fill="#f8870e"/>
<rect x="1654.26" y="828.85" width="12.38" height="56.15" fill="#87216b"/>
<rect x="1665.63" y="828.85" width="12.38" height="56.15" fill="#fca108"/>
<rect x="1677.01" y="828.85" width="12.38" height="56.15" fill="#180c3c"/>
<rect x="1688.39" y="828.85" width="12.38" height="56.15" fill="#87216b"/>
<rect x="1699.77" y="828.85" width="12.38" height="56.15" fill="#2f0a5b"/>
<rect x="1711.15" y="828.85" width="12.38" height="56.15" fill="#87216b"/>
<rect x="1722.52" y="828.85" width="12.38" height="56.15" fill="#f8870e"/>
<rect x="1733.90" y="828.85" width="12.38" height="56.15" fill="#5c126e"/>
<rect x="1745.28" y="828.85" width="12.38" height="56.15" fill="#000004"/>
<rect x="1756.66" y="828.85" width="12.38" height="56.15" fill="#000004"/>
<rect x="1768.04" y="828.85" width="12.38" height="56.15" fill="#180c3c"/>
<rect x="1779.41" y="828.85" width="11.38" height="56.15" fill="#180c3c"/>
<rect x="1597.37" y="884.00" width="12.38" height="55.15" fill="#fcffa4"/>
<rect x="1608.74" y="884.00" width="12.38" height="55.15" fill="#87216b"/>
<rect x="1620.12" y="884.00" width="12.38" height="55.15" fill="#71196e"/>
<rect x="1631.50" y="884.00" width="12.38" height="55.15" fill="#fbba1f"/>
<rect x="1642.88" y="884.00" width="12.38" height="55.15" fill="#f2f27d"/>
<rect x="1654.26" y="884.00" width="12.38" height="55.15" fill="#f8870e"/>
<rect x="1665.63" y="884.00" width="12.38" height="55.15" fill="#f6d543"/>
<rect x="1677.01" y="884.00" width="12.38" height="55.15" fill="#f6d543"/>
<rect x="1688.39" y="884.00" width="12.38" height="55.15" fill="#9b2964"/>
<rect x="1699.77" y="884.00" width="12.38" height="55.15" fill="#450a69"/>
<rect x="1711.15" y="884.00" width="12.38" height="55.15" fill="#71196e"/>
<rect x="1722.52" y="884.00" width="12.38" height="55.15" fill="#e55c30"/>
<rect x="1733.90" y="884.00" width="12.38" height="55.15" fill="#fca108"/>
<rect x="1745.28" y="884.00" width="12.38" height="55.15" fill="#000004"/>
<rect x="1756.66" y="884.00" width="12.38" height="55.15" fill="#000004"/>
<rect x="1768.04" y="884.00" width="12.38" height="55.15" fill="#5c126e"/>
<rect x="1779.41" y="884.00" width="11.38" height="55.15" fill="#180c3c"/>
<rect x="1804.69" y="222.20" width="12.38" height="56.15" fill="#f1711f"/>
<rect x="1816.07" y="222.20" width="12.38" height="56.15" fill="#87216b"/>
<rect x="1827.45" y="222.20" width="12.38" height="56.15" fill="#71196e"/>
<rect x="1838.83" y="222.20" width="11.38" height="56.15" fill="#f1711f"/>
<rect x="1804.69" y="277.35" width="12.38" height="56.15" fill="#000004"/>
<rect x="1816.07" y="277.35" width="12.38" height="56.15" fill="#08051d"/>
<rect x="1827.45" y="277.35" width="12.38" height="56.15" fill="#71196e"/>
<rect x="1838.83" y="277.35" width="11.38" height="56.15" fill="#71196e"/>
<rect x="1804.69" y="332.50" width="12.38" height="56.15" fill="#08051d"/>
<rect x="1816.07" y="332.50" width="12.38" height="56.15" fill="#08051d"/>
<rect x="1827.45" y="332.50" width="12.38" height="56.15" fill="#fbba1f"/>
<rect x="1838.83" y="332.50" width="11.38" height="56.15" fill="#9b2964"/>
<rect x="1804.69" y="387.65" width="12.38" height="56.15" fill="#450a69"/>
<rect x="1816.07" y="387.65" width="12.38" height="56.15" fill="#450a69"/>
<rect x="1827.45" y="387.65" width="12.38" height="56.15" fill="#450a69"/>
<rect x="1838.83" y="387.65" width="11.38" height="56.15" fill="#f2f27d"/>
<rect x="1804.69" y="442.80" width="12.38" height="56.15" fill="#2f0a5b"/>
<rect x="1816.07" y="442.80" width="12.38" height="56.15" fill="#71196e"/>
<rect x="1827.45" y="442.80" width="12.38" height="56.15" fill="#71196e"/>
<rect x="1838.83" y="442.80" width="11.38" height="56.15" fill="#fbba1f"/>
<rect x="1804.69" y="497.95" width="12.38" height="56.15" fill="#08051d"/>
<rect x="1816.07" y="497.95" width="12.38" height="56.15" fill="#2f0a5b"/>
<rect x="1827.45" y="497.95" width="12.38" height="56.15" fill="#f2f27d"/>
<rect x="1838.83" y="497.95" width="11.38" height="56.15" fill="#fca108"/>
<rect x="1804.69" y="553.10" width="12.38" height="56.15" fill="#e55c30"/>
<rect x="1816.07" y="553.10" width="12.38" height="56.15" fill="#71196e"/>
<rect x="1827.45" y="553.10" width="12.38" height="56.15" fill="#87216b"/>
<rect x="1838.83" y="553.10" width="11.38" height="56.15" fill="#fbba1f"/>
<rect x="1804.69" y="608.25" width="12.38" height="56.15" fill="#87216b"/>
<rect x="1816.07" y="608.25" width="12.38" height="56.15" fill="#71196e"/>
<rect x="1827.45" y="608.25" width="12.38" height="56.15" fill="#71196e"/>
<rect x="1838.83" y="608.25" width="11.38" height="56.15" fill="#e55c30"/>
<rect x="1804.69" y="663.40" width="12.38" height="56.15" fill="#d74b3f"/>
<rect x="1816.07" y="663.40" width="12.38" height="56.15" fill="#87216b"/>
<rect x="1827.45" y="663.40" width="12.38" height="56.15" fill="#f8870e"/>
<rect x="1838.83" y="663.40" width="11.38" height="56.15" fill="#fca108"/>
<rect x="1804.69" y="718.55" width="12.38" height="56.15" fill="#d74b3f"/>
<rect x="1816.07" y="718.55" width="12.38" height="56.15" fill="#71196e"/>
<rect x="1827.45" y="718.55" width="12.38" height="56.15" fill="#180c3c"/>
<rect x="1838.83" y="718.55" width="11.38" height="56.15" fill="#87216b"/>
<rect x="1804.69" y="773.70" width="12.38" height="56.15" fill="#f6d543"/>
<rect x="1816.07" y="773.70" width="12.38" height="56.15" fill="#2f0a5b"/>
<rect x="1827.45" y="773.70" width="12.38" height="56.15" fill="#e55c30"/>
<rect x="1838.83" y="773.70" width="11.38" height="56.15" fill="#71196e"/>
<rect x="1804.69" y="828.85" width="12.38" height="56.15" fill="#180c3c"/>
<rect x="1816.07" y="828.85" width="12.38" height="56.15" fill="#08051d"/>
<rect x="1827.45" y="828.85" width="12.38" height="56.15" fill="#5c126e"/>
<rect x="1838.83" y="828.85" width="11.38" height="56.15" fill="#e55c30"/>
<rect x="1804.69" y="884.00" width="12.38" height="55.15" fill="#180c3c"/>
<rect x="1816.07" y="884.00" width="12.38" height="55.15" fill="#08051d"/>
<rect x="1827.45" y="884.00" width="12.38" height="55.15" fill="#71196e"/>
<rect x="1838.83" y="884.00" width="11.38" height="55.15" fill="#71196e"/>
<text x="1858.6" y="122.4" font-size="35.2">IGHV</text>
<text x="1858.6" y="164.2" font-size="35.2">SF3B1</text>
<text x="1858.6" y="206.6" font-size="35.2">PG</text>
<text x="1858.8" y="259.9" font-size="28.4">PRPF3</text>
<text x="1858.8" y="315.0" font-size="28.4">PRPF6</text>
<text x="1858.8" y="370.2" font-size="28.4">PRPF8</text>
<text x="1858.8" y="425.3" font-size="28.4">SNRPA</text>
<text x="1858.8" y="480.5" font-size="28.4">SNRPD2</text>
<text x="1858.8" y="535.6" font-size="28.4">CRNKL1</text>
<text x="1858.8" y="590.8" font-size="28.4">SNRPB2</text>
<text x="1858.8" y="645.9" font-size="28.4">SF3A1</text>
<text x="1858.8" y="701.1" font-size="28.4">SF3B1</text>
<text x="1858.8" y="756.2" font-size="28.4">SRSF4</text>
<text x="1858.8" y="811.4" font-size="28.4">PUF60</text>
<text x="1858.8" y="866.5" font-size="28.4">CDC5L</text>
<text x="1858.8" y="921.7" font-size="28.4">PRPF19</text>
<rect x="400.20" y="1150.20" width="41.30" height="41.40" fill="#0a6eb0"/>
<rect x="441.50" y="1150.20" width="41.20" height="41.40" fill="#c8001e"/>
<text transform="translate(431.8,1143.0) rotate(-90)" font-size="29.0" text-anchor="start">U–CLL</text>
<text transform="translate(472.9,1143.0) rotate(-90)" font-size="29.0" text-anchor="start">M–CLL</text>
<text x="441.4" y="1226.2" font-size="27" text-anchor="middle" font-weight="bold" letter-spacing="1.0">IGHV</text>
<rect x="544.30" y="1150.20" width="41.43" height="41.40" fill="#9b98ff"/>
<text transform="translate(575.8,1138.5) rotate(-90)" font-size="29.0" text-anchor="start">ASB-CLL</text>
<rect x="585.43" y="1150.20" width="41.43" height="41.40" fill="#ffbb48"/>
<text transform="translate(616.9,1138.5) rotate(-90)" font-size="29.0" text-anchor="start">Tris12M-PG</text>
<rect x="626.56" y="1150.20" width="41.43" height="41.40" fill="#00b159"/>
<text transform="translate(658.1,1138.5) rotate(-90)" font-size="29.0" text-anchor="start">Tris12U-PG</text>
<rect x="667.69" y="1150.20" width="41.43" height="41.40" fill="#9b2194"/>
<text transform="translate(699.2,1138.5) rotate(-90)" font-size="29.0" text-anchor="start">M-PG</text>
<rect x="708.82" y="1150.20" width="41.43" height="41.40" fill="#ea3e6d"/>
<text transform="translate(740.3,1138.5) rotate(-90)" font-size="29.0" text-anchor="start">U-PG</text>
<rect x="749.95" y="1150.20" width="41.43" height="41.40" fill="#753400"/>
<text transform="translate(781.4,1138.5) rotate(-90)" font-size="29.0" text-anchor="start">TP53-PG</text>
<text x="667.7" y="1226.2" font-size="27" text-anchor="middle" font-weight="bold" letter-spacing="1.0">PG</text>
<rect x="857.80" y="1150.20" width="41.10" height="41.40" fill="#00008b"/>
<rect x="898.90" y="1150.20" width="41.10" height="41.40" fill="#cccccc"/>
<text transform="translate(889.9,1141.5) rotate(-90)" font-size="28.0" text-anchor="start">mut</text>
<text transform="translate(931.0,1141.5) rotate(-90)" font-size="28.0" text-anchor="start">wt</text>
<text x="899.5" y="1226.2" font-size="27" text-anchor="middle" font-weight="bold" letter-spacing="0.5">SF3B1</text>
<rect x="989.60" y="1150.20" width="30.30" height="41.40" fill="#000004"/>
<rect x="1019.30" y="1150.20" width="20.90" height="41.40" fill="#02020c"/>
<rect x="1039.60" y="1150.20" width="28.70" height="41.40" fill="#060419"/>
<rect x="1067.70" y="1150.20" width="17.40" height="41.40" fill="#0b0724"/>
<rect x="1084.50" y="1150.20" width="26.60" height="41.40" fill="#120a32"/>
<rect x="1110.50" y="1150.20" width="17.00" height="41.40" fill="#1b0c41"/>
<rect x="1126.90" y="1150.20" width="24.40" height="41.40" fill="#230c4c"/>
<rect x="1150.70" y="1150.20" width="14.40" height="41.40" fill="#2d0b59"/>
<rect x="1164.50" y="1150.20" width="21.00" height="41.40" fill="#380962"/>
<rect x="1184.90" y="1150.20" width="13.70" height="41.40" fill="#400a67"/>
<rect x="1198.00" y="1150.20" width="19.80" height="41.40" fill="#4a0c6b"/>
<rect x="1217.20" y="1150.20" width="13.00" height="41.40" fill="#520e6d"/>
<rect x="1229.60" y="1150.20" width="14.40" height="41.40" fill="#5c126e"/>
<rect x="1243.40" y="1150.20" width="9.80" height="41.40" fill="#65156e"/>
<rect x="1252.60" y="1150.20" width="13.70" height="41.40" fill="#6d186e"/>
<rect x="1265.70" y="1150.20" width="10.20" height="41.40" fill="#771c6d"/>
<rect x="1275.30" y="1150.20" width="15.70" height="41.40" fill="#801f6c"/>
<rect x="1290.40" y="1150.20" width="10.40" height="41.40" fill="#88226a"/>
<rect x="1300.20" y="1150.20" width="11.00" height="41.40" fill="#922568"/>
<rect x="1310.60" y="1150.20" width="9.50" height="41.40" fill="#9b2964"/>
<rect x="1319.50" y="1150.20" width="2.20" height="41.40" fill="#a32c61"/>
<rect x="1321.10" y="1150.20" width="6.00" height="41.40" fill="#d54a41"/>
<rect x="1326.50" y="1150.20" width="5.10" height="41.40" fill="#db503b"/>
<rect x="1331.00" y="1150.20" width="6.70" height="41.40" fill="#e15635"/>
<rect x="1337.10" y="1150.20" width="5.20" height="41.40" fill="#e65d2f"/>
<rect x="1341.70" y="1150.20" width="8.70" height="41.40" fill="#eb6429"/>
<rect x="1349.80" y="1150.20" width="7.00" height="41.40" fill="#ef6c23"/>
<rect x="1356.20" y="1150.20" width="12.10" height="41.40" fill="#f2741c"/>
<rect x="1367.70" y="1150.20" width="7.80" height="41.40" fill="#f57d15"/>
<rect x="1374.90" y="1150.20" width="14.30" height="41.40" fill="#f8850f"/>
<rect x="1388.60" y="1150.20" width="10.20" height="41.40" fill="#f98e09"/>
<rect x="1398.20" y="1150.20" width="15.90" height="41.40" fill="#fb9706"/>
<rect x="1413.50" y="1150.20" width="11.70" height="41.40" fill="#fca108"/>
<rect x="1424.60" y="1150.20" width="19.60" height="41.40" fill="#fcaa0f"/>
<rect x="1443.60" y="1150.20" width="13.20" height="41.40" fill="#fcb418"/>
<rect x="1456.20" y="1150.20" width="21.30" height="41.40" fill="#fbbe23"/>
<rect x="1476.90" y="1150.20" width="15.10" height="41.40" fill="#f9c72f"/>
<rect x="1491.40" y="1150.20" width="23.90" height="41.40" fill="#f7d13d"/>
<rect x="1514.70" y="1150.20" width="17.00" height="41.40" fill="#f5db4c"/>
<rect x="1531.10" y="1150.20" width="25.80" height="41.40" fill="#f3e55d"/>
<rect x="1556.30" y="1150.20" width="18.40" height="41.40" fill="#f1ed71"/>
<rect x="1574.10" y="1150.20" width="28.40" height="41.40" fill="#f3f586"/>
<text x="1013.9" y="1140.9" font-size="27.5" text-anchor="middle">−1.5</text>
<text x="1116.4" y="1140.9" font-size="27.5" text-anchor="middle">−1</text>
<text x="1215.0" y="1140.9" font-size="27.5" text-anchor="middle">−0.5</text>
<text x="1321.0" y="1140.9" font-size="27.5" text-anchor="middle">0</text>
<text x="1420.0" y="1140.9" font-size="27.5" text-anchor="middle">0.5</text>
<text x="1522.8" y="1140.9" font-size="27.5" text-anchor="middle">1</text>
<text x="1293.5" y="1226.0" font-size="27" text-anchor="middle" font-weight="bold" letter-spacing="1.0">Normalised protein abundance</text>
<text x="-0.5" y="1289.6" font-size="50" font-weight="bold">c</text>
<text x="159.2" y="1326.0" font-size="28" letter-spacing="0.3">Phospho-levels</text>
<text x="159.2" y="1357.1" font-size="28" letter-spacing="0.32">BcR Pathway</text>
<rect x="134.2" y="1404.9" width="350.9" height="477.8" fill="none" stroke="#333333" stroke-width="3"/>
<text x="158.0" y="1436.6" font-size="28.2" fill="#1a1a1a">Wilcoxon, p = 5.59e-04</text>
<line x1="120" y1="1560.8" x2="134" y2="1560.8" stroke="#333333" stroke-width="3"/>
<text x="111.6" y="1569.4" font-size="24" text-anchor="end" fill="#4d4d4d">0.2</text>
<line x1="120" y1="1678.4" x2="134" y2="1678.4" stroke="#333333" stroke-width="3"/>
<text x="111.6" y="1687.0" font-size="24" text-anchor="end" fill="#4d4d4d">0.0</text>
<line x1="120" y1="1796.0" x2="134" y2="1796.0" stroke="#333333" stroke-width="3"/>
<text x="111.6" y="1804.6" font-size="24" text-anchor="end" fill="#4d4d4d">-0.2</text>
<line x1="230" y1="1493.3" x2="230" y2="1864.5" stroke="#333333" stroke-width="3"/>
<rect x="170.5" y="1612.8" width="119.5" height="110.8" fill="#bebebe" stroke="#333333" stroke-width="3"/>
<line x1="170.5" y1="1682.7" x2="290" y2="1682.7" stroke="#333333" stroke-width="6"/>
<line x1="390" y1="1724.2" x2="390" y2="1864.5" stroke="#333333" stroke-width="3"/>
<rect x="330.2" y="1729.3" width="119.6" height="61.9" fill="#a395d3" stroke="#333333" stroke-width="3"/>
<line x1="330.2" y1="1762.7" x2="449.8" y2="1762.7" stroke="#333333" stroke-width="6"/>
<ellipse cx="390" cy="1634.9" rx="3.6" ry="4.2" fill="#333333"/>
<line x1="230" y1="1883" x2="230" y2="1899" stroke="#333333" stroke-width="3"/>
<line x1="390" y1="1883" x2="390" y2="1899" stroke="#333333" stroke-width="3"/>
<text x="212.8" y="1924.5" font-size="24.5" text-anchor="middle" fill="#4d4d4d">other</text>
<text x="383.0" y="1924.5" font-size="24.5" text-anchor="middle" fill="#4d4d4d">ASB–CLL</text>
<text transform="translate(20.8,1638.0) rotate(-90)" font-size="28.6" text-anchor="middle">Mean abundance</text>
<text transform="translate(56.1,1638.4) rotate(-90)" font-size="28.4" text-anchor="middle">BcR phosphopeptides</text>
<text x="501.5" y="1289.0" font-size="50" font-weight="bold">d</text>
<text x="594.5" y="1326.6" font-size="28" letter-spacing="1.0">1000 most variable</text>
<text x="593.3" y="1357.1" font-size="28" letter-spacing="1.1">skipped exon events</text>
<rect x="595.0" y="1383.4" width="373.0" height="505.5" fill="none" stroke="#333333" stroke-width="2"/>
<text x="638.0" y="1415.6" font-size="28">Wilcoxon, p = 6.84e−05</text>
<line x1="584" y1="1475.3" x2="595" y2="1475.3" stroke="#333333" stroke-width="3"/>
<text x="576.4" y="1484.4" font-size="24.5" text-anchor="end" fill="#4d4d4d">0.8</text>
<line x1="584" y1="1615.3" x2="595" y2="1615.3" stroke="#333333" stroke-width="3"/>
<text x="576.4" y="1624.4" font-size="24.5" text-anchor="end" fill="#4d4d4d">0.7</text>
<line x1="584" y1="1755.3" x2="595" y2="1755.3" stroke="#333333" stroke-width="3"/>
<text x="576.4" y="1764.4" font-size="24.5" text-anchor="end" fill="#4d4d4d">0.6</text>
<line x1="696.2" y1="1461" x2="696.2" y2="1798.3" stroke="#333333" stroke-width="3.2"/>
<rect x="632.8" y="1608.0" width="127.1" height="101.0" fill="#bebebe" stroke="#333333" stroke-width="3"/>
<line x1="632.8" y1="1660.7" x2="759.9" y2="1660.7" stroke="#333333" stroke-width="6.5"/>
<line x1="866.2" y1="1531.6" x2="866.2" y2="1623.9" stroke="#333333" stroke-width="3.2"/>
<rect x="802.3" y="1541.0" width="128.0" height="54.4" fill="#a0a0fa" stroke="#333333" stroke-width="3"/>
<line x1="802.3" y1="1566.8" x2="930.3" y2="1566.8" stroke="#333333" stroke-width="6.5"/>
<circle cx="696.1" cy="1460.2" r="6.6" fill="#333" fill-opacity="0.5" stroke="#000" stroke-opacity="0.55" stroke-width="2.1"/>
<circle cx="702.9" cy="1546.5" r="6.6" fill="#333" fill-opacity="0.5" stroke="#000" stroke-opacity="0.55" stroke-width="2.1"/>
<circle cx="695.5" cy="1549" r="6.6" fill="#333" fill-opacity="0.5" stroke="#000" stroke-opacity="0.55" stroke-width="2.1"/>
<circle cx="696.1" cy="1558.6" r="6.6" fill="#333" fill-opacity="0.5" stroke="#000" stroke-opacity="0.55" stroke-width="2.1"/>
<circle cx="696.1" cy="1568.4" r="6.6" fill="#333" fill-opacity="0.5" stroke="#000" stroke-opacity="0.55" stroke-width="2.1"/>
<circle cx="702.9" cy="1581.4" r="6.6" fill="#333" fill-opacity="0.5" stroke="#000" stroke-opacity="0.55" stroke-width="2.1"/>
<circle cx="696.7" cy="1582" r="6.6" fill="#333" fill-opacity="0.5" stroke="#000" stroke-opacity="0.55" stroke-width="2.1"/>
<circle cx="686.7" cy="1590.8" r="6.6" fill="#333" fill-opacity="0.5" stroke="#000" stroke-opacity="0.55" stroke-width="2.1"/>
<circle cx="705.4" cy="1592.6" r="6.6" fill="#333" fill-opacity="0.5" stroke="#000" stroke-opacity="0.55" stroke-width="2.1"/>
<circle cx="700.4" cy="1592.6" r="6.6" fill="#333" fill-opacity="0.5" stroke="#000" stroke-opacity="0.55" stroke-width="2.1"/>
<circle cx="689.8" cy="1598.3" r="6.6" fill="#333" fill-opacity="0.5" stroke="#000" stroke-opacity="0.55" stroke-width="2.1"/>
<circle cx="702.9" cy="1603.2" r="6.6" fill="#333" fill-opacity="0.5" stroke="#000" stroke-opacity="0.55" stroke-width="2.1"/>
<circle cx="696.1" cy="1603.2" r="6.6" fill="#333" fill-opacity="0.5" stroke="#000" stroke-opacity="0.55" stroke-width="2.1"/>
<circle cx="701.7" cy="1615.1" r="6.6" fill="#333" fill-opacity="0.5" stroke="#000" stroke-opacity="0.55" stroke-width="2.1"/>
<circle cx="697.3" cy="1620.7" r="6.6" fill="#333" fill-opacity="0.5" stroke="#000" stroke-opacity="0.55" stroke-width="2.1"/>
<circle cx="683" cy="1626.9" r="6.6" fill="#333" fill-opacity="0.5" stroke="#000" stroke-opacity="0.55" stroke-width="2.1"/>
<circle cx="689.8" cy="1629.4" r="6.6" fill="#333" fill-opacity="0.5" stroke="#000" stroke-opacity="0.55" stroke-width="2.1"/>
<circle cx="703.6" cy="1629.4" r="6.6" fill="#333" fill-opacity="0.5" stroke="#000" stroke-opacity="0.55" stroke-width="2.1"/>
<circle cx="697.3" cy="1632.5" r="6.6" fill="#333" fill-opacity="0.5" stroke="#000" stroke-opacity="0.55" stroke-width="2.1"/>
<circle cx="702.3" cy="1640" r="6.6" fill="#333" fill-opacity="0.5" stroke="#000" stroke-opacity="0.55" stroke-width="2.1"/>
<circle cx="696.1" cy="1641.9" r="6.6" fill="#333" fill-opacity="0.5" stroke="#000" stroke-opacity="0.55" stroke-width="2.1"/>
<circle cx="684.2" cy="1648.7" r="6.6" fill="#333" fill-opacity="0.5" stroke="#000" stroke-opacity="0.55" stroke-width="2.1"/>
<circle cx="704.2" cy="1651.8" r="6.6" fill="#333" fill-opacity="0.5" stroke="#000" stroke-opacity="0.55" stroke-width="2.1"/>
<circle cx="691.1" cy="1651.8" r="6.6" fill="#333" fill-opacity="0.5" stroke="#000" stroke-opacity="0.55" stroke-width="2.1"/>
<circle cx="698.6" cy="1654.3" r="6.6" fill="#333" fill-opacity="0.5" stroke="#000" stroke-opacity="0.55" stroke-width="2.1"/>
<circle cx="694.8" cy="1663" r="6.6" fill="#333" fill-opacity="0.5" stroke="#000" stroke-opacity="0.55" stroke-width="2.1"/>
<circle cx="699.8" cy="1665.5" r="6.6" fill="#333" fill-opacity="0.5" stroke="#000" stroke-opacity="0.55" stroke-width="2.1"/>
<circle cx="692.3" cy="1668" r="6.6" fill="#333" fill-opacity="0.5" stroke="#000" stroke-opacity="0.55" stroke-width="2.1"/>
<circle cx="683" cy="1677.4" r="6.6" fill="#333" fill-opacity="0.5" stroke="#000" stroke-opacity="0.55" stroke-width="2.1"/>
<circle cx="709.8" cy="1678" r="6.6" fill="#333" fill-opacity="0.5" stroke="#000" stroke-opacity="0.55" stroke-width="2.1"/>
<circle cx="696.7" cy="1665.6" r="6.6" fill="#333" fill-opacity="0.5" stroke="#000" stroke-opacity="0.55" stroke-width="2.1"/>
<circle cx="682.4" cy="1679.3" r="6.6" fill="#333" fill-opacity="0.5" stroke="#000" stroke-opacity="0.55" stroke-width="2.1"/>
<circle cx="689.8" cy="1682.4" r="6.6" fill="#333" fill-opacity="0.5" stroke="#000" stroke-opacity="0.55" stroke-width="2.1"/>
<circle cx="698.6" cy="1683.7" r="6.6" fill="#333" fill-opacity="0.5" stroke="#000" stroke-opacity="0.55" stroke-width="2.1"/>
<circle cx="709.8" cy="1682.4" r="6.6" fill="#333" fill-opacity="0.5" stroke="#000" stroke-opacity="0.55" stroke-width="2.1"/>
<circle cx="689.8" cy="1693.6" r="6.6" fill="#333" fill-opacity="0.5" stroke="#000" stroke-opacity="0.55" stroke-width="2.1"/>
<circle cx="697.3" cy="1697.4" r="6.6" fill="#333" fill-opacity="0.5" stroke="#000" stroke-opacity="0.55" stroke-width="2.1"/>
<circle cx="708.5" cy="1693" r="6.6" fill="#333" fill-opacity="0.5" stroke="#000" stroke-opacity="0.55" stroke-width="2.1"/>
<circle cx="699.8" cy="1697.4" r="6.6" fill="#333" fill-opacity="0.5" stroke="#000" stroke-opacity="0.55" stroke-width="2.1"/>
<circle cx="702.3" cy="1713" r="6.6" fill="#333" fill-opacity="0.5" stroke="#000" stroke-opacity="0.55" stroke-width="2.1"/>
<circle cx="696.7" cy="1714.8" r="6.6" fill="#333" fill-opacity="0.5" stroke="#000" stroke-opacity="0.55" stroke-width="2.1"/>
<circle cx="689.2" cy="1721.1" r="6.6" fill="#333" fill-opacity="0.5" stroke="#000" stroke-opacity="0.55" stroke-width="2.1"/>
<circle cx="702.3" cy="1722.9" r="6.6" fill="#333" fill-opacity="0.5" stroke="#000" stroke-opacity="0.55" stroke-width="2.1"/>
<circle cx="696.1" cy="1724.8" r="6.6" fill="#333" fill-opacity="0.5" stroke="#000" stroke-opacity="0.55" stroke-width="2.1"/>
<circle cx="691.1" cy="1762.8" r="6.6" fill="#333" fill-opacity="0.5" stroke="#000" stroke-opacity="0.55" stroke-width="2.1"/>
<circle cx="700.4" cy="1763.4" r="6.6" fill="#333" fill-opacity="0.5" stroke="#000" stroke-opacity="0.55" stroke-width="2.1"/>
<circle cx="694.8" cy="1770.3" r="6.6" fill="#333" fill-opacity="0.5" stroke="#000" stroke-opacity="0.55" stroke-width="2.1"/>
<circle cx="700.4" cy="1777.1" r="6.6" fill="#333" fill-opacity="0.5" stroke="#000" stroke-opacity="0.55" stroke-width="2.1"/>
<circle cx="694.8" cy="1784.6" r="6.6" fill="#333" fill-opacity="0.5" stroke="#000" stroke-opacity="0.55" stroke-width="2.1"/>
<circle cx="700.4" cy="1791.5" r="6.6" fill="#333" fill-opacity="0.5" stroke="#000" stroke-opacity="0.55" stroke-width="2.1"/>
<circle cx="696.1" cy="1799.6" r="6.6" fill="#333" fill-opacity="0.5" stroke="#000" stroke-opacity="0.55" stroke-width="2.1"/>
<circle cx="696.1" cy="1866.2" r="6.6" fill="#333" fill-opacity="0.5" stroke="#000" stroke-opacity="0.55" stroke-width="2.1"/>
<circle cx="859.6" cy="1532" r="6.6" fill="#333" fill-opacity="0.5" stroke="#000" stroke-opacity="0.55" stroke-width="2.1"/>
<circle cx="865.4" cy="1536.6" r="6.6" fill="#333" fill-opacity="0.5" stroke="#000" stroke-opacity="0.55" stroke-width="2.1"/>
<circle cx="872.8" cy="1539.9" r="6.6" fill="#333" fill-opacity="0.5" stroke="#000" stroke-opacity="0.55" stroke-width="2.1"/>
<circle cx="870.7" cy="1542.4" r="6.6" fill="#333" fill-opacity="0.5" stroke="#000" stroke-opacity="0.55" stroke-width="2.1"/>
<circle cx="866.2" cy="1546.9" r="6.6" fill="#333" fill-opacity="0.5" stroke="#000" stroke-opacity="0.55" stroke-width="2.1"/>
<circle cx="866.2" cy="1566" r="6.6" fill="#333" fill-opacity="0.5" stroke="#000" stroke-opacity="0.55" stroke-width="2.1"/>
<circle cx="866.2" cy="1577.1" r="6.6" fill="#333" fill-opacity="0.5" stroke="#000" stroke-opacity="0.55" stroke-width="2.1"/>
<circle cx="866.2" cy="1593.7" r="6.6" fill="#333" fill-opacity="0.5" stroke="#000" stroke-opacity="0.55" stroke-width="2.1"/>
<circle cx="866.2" cy="1614" r="6.6" fill="#333" fill-opacity="0.5" stroke="#000" stroke-opacity="0.55" stroke-width="2.1"/>
<circle cx="866.2" cy="1624.8" r="6.6" fill="#333" fill-opacity="0.5" stroke="#000" stroke-opacity="0.55" stroke-width="2.1"/>
<line x1="696.2" y1="1889" x2="696.2" y2="1900" stroke="#333333" stroke-width="3"/>
<line x1="866.2" y1="1889" x2="866.2" y2="1900" stroke="#333333" stroke-width="3"/>
<text x="696.2" y="1924.4" font-size="24.5" text-anchor="middle" fill="#4d4d4d">other</text>
<text x="866.2" y="1924.4" font-size="24.5" text-anchor="middle" fill="#4d4d4d">ASB–CLL</text>
<text transform="translate(527.3,1635.6) rotate(-90)" font-size="28.4" text-anchor="middle">PSI sample means</text>
<text x="1000.5" y="1289.6" font-size="50" font-weight="bold">e</text>
<text x="1087.4" y="1326.6" font-size="28" letter-spacing="1.25">Comparison Nr. differential</text>
<text x="1087.4" y="1357.1" font-size="28" letter-spacing="1.25">exon skipping events in ASB–</text>
<text x="1087.4" y="1387.6" font-size="28" letter-spacing="1.25">CLL to random sampling</text>
<rect x="1089.2" y="1413.9" width="379.1" height="444.2" fill="none" stroke="#333333" stroke-width="2"/>
<line x1="1078.3" y1="1840.2" x2="1089.2" y2="1840.2" stroke="#333333" stroke-width="3"/>
<text x="1070.0" y="1848.5" font-size="23.5" text-anchor="end" fill="#4d4d4d">0</text>
<line x1="1078.3" y1="1720.5" x2="1089.2" y2="1720.5" stroke="#333333" stroke-width="3"/>
<text x="1070.0" y="1728.8" font-size="23.5" text-anchor="end" fill="#4d4d4d">5</text>
<line x1="1078.3" y1="1600.8" x2="1089.2" y2="1600.8" stroke="#333333" stroke-width="3"/>
<text x="1070.0" y="1609.1" font-size="23.5" text-anchor="end" fill="#4d4d4d">10</text>
<line x1="1078.3" y1="1480.4" x2="1089.2" y2="1480.4" stroke="#333333" stroke-width="3"/>
<text x="1070.0" y="1488.7" font-size="23.5" text-anchor="end" fill="#4d4d4d">15</text>
<line x1="1105.2" y1="1858" x2="1105.2" y2="1868" stroke="#333333" stroke-width="3"/>
<text x="1105.2" y="1893.9" font-size="23.5" text-anchor="middle" fill="#4d4d4d">0</text>
<line x1="1178.9" y1="1858" x2="1178.9" y2="1868" stroke="#333333" stroke-width="3"/>
<text x="1178.9" y="1893.9" font-size="23.5" text-anchor="middle" fill="#4d4d4d">100</text>
<line x1="1252.5" y1="1858" x2="1252.5" y2="1868" stroke="#333333" stroke-width="3"/>
<text x="1252.5" y="1893.9" font-size="23.5" text-anchor="middle" fill="#4d4d4d">200</text>
<line x1="1326.2" y1="1858" x2="1326.2" y2="1868" stroke="#333333" stroke-width="3"/>
<text x="1326.2" y="1893.9" font-size="23.5" text-anchor="middle" fill="#4d4d4d">300</text>
<line x1="1399.8" y1="1858" x2="1399.8" y2="1868" stroke="#333333" stroke-width="3"/>
<text x="1399.8" y="1893.9" font-size="23.5" text-anchor="middle" fill="#4d4d4d">400</text>
<rect x="1105.50" y="1837.00" width="345.40" height="3.80" fill="#999999"/>
<path d="M1109.9,1840 V1765.4 H1112.9 V1646.4 H1115.7 V1622.5 H1118.7 V1431.2 H1124.9 V1622.5 H1127.9 V1789.6 H1133.6 V1813.5 H1136.9 V1840 Z M1138.9,1840 V1813.5 H1169 V1840 Z" fill="#999999"/>
<rect x="1415.70" y="1414.90" width="13.50" height="9.50" fill="#6a6aff"/>
<rect x="1415.70" y="1479.10" width="13.50" height="54.10" fill="#6a6aff"/>
<rect x="1415.70" y="1587.90" width="13.50" height="54.10" fill="#6a6aff"/>
<rect x="1415.70" y="1696.00" width="13.50" height="54.40" fill="#6a6aff"/>
<rect x="1415.70" y="1805.00" width="13.50" height="52.10" fill="#6a6aff"/>
<text x="1141.0" y="1478.0" font-size="29" fill="#999999">Random</text>
<text x="1141.0" y="1516.4" font-size="29" fill="#999999">sampling</text>
<text x="1275.0" y="1478.0" font-size="28.3" fill="#6a6aff">ASB–CLL</text>
<text x="1182.5" y="1824.0" font-size="28.2">p−value &lt; 0.0172</text>
<text transform="translate(1027.5,1635.7) rotate(-90)" font-size="28.0" text-anchor="middle">Count</text>
<text x="1274.7" y="1930.1" font-size="28.3" text-anchor="middle">Number of significant</text>
<text x="1278.2" y="1959.8" font-size="28.2" text-anchor="middle">exon skipping events</text>
<text x="1495.5" y="1288.7" font-size="50" font-weight="bold">f</text>
<text x="1646.7" y="1326.6" font-size="28" letter-spacing="1.03">Peptides – Exon usage</text>
<rect x="1648.0" y="1353.2" width="320.8" height="481.4" fill="none" stroke="#333333" stroke-width="2"/>
<line x1="1637.4" y1="1372.0" x2="1648" y2="1372.0" stroke="#333333" stroke-width="3"/>
<text x="1628.5" y="1380.3" font-size="23.5" text-anchor="end" fill="#4d4d4d">1000</text>
<line x1="1637.4" y1="1488.3" x2="1648" y2="1488.3" stroke="#333333" stroke-width="3"/>
<text x="1628.5" y="1496.6" font-size="23.5" text-anchor="end" fill="#4d4d4d">750</text>
<line x1="1637.4" y1="1604.3" x2="1648" y2="1604.3" stroke="#333333" stroke-width="3"/>
<text x="1628.5" y="1612.6" font-size="23.5" text-anchor="end" fill="#4d4d4d">500</text>
<line x1="1637.4" y1="1719.7" x2="1648" y2="1719.7" stroke="#333333" stroke-width="3"/>
<text x="1628.5" y="1728.0" font-size="23.5" text-anchor="end" fill="#4d4d4d">250</text>
<line x1="1637.4" y1="1835.9" x2="1648" y2="1835.9" stroke="#333333" stroke-width="3"/>
<text x="1628.5" y="1844.2" font-size="23.5" text-anchor="end" fill="#4d4d4d">0</text>
<rect x="1654.60" y="1396.10" width="47.10" height="437.90" fill="#9b98ff"/>
<rect x="1706.90" y="1735.80" width="47.10" height="98.20" fill="#ffbb48"/>
<rect x="1758.90" y="1708.60" width="47.10" height="125.40" fill="#00b159"/>
<rect x="1811.20" y="1684.80" width="46.60" height="149.20" fill="#9b2194"/>
<rect x="1863.20" y="1768.60" width="46.90" height="65.40" fill="#ea3e6d"/>
<rect x="1915.20" y="1828.40" width="46.90" height="5.60" fill="#753400"/>
<text x="1679.8" y="1405.6" font-size="40" text-anchor="middle" font-weight="bold" letter-spacing="3.7">***</text>
<line x1="1678.2" y1="1836" x2="1678.2" y2="1845.7" stroke="#333333" stroke-width="3"/>
<text transform="translate(1690.2,1865.0) rotate(-45)" font-size="24.8" text-anchor="end" fill="#4d4d4d">ASB–CLL</text>
<line x1="1730.5" y1="1836" x2="1730.5" y2="1845.7" stroke="#333333" stroke-width="3"/>
<text transform="translate(1742.5,1865.0) rotate(-45)" font-size="24.8" text-anchor="end" fill="#4d4d4d">Tris12M–PG</text>
<line x1="1782.5" y1="1836" x2="1782.5" y2="1845.7" stroke="#333333" stroke-width="3"/>
<text transform="translate(1794.5,1865.0) rotate(-45)" font-size="24.8" text-anchor="end" fill="#4d4d4d">Tris12U–PG</text>
<line x1="1834.5" y1="1836" x2="1834.5" y2="1845.7" stroke="#333333" stroke-width="3"/>
<text transform="translate(1846.5,1865.0) rotate(-45)" font-size="24.8" text-anchor="end" fill="#4d4d4d">M–PG</text>
<line x1="1886.7" y1="1836" x2="1886.7" y2="1845.7" stroke="#333333" stroke-width="3"/>
<text transform="translate(1898.7,1865.0) rotate(-45)" font-size="24.8" text-anchor="end" fill="#4d4d4d">U–PG</text>
<line x1="1938.7" y1="1836" x2="1938.7" y2="1845.7" stroke="#333333" stroke-width="3"/>
<text transform="translate(1950.7,1865.0) rotate(-45)" font-size="24.8" text-anchor="end" fill="#4d4d4d">TP53–PG</text>
<text transform="translate(1529.2,1594.2) rotate(-90)" font-size="28.2" text-anchor="middle">Nr. exons with differential exon usage</text>
<text transform="translate(1560.3,1593.5) rotate(-90)" font-size="28.3" text-anchor="middle">(Adjusted p &lt;0.01 and |log2FC| &gt;0.5)</text>
</svg>
</body></html>
